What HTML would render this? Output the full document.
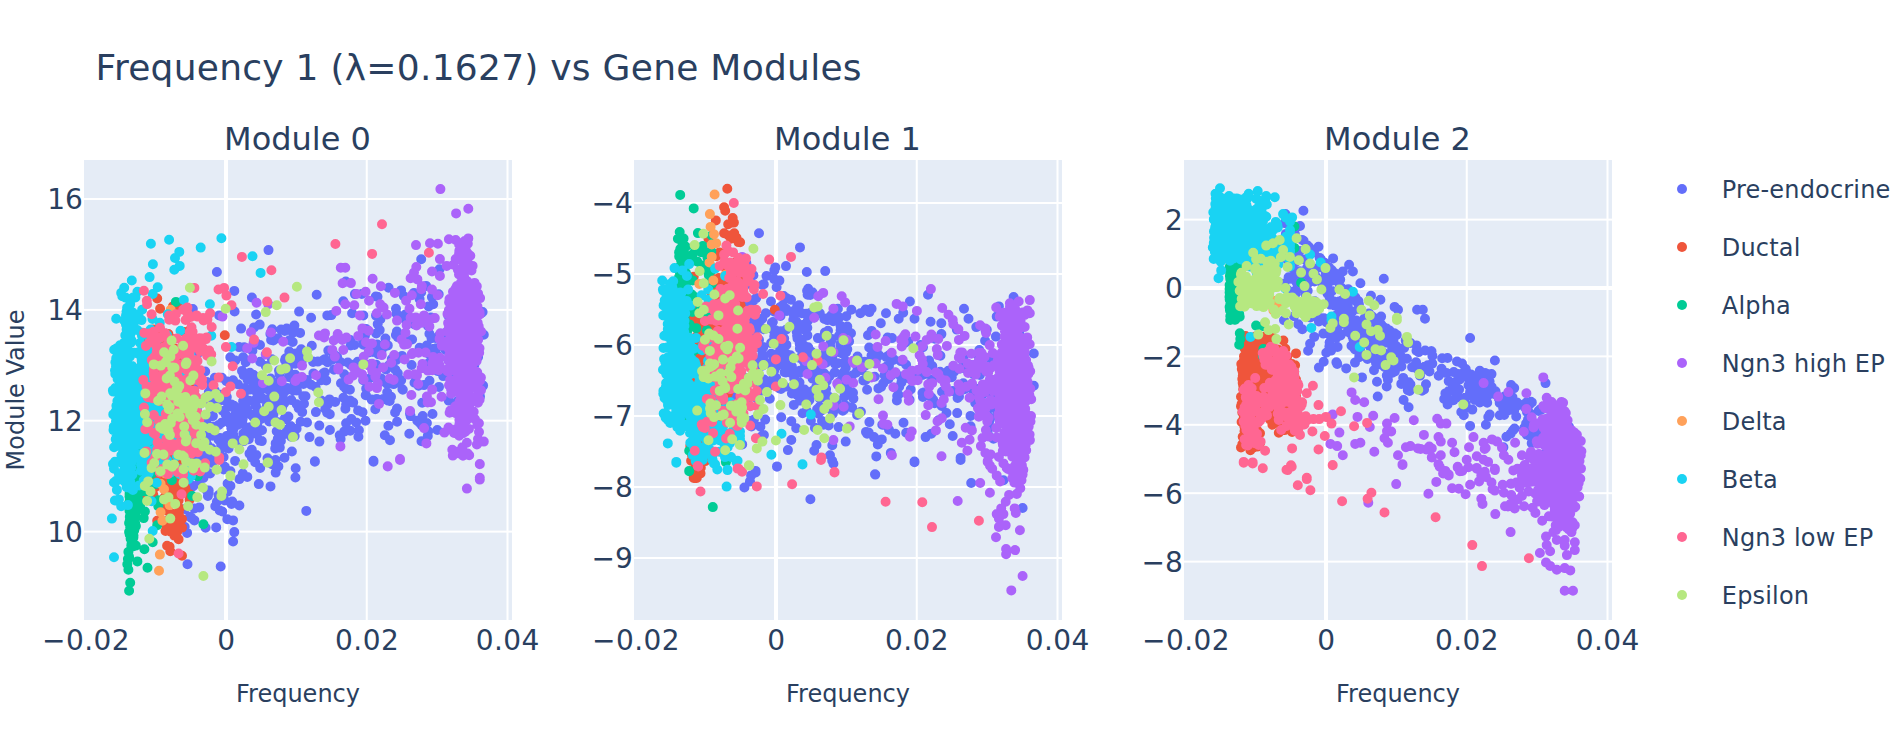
<!DOCTYPE html><html><head><meta charset="utf-8"><title>Frequency 1 vs Gene Modules</title>
<style>html,body{margin:0;padding:0;background:#fff;overflow:hidden}svg{display:block}text{font-family:'DejaVu Sans','Liberation Sans',sans-serif;fill:#2a3f5f}.d{fill:none;stroke-width:10;stroke-linecap:round}</style></head><body>
<svg width="1900" height="740" viewBox="0 0 1900 740">
<rect width="1900" height="740" fill="#fff"/>
<clipPath id="c0"><rect x="84" y="160" width="428" height="460"/></clipPath>
<rect x="84" y="160" width="428" height="460" fill="#E5ECF6"/>
<rect x="365.75" y="160" width="2" height="460" fill="#fff"/><rect x="506.50" y="160" width="2" height="460" fill="#fff"/><rect x="84" y="198.00" width="428" height="2" fill="#fff"/><rect x="84" y="308.90" width="428" height="2" fill="#fff"/><rect x="84" y="419.70" width="428" height="2" fill="#fff"/><rect x="84" y="530.60" width="428" height="2" fill="#fff"/><rect x="224.00" y="160" width="4" height="460" fill="#fff"/>
<g clip-path="url(#c0)">
<path class="d" stroke="#636EFA" d="M255.9 405.7h0M287.2 387.9h0M273.2 394.5h0M209.9 383.9h0M218.5 425.0h0M284.5 391.0h0M184.6 509.0h0M278.4 466.4h0M275.7 391.7h0M237.8 384.2h0M218.8 424.9h0M216.0 403.0h0M213.3 398.7h0M235.2 414.9h0M242.0 370.9h0M247.7 435.8h0M298.5 381.6h0M275.2 406.7h0M255.6 399.8h0M297.7 359.3h0M208.8 392.2h0M202.4 427.6h0M254.4 385.6h0M189.1 457.5h0M188.1 447.2h0M243.2 357.3h0M237.6 419.0h0M289.5 340.2h0M256.4 382.0h0M243.1 401.3h0M241.1 328.6h0M212.5 435.8h0M185.4 456.1h0M206.1 428.8h0M263.6 386.3h0M207.1 418.7h0M226.5 381.2h0M184.4 437.3h0M279.5 374.0h0M201.8 442.7h0M214.8 377.7h0M285.2 400.8h0M242.6 419.5h0M281.4 388.6h0M257.6 388.6h0M269.3 421.5h0M194.5 367.5h0M246.2 430.6h0M242.4 423.8h0M284.2 403.2h0M225.5 439.8h0M252.8 382.1h0M190.8 433.7h0M228.6 448.5h0M221.1 444.8h0M201.3 448.2h0M277.9 338.2h0M227.6 445.0h0M296.6 428.8h0M251.8 449.7h0M253.6 417.5h0M257.4 344.1h0M261.8 441.1h0M201.3 432.3h0M234.6 311.5h0M211.5 449.0h0M230.3 357.3h0M195.1 384.0h0M295.3 363.8h0M208.7 490.5h0M261.3 389.5h0M218.5 439.6h0M284.5 457.8h0M260.2 467.9h0M199.1 435.7h0M281.2 385.0h0M292.7 342.0h0M288.0 364.9h0M249.5 427.4h0M200.7 457.1h0M206.1 440.7h0M290.7 426.0h0M247.5 379.7h0M204.8 434.2h0M285.7 419.1h0M257.8 429.2h0M249.5 453.6h0M227.3 439.2h0M231.3 406.7h0M211.5 448.3h0M188.4 401.1h0M284.8 330.9h0M237.8 440.3h0M247.0 409.2h0M221.0 439.6h0M270.4 333.9h0M186.9 431.4h0M226.8 397.0h0M187.5 408.0h0M198.1 339.1h0M295.2 374.8h0M259.6 440.6h0M233.2 434.5h0M244.2 388.1h0M284.4 391.9h0M223.6 457.1h0M251.9 297.5h0M262.6 398.6h0M224.9 447.1h0M243.7 441.1h0M272.0 464.3h0M288.6 432.4h0M201.4 452.9h0M291.3 400.1h0M184.6 485.8h0M270.6 378.6h0M277.2 394.6h0M199.7 480.7h0M232.2 501.6h0M277.8 389.8h0M185.6 446.7h0M256.3 414.6h0M275.2 448.5h0M243.0 412.2h0M267.5 458.3h0M210.0 390.7h0M206.8 427.1h0M225.8 414.8h0M204.6 471.9h0M223.8 469.4h0M293.0 332.7h0M249.9 372.8h0M223.1 439.4h0M215.2 401.3h0M293.5 332.1h0M235.1 460.9h0M296.7 404.2h0M243.3 433.6h0M243.9 393.4h0M287.1 429.4h0M269.4 390.7h0M250.8 453.9h0M233.1 380.3h0M285.0 360.2h0M231.3 428.3h0M290.1 363.6h0M191.9 475.8h0M233.4 429.3h0M243.7 375.1h0M293.4 390.6h0M212.9 416.1h0M276.7 431.3h0M261.8 378.9h0M266.5 384.4h0M256.4 455.0h0M295.7 468.3h0M222.3 511.5h0M229.8 423.4h0M207.3 444.8h0M189.8 516.7h0M208.5 428.8h0M289.3 353.9h0M280.6 398.8h0M196.9 462.2h0M253.4 374.8h0M239.1 347.1h0M252.4 350.8h0M259.8 431.3h0M219.3 394.6h0M294.6 382.2h0M237.6 425.0h0M256.2 431.5h0M257.1 393.0h0M205.1 458.7h0M191.1 404.7h0M231.3 404.4h0M271.9 359.3h0M277.8 438.9h0M267.9 399.7h0M197.0 408.2h0M289.0 377.1h0M276.2 388.1h0M284.9 418.4h0M244.2 347.3h0M289.3 351.6h0M189.4 429.2h0M187.5 564.3h0M186.3 492.5h0M213.1 426.5h0M212.6 463.0h0M205.6 527.8h0M249.2 400.8h0M188.5 430.3h0M251.9 457.8h0M203.1 459.9h0M262.0 430.3h0M186.4 425.1h0M219.7 510.4h0M291.9 451.5h0M245.9 435.1h0M277.3 422.1h0M259.7 324.6h0M254.2 433.4h0M206.0 427.3h0M250.1 427.4h0M188.6 478.5h0M276.2 383.6h0M294.4 325.6h0M282.2 407.4h0M189.8 412.2h0M222.9 410.9h0M220.6 400.5h0M197.0 426.2h0M256.1 314.5h0M275.7 443.4h0M220.1 437.9h0M283.2 434.8h0M275.7 472.6h0M198.9 441.5h0M272.2 329.2h0M285.5 358.5h0M206.7 381.9h0M250.0 389.6h0M257.5 409.3h0M254.1 327.4h0M195.1 458.5h0M260.0 345.0h0M256.7 418.4h0M278.7 391.2h0M276.4 384.5h0M221.6 422.8h0M267.0 380.2h0M283.7 369.8h0M286.7 328.6h0M202.6 436.8h0M187.1 532.9h0M258.8 484.1h0M208.7 492.7h0M248.8 439.2h0M292.7 363.5h0M227.6 483.5h0M213.1 428.9h0M236.5 413.9h0M259.6 393.5h0M195.6 446.7h0M227.8 403.5h0M199.4 436.4h0M260.2 361.8h0M279.5 380.8h0M227.3 519.3h0M226.7 419.7h0M246.0 402.1h0M208.7 457.7h0M212.5 462.9h0M221.9 377.8h0M236.6 408.0h0M193.4 485.9h0M270.6 409.9h0M250.6 414.5h0M218.5 495.3h0M192.9 413.4h0M271.8 402.1h0M199.1 416.9h0M199.3 507.4h0M199.0 352.4h0M193.3 413.5h0M288.2 370.9h0M215.0 459.2h0M219.2 453.7h0M279.8 447.6h0M255.3 344.2h0M205.5 469.6h0M234.0 405.7h0M285.7 367.0h0M227.2 445.3h0M265.8 365.9h0M195.1 348.5h0M267.6 386.5h0M273.3 340.5h0M279.0 370.6h0M261.5 418.7h0M226.6 436.0h0M191.4 517.9h0M243.7 404.9h0M271.1 340.0h0M205.9 402.3h0M214.6 390.2h0M245.7 362.3h0M270.1 416.6h0M287.1 367.1h0M198.5 351.5h0M205.2 467.5h0M275.9 392.5h0M258.1 420.0h0M266.9 405.4h0M298.6 408.1h0M292.0 390.0h0M280.9 440.9h0M273.4 414.4h0M229.4 437.5h0M257.7 422.3h0M205.2 371.5h0M271.3 392.7h0M271.1 389.2h0M266.9 409.4h0M235.2 360.5h0M227.5 491.7h0M232.3 423.5h0M187.8 391.8h0M281.1 329.6h0M246.4 400.2h0M228.6 417.7h0M395.9 335.0h0M429.7 354.6h0M363.4 344.7h0M451.0 364.9h0M468.3 322.9h0M364.5 363.9h0M315.9 412.1h0M437.3 430.0h0M482.6 312.0h0M317.9 361.6h0M428.0 325.9h0M449.9 372.2h0M468.5 310.0h0M313.1 362.0h0M306.9 380.0h0M481.6 313.0h0M311.8 345.8h0M323.5 360.0h0M401.1 290.4h0M376.0 315.6h0M435.3 338.0h0M326.2 380.4h0M467.3 339.4h0M331.4 315.1h0M439.0 335.8h0M302.2 412.1h0M381.3 378.5h0M295.3 384.0h0M350.2 340.0h0M349.9 389.7h0M429.4 333.8h0M377.7 324.1h0M300.1 355.6h0M483.1 385.6h0M462.3 352.6h0M467.7 380.1h0M337.1 356.7h0M365.9 395.2h0M333.3 353.6h0M313.4 373.4h0M295.4 477.5h0M387.2 383.9h0M313.0 361.4h0M323.4 373.3h0M456.8 356.9h0M383.4 398.9h0M324.8 359.2h0M419.6 299.1h0M340.8 362.3h0M391.8 359.1h0M344.2 374.2h0M389.7 401.0h0M411.6 365.0h0M393.6 384.1h0M366.1 329.1h0M443.2 376.1h0M459.3 410.4h0M324.0 402.2h0M315.6 387.0h0M311.1 384.8h0M480.0 396.5h0M472.6 316.0h0M334.0 369.7h0M478.1 356.9h0M329.5 399.4h0M387.8 345.4h0M386.0 369.5h0M467.4 336.6h0M296.9 390.5h0M350.5 364.6h0M406.0 320.0h0M301.9 382.8h0M335.1 402.0h0M379.7 330.1h0M460.8 338.8h0M437.4 371.0h0M450.7 315.2h0M437.4 356.0h0M427.0 319.2h0M454.7 382.0h0M421.9 425.4h0M432.5 414.0h0M347.8 362.5h0M321.7 401.9h0M436.5 354.3h0M321.3 380.2h0M468.3 391.7h0M405.3 314.5h0M353.2 402.6h0M471.6 342.7h0M319.3 425.6h0M389.3 365.0h0M306.9 357.3h0M477.3 351.6h0M401.2 380.2h0M445.7 350.0h0M344.0 386.7h0M445.4 332.9h0M426.1 285.9h0M414.5 382.8h0M474.4 364.8h0M373.5 367.6h0M369.9 366.0h0M424.0 385.1h0M451.8 333.8h0M354.3 344.9h0M419.6 347.7h0M329.8 414.2h0M396.6 313.7h0M439.0 386.9h0M301.7 360.7h0M430.9 317.4h0M292.0 434.9h0M475.9 340.5h0M380.4 319.3h0M368.8 352.5h0M429.5 380.8h0M391.0 396.7h0M431.5 338.2h0M305.5 396.2h0M398.7 380.0h0M397.8 337.1h0M470.8 355.1h0M296.7 385.1h0M377.3 344.6h0M412.1 339.5h0M396.4 359.9h0M303.5 383.9h0M404.7 338.4h0M332.3 359.7h0M327.1 412.6h0M460.3 352.8h0M327.6 404.8h0M377.6 400.3h0M435.3 369.0h0M426.9 423.0h0M396.9 331.5h0M446.4 373.6h0M379.8 350.9h0M410.0 413.7h0M448.7 400.6h0M421.2 292.2h0M414.2 324.2h0M368.2 385.7h0M397.9 382.6h0M366.2 388.6h0M434.1 348.8h0M363.2 380.3h0M380.0 382.0h0M436.3 348.2h0M387.2 392.2h0M354.9 294.1h0M450.2 367.5h0M363.3 332.0h0M453.7 376.8h0M442.1 342.5h0M376.2 333.5h0M428.0 363.7h0M295.7 353.5h0M365.0 335.5h0M456.8 299.0h0M402.0 355.9h0M397.8 373.3h0M418.6 385.8h0M421.1 348.9h0M402.8 389.8h0M371.0 364.0h0M324.8 372.6h0M346.1 388.9h0M346.1 404.8h0M373.0 351.9h0M483.8 334.7h0M357.7 361.8h0M376.2 364.7h0M361.5 336.8h0M402.4 389.2h0M473.8 331.7h0M462.4 360.0h0M362.5 339.0h0M341.0 383.2h0M461.5 358.0h0M385.3 346.3h0M422.7 416.1h0M303.3 396.2h0M458.0 400.9h0M350.0 400.4h0M385.4 338.6h0M327.6 362.2h0M370.9 377.5h0M450.5 349.9h0M450.4 349.6h0M381.4 351.5h0M438.7 294.3h0M378.3 354.3h0M361.8 294.0h0M395.4 369.8h0M328.3 350.5h0M350.7 345.5h0M426.8 345.5h0M439.3 358.5h0M300.1 332.9h0M431.9 297.1h0M448.4 315.7h0M375.8 296.5h0M301.2 349.2h0M422.2 402.8h0M337.0 337.7h0M414.5 375.0h0M365.5 420.8h0M304.0 403.7h0M362.6 412.3h0M375.3 409.3h0M346.1 423.3h0M409.3 433.7h0M340.6 439.0h0M358.1 410.5h0M300.6 421.8h0M365.7 395.3h0M395.1 412.5h0M390.0 440.2h0M321.3 400.6h0M427.8 435.9h0M388.4 425.7h0M345.4 408.8h0M344.2 431.6h0M397.0 408.6h0M309.5 437.1h0M376.7 398.9h0M388.2 400.6h0M358.9 430.3h0M410.6 416.1h0M352.0 401.9h0M351.4 419.1h0M325.3 409.0h0M417.3 420.8h0M329.9 430.0h0M384.8 435.3h0M343.4 397.8h0M419.6 422.8h0M421.5 441.2h0M288.4 416.6h0M428.2 431.2h0M371.7 399.6h0M294.7 436.1h0M356.1 422.4h0M291.2 436.7h0M268.5 250.1h0M216.9 272.0h0M234.3 290.9h0M316.7 294.7h0M299.1 311.6h0M421.2 259.3h0M388.6 287.7h0M345.8 281.6h0M343.3 301.2h0M377.5 296.7h0M396.0 308.7h0M311.1 317.7h0M327.3 315.4h0M439.5 269.3h0M192.8 309.1h0M219.2 315.4h0M414.0 292.9h0M403.9 296.3h0M352.1 313.2h0M363.3 315.4h0M400.5 317.7h0M433.2 304.2h0M428.7 306.4h0M270.5 486.4h0M306.3 510.9h0M314.9 461.8h0M373.5 461.8h0M220.7 566.5h0M233.1 541.5h0M234.3 532.1h0M233.1 520.4h0M216.2 527.4h0M194.4 520.4h0M184.7 526.9h0M194.4 508.4h0M215.3 506.2h0M231.5 503.9h0M239.4 505.5h0M230.4 485.9h0M207.9 496.0h0M206.8 490.4h0M247.3 476.9h0M239.4 479.1h0M242.8 473.5h0M230.4 471.3h0M224.8 466.8h0M205.6 463.4h0M210.1 473.5h0M203.4 478.0h0M201.1 471.3h0M192.1 487.0h0M216.9 501.7h0M224.8 500.5h0M255.2 462.3h0M275.5 460.0h0M205.6 461.1h0M319.4 441.6h0M314.9 461.2h0M373.5 460.8h0M339.7 435.3h0M350.3 430.8h0M358.4 436.7h0M397.1 421.8h0M307.0 422.5h0"/>
<path class="d" stroke="#EF553B" d="M158.0 344.4h0M151.7 439.6h0M158.0 397.1h0M151.5 367.6h0M176.2 418.0h0M154.4 399.3h0M153.6 396.3h0M161.1 434.2h0M145.0 490.3h0M158.6 329.1h0M181.8 467.7h0M169.0 389.4h0M171.6 434.6h0M168.8 406.5h0M163.1 464.7h0M159.6 438.7h0M156.2 388.3h0M176.4 447.0h0M141.4 392.0h0M187.5 334.5h0M162.6 399.3h0M147.8 387.6h0M152.7 430.2h0M149.1 344.8h0M165.0 354.1h0M148.4 392.5h0M183.7 391.6h0M147.1 418.2h0M148.1 465.5h0M161.2 393.7h0M182.1 437.2h0M174.3 442.1h0M147.5 366.2h0M168.1 425.3h0M162.1 372.6h0M182.1 462.9h0M186.6 435.5h0M164.6 415.7h0M168.7 354.7h0M173.7 420.2h0M150.4 380.5h0M141.9 446.8h0M163.0 409.6h0M144.0 378.4h0M160.8 456.6h0M163.8 447.5h0M145.8 388.3h0M159.7 467.3h0M158.9 401.6h0M170.3 401.1h0M181.9 420.6h0M152.7 381.1h0M146.4 395.1h0M144.4 407.8h0M172.2 483.9h0M162.9 482.5h0M142.7 403.4h0M154.9 487.5h0M162.6 413.1h0M171.6 432.1h0M150.7 454.8h0M157.2 428.1h0M155.6 426.0h0M166.2 361.1h0M154.9 473.7h0M146.6 396.5h0M160.8 401.3h0M161.9 460.0h0M160.4 451.8h0M159.2 451.0h0M145.8 459.0h0M151.6 491.1h0M166.3 412.9h0M174.2 457.2h0M179.0 381.5h0M152.6 399.1h0M179.6 462.6h0M184.3 432.6h0M183.6 355.0h0M188.4 431.3h0M159.2 406.8h0M158.7 378.2h0M177.7 434.5h0M166.0 396.8h0M151.9 344.3h0M155.0 365.0h0M145.1 494.6h0M161.6 346.8h0M178.9 425.0h0M180.8 442.5h0M160.5 443.8h0M158.4 359.9h0M146.2 400.5h0M169.6 421.3h0M157.3 451.0h0M173.5 386.0h0M161.4 362.6h0M145.6 460.1h0M186.8 464.7h0M166.3 431.7h0M174.4 387.6h0M185.9 433.3h0M155.2 419.9h0M149.2 452.7h0M155.6 358.8h0M167.4 420.2h0M174.2 407.8h0M184.5 365.1h0M185.0 424.7h0M184.5 416.6h0M187.9 396.5h0M174.6 432.8h0M159.5 351.2h0M168.0 412.6h0M154.7 434.4h0M179.3 427.8h0M155.2 463.4h0M144.4 360.9h0M189.4 347.1h0M174.7 425.8h0M166.2 435.5h0M179.6 442.7h0M182.2 375.7h0M168.5 451.3h0M149.2 376.9h0M153.3 348.1h0M143.3 429.7h0M165.8 447.2h0M184.7 440.4h0M152.8 496.5h0M153.4 427.8h0M166.5 469.8h0M170.1 368.8h0M148.6 352.4h0M177.0 479.2h0M152.7 481.4h0M144.5 438.0h0M165.4 425.2h0M176.6 422.5h0M150.0 384.0h0M168.3 484.2h0M160.2 444.6h0M148.5 437.8h0M188.3 431.9h0M161.0 462.2h0M159.6 437.7h0M175.7 448.5h0M179.0 362.4h0M186.1 438.0h0M168.2 391.7h0M150.6 409.2h0M151.8 455.1h0M171.7 458.1h0M173.0 443.1h0M188.6 342.2h0M170.0 437.6h0M182.1 361.7h0M190.8 377.9h0M165.1 439.7h0M145.9 401.7h0M185.4 451.4h0M173.1 450.0h0M181.1 447.5h0M160.1 374.7h0M158.2 386.1h0M163.6 367.1h0M165.3 391.0h0M151.9 365.9h0M161.4 385.3h0M166.9 405.6h0M144.8 370.0h0M165.6 351.1h0M178.0 353.7h0M160.9 435.4h0M176.7 417.7h0M183.0 461.2h0M150.5 462.0h0M173.8 399.7h0M165.5 445.2h0M147.6 350.2h0M166.2 468.8h0M191.5 405.3h0M167.5 362.7h0M166.9 432.1h0M189.2 330.8h0M162.5 379.9h0M157.8 448.7h0M178.8 418.4h0M175.6 392.9h0M186.0 457.8h0M172.3 368.3h0M143.3 427.8h0M187.4 392.6h0M158.0 376.9h0M167.3 435.9h0M178.8 370.3h0M169.9 388.7h0M169.3 365.8h0M147.5 442.3h0M163.2 361.0h0M148.5 354.6h0M152.7 422.2h0M165.5 445.5h0M169.8 357.7h0M149.1 468.3h0M179.3 379.1h0M157.9 420.9h0M155.8 432.1h0M155.6 441.8h0M168.4 334.1h0M167.8 487.8h0M143.3 440.3h0M172.2 395.8h0M173.0 368.9h0M149.8 338.8h0M173.8 353.7h0M172.9 439.5h0M156.1 399.7h0M169.9 364.1h0M151.1 391.3h0M156.6 485.4h0M176.3 400.1h0M180.2 388.7h0M185.4 475.8h0M180.7 435.8h0M164.8 417.0h0M173.9 387.6h0M148.4 345.1h0M175.5 362.3h0M144.7 393.4h0M189.9 405.1h0M191.5 431.0h0M161.6 439.8h0M158.6 425.0h0M163.7 424.9h0M143.2 369.7h0M158.9 391.6h0M159.9 372.1h0M186.7 385.6h0M161.1 402.6h0M185.0 359.0h0M147.2 365.0h0M155.6 410.5h0M179.3 420.2h0M156.7 385.5h0M164.2 437.4h0M147.7 405.1h0M166.3 369.1h0M145.0 416.8h0M189.6 499.7h0M171.2 384.6h0M148.4 467.5h0M175.4 477.0h0M155.6 482.4h0M177.2 378.0h0M167.5 420.2h0M167.3 403.6h0M173.5 404.6h0M151.0 442.1h0M154.3 417.3h0M153.6 407.0h0M159.3 472.8h0M143.8 382.5h0M163.9 368.1h0M170.6 450.7h0M146.5 446.7h0M144.1 464.2h0M176.2 366.8h0M178.2 463.7h0M155.4 436.7h0M189.8 494.3h0M190.5 358.8h0M149.5 424.8h0M192.0 402.5h0M142.4 343.5h0M165.2 382.8h0M157.9 465.7h0M163.9 393.9h0M149.1 382.5h0M170.9 454.1h0M166.2 459.5h0M184.8 459.4h0M163.5 379.5h0M148.4 412.4h0M166.9 461.4h0M187.2 385.5h0M144.1 381.3h0M172.1 452.3h0M160.8 485.3h0M142.2 363.2h0M155.4 349.7h0M152.2 369.4h0M152.7 408.8h0M176.3 442.7h0M174.4 408.4h0M151.0 383.5h0M144.8 421.9h0M167.4 371.7h0M160.1 412.9h0M181.5 386.1h0M178.0 451.8h0M161.3 377.4h0M158.7 370.1h0M145.7 395.3h0M144.8 341.0h0M142.9 382.1h0M154.5 381.8h0M153.9 454.8h0M176.1 395.8h0M154.4 379.4h0M158.2 354.7h0M171.6 362.1h0M177.1 412.0h0M190.3 405.3h0M157.3 466.0h0M175.6 386.7h0M184.3 462.7h0M170.0 426.6h0M176.5 414.8h0M186.3 356.9h0M149.3 448.4h0M169.9 477.9h0M145.1 424.3h0M148.9 449.3h0M150.0 396.7h0M159.2 398.3h0M164.8 385.2h0M170.8 458.9h0M184.5 430.4h0M176.1 404.5h0M155.0 400.2h0M160.3 440.0h0M172.7 429.5h0M170.0 377.6h0M176.4 492.2h0M181.4 426.6h0M169.2 415.5h0M159.8 481.5h0M188.7 461.1h0M165.2 411.0h0M190.5 439.1h0M158.2 366.9h0M153.8 386.2h0M164.2 469.9h0M153.3 329.6h0M144.3 445.7h0M179.0 377.6h0M175.1 370.9h0M160.0 406.2h0M161.9 427.0h0M141.2 442.5h0M153.3 494.7h0M141.3 431.1h0M190.1 454.7h0M164.3 388.1h0M168.3 447.1h0M144.8 421.9h0M160.7 394.2h0M186.0 410.7h0M180.4 412.2h0M162.0 423.6h0M163.0 433.1h0M159.8 392.1h0M150.7 381.7h0M162.1 448.6h0M152.7 338.7h0M176.2 387.2h0M174.5 484.9h0M159.3 383.8h0M148.9 445.9h0M162.5 340.7h0M177.6 479.6h0M152.6 485.1h0M169.3 456.2h0M185.8 405.0h0M174.7 431.1h0M162.4 374.6h0M175.0 451.4h0M155.1 364.6h0M176.3 402.7h0M170.0 459.8h0M145.3 364.9h0M163.4 398.6h0M158.8 422.4h0M158.6 354.6h0M156.5 467.4h0M153.4 430.3h0M155.1 346.8h0M161.2 412.9h0M164.0 380.1h0M174.4 385.4h0M157.6 418.5h0M187.5 383.1h0M148.5 458.4h0M152.0 383.3h0M183.0 459.2h0M154.5 413.0h0M156.2 453.5h0M166.3 390.6h0M182.5 392.3h0M145.8 363.1h0M142.3 441.0h0M145.3 457.2h0M145.6 473.1h0M167.9 426.2h0M144.7 405.5h0M164.4 432.5h0M169.8 413.8h0M147.8 480.9h0M164.5 457.5h0M168.3 377.3h0M149.6 384.1h0M160.7 476.5h0M144.2 428.9h0M167.3 404.6h0M178.8 468.4h0M146.1 397.6h0M157.9 402.4h0M183.6 394.2h0M152.3 453.9h0M165.6 360.6h0M142.1 389.4h0M146.1 381.5h0M152.1 447.7h0M154.2 411.9h0M151.9 415.7h0M151.3 339.4h0M158.9 411.1h0M174.5 348.6h0M165.6 428.8h0M166.1 431.5h0M189.5 414.2h0M167.3 438.7h0M173.5 441.8h0M159.6 421.4h0M160.7 406.3h0M157.4 458.5h0M178.7 464.6h0M154.6 356.4h0M153.7 462.5h0M157.2 438.1h0M157.7 458.2h0M169.7 436.0h0M144.3 359.0h0M167.5 362.2h0M164.8 497.1h0M154.8 426.4h0M151.1 351.2h0M146.1 430.7h0M160.9 398.7h0M184.4 332.0h0M141.9 342.9h0M190.9 427.2h0M178.0 412.8h0M153.4 403.8h0M176.9 427.8h0M154.2 442.1h0M155.8 401.4h0M152.2 377.7h0M163.9 359.5h0M171.4 390.4h0M149.4 409.5h0M154.2 403.0h0M142.9 349.5h0M161.8 393.3h0M173.2 367.5h0M172.7 339.1h0M143.1 427.4h0M147.0 441.8h0M144.5 435.9h0M170.5 364.6h0M185.5 459.9h0M152.8 379.7h0M147.1 363.9h0M168.4 387.6h0M181.6 410.1h0M168.5 447.1h0M182.0 443.1h0M164.6 414.0h0M185.4 457.0h0M185.7 418.7h0M160.1 455.3h0M189.3 351.8h0M165.1 344.2h0M163.7 449.9h0M144.5 352.4h0M156.5 401.4h0M176.8 410.6h0M174.3 393.0h0M168.6 394.6h0M167.3 477.7h0M160.0 454.8h0M174.3 416.1h0M147.5 414.1h0M163.7 447.7h0M174.8 497.3h0M149.4 361.5h0M178.6 418.9h0M175.2 406.6h0M157.5 440.2h0M177.3 422.2h0M144.4 444.7h0M150.2 396.0h0M146.2 417.2h0M148.6 384.8h0M156.7 385.1h0M142.6 408.6h0M184.6 408.6h0M148.6 362.2h0M184.3 485.7h0M183.1 408.9h0M177.6 352.7h0M184.0 464.6h0M145.5 381.3h0M158.8 437.9h0M180.6 414.2h0M149.2 426.3h0M163.4 422.7h0M149.8 389.1h0M177.2 416.8h0M171.2 418.0h0M169.0 434.6h0M188.1 367.6h0M152.6 353.3h0M147.3 398.3h0M181.3 439.1h0M164.7 418.4h0M141.1 436.4h0M154.8 443.6h0M147.6 468.1h0M167.6 434.6h0M164.1 421.5h0M183.9 422.9h0M175.5 475.8h0M169.7 451.8h0M179.0 369.9h0M170.7 386.4h0M181.6 429.9h0M151.6 387.0h0M143.9 398.1h0M179.7 372.0h0M141.8 403.2h0M181.5 434.1h0M148.2 459.8h0M156.2 415.4h0M155.1 411.6h0M169.0 460.1h0M176.3 437.4h0M141.7 392.5h0M174.9 408.0h0M160.6 423.0h0M145.6 352.9h0M166.7 403.7h0M165.8 447.6h0M188.8 421.3h0M153.3 399.5h0M181.2 445.7h0M147.9 419.1h0M183.3 363.6h0M147.5 457.6h0M155.1 446.3h0M168.0 441.9h0M164.1 460.4h0M168.9 464.5h0M146.5 414.0h0M176.0 353.9h0M183.4 352.7h0M184.9 475.7h0M151.1 447.0h0M150.1 419.6h0M165.4 395.4h0M162.3 416.4h0M143.4 416.1h0M172.8 399.8h0M153.8 383.5h0M154.3 425.3h0M156.8 387.7h0M167.8 356.4h0M173.2 382.3h0M158.6 447.4h0M149.6 449.1h0M168.8 405.2h0M143.7 417.3h0M163.2 401.3h0M182.2 365.1h0M181.6 473.6h0M191.6 431.8h0M156.4 381.0h0M141.4 408.8h0M181.4 454.7h0M167.9 404.0h0M183.4 352.6h0M162.2 372.3h0M184.7 419.5h0M178.1 430.5h0M175.6 410.7h0M171.6 460.2h0M169.6 459.7h0M166.4 429.5h0M166.3 416.2h0M180.8 403.6h0M152.3 439.8h0M160.0 456.4h0M180.7 417.7h0M160.3 435.2h0M157.3 400.4h0M156.1 351.5h0M148.4 370.0h0M156.0 449.5h0M165.9 435.1h0M179.8 486.6h0M143.0 417.5h0M168.7 453.9h0M174.8 474.5h0M148.8 459.8h0M173.5 387.6h0M167.7 406.7h0M142.6 420.8h0M161.6 370.6h0M157.0 436.3h0M173.4 461.1h0M172.3 393.4h0M153.7 401.9h0M190.1 405.9h0M167.1 404.3h0M181.3 383.1h0M188.8 433.8h0M152.1 415.9h0M177.4 489.8h0M157.4 442.3h0M160.8 439.2h0M160.4 405.0h0M162.0 351.4h0M183.2 411.0h0M164.4 376.7h0M159.1 457.8h0M156.7 413.6h0M168.5 490.0h0M145.0 448.1h0M152.4 452.6h0M161.0 425.4h0M151.2 424.4h0M159.7 444.4h0M150.4 456.5h0M187.3 383.0h0M170.5 437.2h0M161.0 411.0h0M168.1 403.5h0M160.3 383.8h0M167.8 349.8h0M167.8 468.5h0M188.8 417.7h0M161.6 428.5h0M145.2 498.0h0M175.2 375.0h0M143.0 462.5h0M155.7 443.1h0M160.9 433.0h0M179.6 436.6h0M185.9 414.0h0M155.4 486.6h0M164.6 442.7h0M160.1 430.6h0M155.4 471.2h0M149.0 455.5h0M154.7 435.8h0M147.8 429.8h0M172.1 494.1h0M190.8 438.1h0M159.8 411.1h0M154.1 376.6h0M171.4 399.6h0M143.9 367.9h0M159.2 420.0h0M142.2 426.7h0M175.2 416.0h0M163.9 444.3h0M158.9 422.6h0M169.0 372.2h0M157.3 472.2h0M173.3 383.8h0M167.5 359.8h0M159.1 366.5h0M180.7 414.5h0M185.2 459.3h0M141.2 467.6h0M147.2 424.5h0M191.4 361.4h0M189.0 385.5h0M148.0 374.7h0M149.9 407.1h0M152.5 335.2h0M162.6 420.1h0M179.4 444.1h0M149.0 408.4h0M160.6 435.8h0M174.0 372.8h0M177.5 349.6h0M155.6 386.4h0M162.8 467.1h0M165.1 523.1h0M169.1 498.9h0M164.3 522.9h0M177.9 523.9h0M170.4 482.1h0M175.4 476.5h0M167.9 528.2h0M169.0 478.4h0M179.7 493.5h0M166.2 510.5h0M174.4 535.6h0M165.2 504.5h0M169.4 502.5h0M177.5 491.3h0M167.1 545.8h0M177.3 531.6h0M167.9 502.6h0M180.9 470.1h0M180.0 485.2h0M169.2 519.5h0M170.7 487.0h0M167.0 527.3h0M173.2 514.0h0M178.9 512.3h0M163.3 521.3h0M157.2 298.5h0M160.1 308.7h0M173.0 306.4h0M178.6 307.5h0M175.2 488.2h0M185.4 488.2h0M176.4 493.8h0M178.6 500.5h0M179.7 508.4h0M176.4 514.1h0M182.0 519.0h0M179.7 525.3h0M182.0 527.6h0M165.5 531.0h0M170.7 531.6h0M175.2 535.5h0M178.6 539.3h0M169.6 546.7h0M170.3 551.2h0M182.0 555.7h0M157.2 520.8h0M142.6 493.8h0M174.1 520.8h0M173.0 527.6h0M224.8 335.3h0"/>
<path class="d" stroke="#00CC96" d="M131.0 491.4h0M129.7 444.3h0M131.6 526.9h0M132.0 513.5h0M132.6 463.5h0M131.6 463.9h0M133.2 440.9h0M131.3 438.5h0M132.0 493.9h0M132.1 499.4h0M130.1 491.2h0M131.0 488.6h0M131.8 463.8h0M132.4 491.5h0M131.3 436.3h0M133.0 480.9h0M132.8 525.0h0M134.0 520.4h0M134.9 466.7h0M133.1 470.6h0M132.0 522.1h0M129.7 534.4h0M129.9 435.6h0M131.0 467.8h0M132.6 487.7h0M132.5 517.3h0M132.0 455.4h0M131.7 500.0h0M133.4 471.6h0M132.5 493.6h0M132.7 476.6h0M132.7 470.5h0M130.8 512.4h0M129.7 501.1h0M133.1 448.0h0M132.9 487.2h0M131.5 440.3h0M131.1 457.9h0M137.0 441.7h0M130.3 440.7h0M131.5 460.0h0M132.6 451.1h0M129.5 496.5h0M132.3 504.6h0M136.0 473.5h0M134.1 446.9h0M133.4 504.9h0M133.3 502.6h0M132.2 500.4h0M134.1 510.0h0M131.7 474.2h0M131.1 442.7h0M132.2 465.3h0M134.0 497.7h0M132.7 457.6h0M133.5 459.5h0M134.6 438.6h0M137.1 445.6h0M134.9 506.1h0M131.3 494.3h0M130.1 445.7h0M132.6 448.1h0M129.8 463.7h0M133.6 497.2h0M130.8 445.5h0M134.1 475.6h0M135.0 442.8h0M132.6 493.3h0M130.5 507.7h0M130.6 445.8h0M131.5 457.4h0M134.3 504.7h0M134.3 468.9h0M136.4 464.4h0M133.3 496.3h0M133.2 486.6h0M132.0 514.2h0M129.4 504.6h0M133.2 463.3h0M132.8 477.1h0M133.6 478.9h0M133.6 439.8h0M132.9 451.4h0M135.4 510.0h0M129.0 432.9h0M129.5 510.7h0M131.2 489.3h0M130.6 476.5h0M133.5 496.9h0M131.3 495.1h0M135.8 517.1h0M135.3 468.7h0M133.7 473.8h0M131.2 473.3h0M133.4 537.4h0M133.8 509.2h0M129.7 452.9h0M132.8 470.7h0M133.6 459.5h0M132.5 481.2h0M135.5 487.2h0M134.7 511.7h0M130.2 493.9h0M132.3 459.7h0M130.2 476.3h0M133.3 465.9h0M130.1 482.3h0M134.0 511.1h0M132.9 435.1h0M134.1 520.3h0M131.7 469.6h0M135.9 526.1h0M131.6 493.2h0M135.0 518.0h0M132.9 497.9h0M133.5 513.5h0M136.0 482.6h0M132.7 455.9h0M135.1 501.1h0M133.9 502.3h0M131.5 544.1h0M131.7 475.0h0M132.0 512.9h0M132.8 443.3h0M135.6 474.1h0M132.1 544.7h0M130.4 523.6h0M134.6 454.5h0M131.1 523.9h0M133.0 516.6h0M131.1 504.4h0M133.5 492.5h0M134.2 488.2h0M131.1 454.9h0M132.1 465.5h0M132.7 503.1h0M133.9 485.3h0M130.8 536.7h0M134.5 471.1h0M130.9 471.1h0M132.0 489.4h0M131.8 492.6h0M131.9 483.2h0M133.6 456.4h0M131.0 526.1h0M129.2 461.2h0M129.3 502.5h0M136.6 472.5h0M131.6 445.2h0M135.2 523.6h0M133.1 455.6h0M130.2 494.2h0M132.0 470.5h0M133.9 503.8h0M134.7 478.2h0M130.0 467.6h0M133.7 546.2h0M132.6 474.7h0M134.4 476.5h0M135.1 448.8h0M131.2 458.8h0M132.9 500.8h0M135.9 498.2h0M133.5 481.4h0M132.5 460.3h0M137.3 502.0h0M129.7 430.2h0M134.0 471.1h0M130.7 473.8h0M132.1 456.0h0M132.2 486.0h0M135.3 461.4h0M129.9 457.3h0M130.8 535.6h0M133.1 503.7h0M131.0 517.5h0M132.9 483.1h0M129.6 510.5h0M131.2 505.0h0M134.3 518.0h0M131.6 474.8h0M133.4 489.4h0M133.2 480.1h0M131.2 439.8h0M134.2 482.3h0M132.4 500.7h0M134.2 464.5h0M130.1 515.8h0M134.3 520.3h0M133.2 469.4h0M131.9 524.5h0M132.3 534.4h0M133.7 495.8h0M131.3 452.4h0M132.9 525.9h0M132.3 477.0h0M131.2 470.6h0M135.0 485.4h0M131.1 465.8h0M131.7 514.1h0M130.7 505.3h0M130.9 518.5h0M134.5 499.4h0M131.4 458.2h0M129.8 477.2h0M130.7 508.3h0M133.7 469.8h0M133.6 474.7h0M133.9 464.4h0M133.0 516.5h0M130.3 504.4h0M133.6 481.2h0M129.4 475.1h0M129.6 494.8h0M133.9 507.1h0M129.1 504.9h0M129.5 473.0h0M129.9 495.0h0M132.4 507.3h0M131.3 504.9h0M133.9 455.3h0M130.4 458.7h0M129.2 475.1h0M130.9 487.4h0M132.1 509.6h0M129.9 500.5h0M132.6 478.2h0M136.0 482.7h0M130.7 534.8h0M132.1 463.6h0M135.0 491.1h0M130.6 529.0h0M130.1 492.4h0M129.6 493.2h0M132.8 470.4h0M133.1 478.6h0M131.6 513.5h0M132.1 496.1h0M134.8 474.1h0M133.9 508.8h0M131.9 495.1h0M132.2 485.2h0M133.5 491.0h0M131.5 489.6h0M130.5 471.8h0M130.9 468.2h0M131.9 482.8h0M130.6 453.4h0M133.0 444.2h0M129.7 521.0h0M131.0 474.8h0M129.8 481.3h0M129.6 477.9h0M133.5 482.7h0M130.9 482.7h0M132.9 484.0h0M129.5 457.9h0M132.1 510.0h0M130.9 461.2h0M130.8 513.0h0M133.2 450.2h0M132.3 511.8h0M131.5 477.6h0M133.8 461.9h0M132.3 493.3h0M133.1 450.6h0M133.6 484.3h0M131.8 468.4h0M131.3 462.5h0M132.6 498.2h0M131.0 508.3h0M132.8 456.4h0M134.3 530.3h0M133.8 464.2h0M131.1 528.2h0M129.1 479.4h0M131.8 462.6h0M131.6 459.6h0M134.3 449.2h0M131.1 522.6h0M131.4 479.5h0M133.5 535.7h0M130.8 476.0h0M131.5 507.3h0M135.7 471.0h0M135.2 474.9h0M133.3 529.0h0M132.5 474.1h0M129.8 516.9h0M133.1 481.9h0M132.0 459.4h0M132.4 497.2h0M130.8 464.0h0M131.9 518.8h0M131.5 510.8h0M132.6 483.9h0M135.0 500.3h0M132.7 498.9h0M129.8 473.7h0M130.2 508.9h0M133.1 475.2h0M132.8 500.5h0M130.6 453.5h0M132.5 485.1h0M130.2 494.5h0M130.0 458.3h0M135.0 469.6h0M134.6 466.1h0M134.8 503.9h0M131.5 460.5h0M131.8 495.3h0M130.5 527.9h0M131.8 492.8h0M133.3 433.8h0M131.9 485.9h0M134.1 513.4h0M134.5 473.6h0M132.6 515.5h0M132.6 500.7h0M131.8 494.8h0M132.6 474.4h0M129.4 466.9h0M132.8 474.6h0M132.3 484.1h0M130.0 498.0h0M136.6 494.9h0M129.8 473.3h0M130.0 484.3h0M132.5 493.9h0M130.1 433.6h0M156.2 460.5h0M151.2 447.1h0M139.3 476.4h0M153.6 462.5h0M143.8 463.9h0M148.7 493.2h0M149.6 482.2h0M141.6 491.8h0M145.7 430.6h0M156.0 484.0h0M158.2 455.3h0M157.8 449.8h0M149.9 448.7h0M158.4 500.3h0M137.9 490.7h0M161.5 452.1h0M135.3 441.6h0M159.2 470.3h0M156.2 458.5h0M144.9 511.5h0M156.1 433.5h0M160.8 463.6h0M138.6 470.3h0M152.2 473.3h0M134.1 488.8h0M175.9 301.9h0M129.1 590.7h0M130.2 582.8h0M128.4 569.7h0M127.3 564.3h0M137.4 561.4h0M147.5 567.7h0M129.1 556.9h0M128.4 551.9h0M135.8 545.6h0M144.4 549.2h0M130.6 538.8h0M152.7 542.2h0M129.1 532.1h0M130.2 527.6h0M157.2 525.3h0M143.7 518.1h0M132.0 520.8h0M131.3 514.1h0M140.3 507.3h0M132.4 505.1h0M130.2 498.3h0M132.4 493.8h0M134.7 488.2h0M130.2 489.3h0M203.4 524.2h0M192.1 496.0h0M197.8 476.2h0M171.9 480.3h0M158.3 506.2h0M139.2 500.5h0M127.9 505.1h0M135.8 511.8h0M129.1 523.1h0M132.4 534.3h0M131.3 545.6h0M127.9 559.1h0"/>
<path class="d" stroke="#AB63FA" d="M469.9 415.4h0M467.7 453.5h0M448.1 340.8h0M470.3 396.4h0M465.2 397.3h0M460.7 325.5h0M460.5 309.7h0M478.9 423.2h0M477.1 332.7h0M479.5 348.3h0M454.2 336.1h0M458.4 343.3h0M471.7 321.8h0M453.7 383.7h0M457.9 406.9h0M448.7 332.3h0M476.8 286.2h0M473.0 351.7h0M467.3 281.3h0M465.9 320.1h0M460.5 405.8h0M463.0 455.7h0M469.2 366.6h0M457.9 300.7h0M474.4 385.1h0M463.5 246.6h0M456.6 317.6h0M475.0 419.2h0M462.8 383.5h0M468.1 286.2h0M463.0 273.3h0M468.7 388.6h0M452.6 347.2h0M473.2 322.3h0M450.8 368.3h0M448.1 323.1h0M466.2 261.5h0M467.6 386.4h0M464.9 319.8h0M453.7 303.5h0M470.6 288.4h0M451.6 360.9h0M460.1 312.6h0M457.3 378.0h0M460.8 337.2h0M471.2 398.9h0M458.6 331.7h0M468.8 319.5h0M467.6 259.3h0M449.5 299.1h0M454.1 382.4h0M461.3 292.1h0M459.0 301.9h0M466.6 364.9h0M447.6 371.3h0M470.1 318.5h0M470.3 353.0h0M464.0 275.9h0M452.2 335.8h0M464.0 390.7h0M459.4 424.2h0M468.8 341.8h0M463.3 337.6h0M470.2 370.2h0M460.3 400.1h0M476.3 371.8h0M455.4 315.1h0M468.2 365.8h0M451.2 393.8h0M470.3 316.9h0M455.8 288.3h0M464.8 372.8h0M456.2 366.3h0M460.2 393.7h0M465.5 353.6h0M463.1 320.0h0M460.8 329.5h0M464.1 302.5h0M455.8 306.2h0M471.9 323.9h0M471.0 327.4h0M474.4 400.6h0M478.1 293.5h0M456.0 347.4h0M473.0 322.7h0M473.7 417.7h0M464.0 361.6h0M466.1 332.6h0M459.1 387.0h0M479.2 352.7h0M448.8 327.9h0M459.4 419.9h0M466.4 382.3h0M468.9 428.9h0M477.9 402.7h0M449.0 385.2h0M464.4 355.8h0M471.3 300.2h0M452.8 382.3h0M463.7 353.2h0M480.0 380.8h0M475.2 349.5h0M468.6 318.3h0M462.9 303.9h0M467.3 381.9h0M461.4 409.0h0M463.4 336.8h0M462.2 370.7h0M455.8 413.2h0M466.1 311.8h0M461.3 334.4h0M461.4 298.8h0M463.3 403.9h0M470.6 362.0h0M466.0 328.9h0M459.0 274.4h0M462.9 341.8h0M468.0 395.7h0M460.0 336.6h0M473.8 330.7h0M470.6 379.4h0M456.4 293.8h0M466.7 352.5h0M480.9 377.5h0M477.3 314.5h0M463.5 312.3h0M471.6 361.5h0M458.3 345.6h0M451.7 339.4h0M468.7 359.7h0M466.1 360.4h0M468.4 307.9h0M463.8 319.8h0M466.8 370.7h0M459.6 401.5h0M468.0 412.1h0M471.1 311.6h0M463.5 400.3h0M470.9 384.9h0M448.9 348.9h0M457.3 372.6h0M476.3 388.2h0M479.0 432.0h0M466.1 302.2h0M463.1 377.8h0M453.2 344.0h0M467.1 341.0h0M470.6 402.8h0M451.4 387.8h0M468.8 304.1h0M468.2 337.5h0M467.7 360.9h0M456.9 286.1h0M468.6 389.9h0M451.3 347.1h0M476.7 357.9h0M465.1 365.8h0M454.1 432.9h0M475.4 352.2h0M473.8 334.3h0M458.5 429.8h0M455.5 327.7h0M466.7 326.7h0M472.5 287.4h0M472.5 399.8h0M463.4 363.0h0M463.9 372.1h0M454.8 358.2h0M466.8 344.5h0M454.6 314.9h0M455.8 315.1h0M460.2 370.3h0M453.6 356.3h0M477.4 424.9h0M452.7 316.1h0M457.6 328.5h0M461.3 304.2h0M464.0 413.4h0M470.4 294.6h0M471.0 385.8h0M461.4 416.1h0M460.7 344.3h0M464.3 383.7h0M468.0 253.9h0M469.9 333.1h0M462.3 275.3h0M472.1 358.6h0M466.2 351.2h0M466.9 315.8h0M459.6 393.7h0M455.5 366.9h0M461.2 327.0h0M462.1 327.5h0M460.6 283.9h0M451.6 342.3h0M462.4 447.2h0M468.9 318.5h0M459.8 369.9h0M464.2 325.9h0M462.2 387.4h0M463.0 370.8h0M453.6 340.2h0M457.9 269.7h0M467.5 327.5h0M457.1 405.4h0M468.2 339.7h0M460.4 379.4h0M469.3 329.0h0M464.0 266.0h0M451.2 370.2h0M463.3 365.4h0M461.2 324.6h0M469.6 334.0h0M460.2 364.0h0M460.7 323.9h0M471.3 366.6h0M473.9 341.6h0M467.8 243.7h0M472.8 344.3h0M467.9 323.7h0M470.5 312.8h0M471.5 369.2h0M467.4 328.7h0M464.5 375.5h0M465.2 400.6h0M464.1 357.4h0M463.3 280.6h0M460.9 317.7h0M463.7 392.5h0M466.1 339.2h0M454.4 314.3h0M447.2 346.9h0M466.5 373.9h0M450.3 362.8h0M466.2 380.4h0M465.2 313.5h0M473.8 338.5h0M478.2 339.6h0M467.1 350.0h0M463.3 255.7h0M454.0 340.3h0M458.5 290.0h0M464.3 414.3h0M464.6 421.8h0M463.9 427.5h0M469.5 387.9h0M461.2 329.0h0M464.9 394.7h0M457.7 342.0h0M460.1 378.9h0M448.9 310.1h0M465.1 324.4h0M477.2 372.3h0M465.4 431.7h0M467.1 350.0h0M459.7 453.6h0M475.2 292.9h0M457.5 349.9h0M470.8 307.9h0M464.9 344.9h0M455.8 326.9h0M472.7 348.2h0M464.1 395.1h0M465.5 393.9h0M467.8 363.1h0M463.8 351.4h0M460.8 356.6h0M468.0 357.0h0M460.6 377.4h0M464.6 351.5h0M458.3 374.1h0M453.0 291.7h0M458.3 387.4h0M459.8 430.8h0M464.1 359.7h0M472.5 287.0h0M449.6 412.8h0M465.1 336.3h0M455.1 341.4h0M459.7 378.9h0M448.2 368.8h0M465.3 407.8h0M464.7 379.6h0M463.0 357.0h0M462.5 261.5h0M462.6 300.7h0M456.7 359.5h0M478.3 382.2h0M469.2 304.7h0M460.8 323.5h0M474.1 372.8h0M465.7 264.5h0M467.4 262.8h0M466.0 340.9h0M455.3 362.9h0M472.3 329.6h0M465.7 247.0h0M455.4 352.5h0M458.6 290.9h0M472.1 381.2h0M460.9 346.8h0M464.4 363.5h0M469.6 380.6h0M465.1 327.5h0M451.0 389.1h0M469.4 408.0h0M472.0 369.5h0M471.4 412.0h0M477.7 322.9h0M467.1 393.1h0M470.6 363.7h0M477.5 306.5h0M461.5 347.9h0M478.8 327.3h0M478.7 326.3h0M470.7 355.4h0M479.6 399.8h0M471.2 337.0h0M456.5 357.1h0M471.8 284.6h0M466.8 356.3h0M467.5 404.0h0M465.3 388.4h0M475.6 373.1h0M468.7 327.5h0M458.1 307.1h0M468.1 347.2h0M469.6 290.5h0M458.2 295.3h0M460.3 394.4h0M460.7 309.7h0M458.8 433.3h0M466.8 286.4h0M472.7 371.1h0M480.1 298.1h0M474.2 359.4h0M472.7 304.1h0M473.7 353.3h0M475.3 344.4h0M460.8 330.9h0M469.9 374.8h0M466.7 420.2h0M462.9 324.5h0M460.1 391.8h0M459.7 355.3h0M461.7 350.1h0M457.7 451.4h0M467.0 252.6h0M463.8 320.5h0M465.5 269.0h0M466.9 337.2h0M470.2 341.0h0M459.0 367.3h0M463.1 433.3h0M450.3 410.6h0M447.5 331.4h0M477.1 373.3h0M448.5 427.5h0M468.0 359.4h0M476.6 361.0h0M460.1 374.4h0M474.6 282.9h0M479.7 314.4h0M472.0 366.8h0M469.3 376.3h0M457.8 309.6h0M468.5 336.7h0M460.3 345.8h0M453.0 344.5h0M453.2 383.0h0M459.4 356.3h0M463.8 359.0h0M459.9 286.9h0M465.2 303.4h0M462.0 366.1h0M462.5 278.7h0M453.8 363.7h0M452.1 321.2h0M457.8 314.3h0M466.6 380.9h0M473.1 320.5h0M479.6 312.2h0M468.2 320.5h0M463.4 353.9h0M460.7 254.6h0M464.2 350.3h0M461.6 340.2h0M478.0 394.6h0M466.9 334.3h0M473.7 411.7h0M460.9 301.3h0M452.5 348.3h0M461.1 288.6h0M460.8 301.0h0M474.4 328.4h0M481.0 390.2h0M457.9 389.5h0M461.1 323.7h0M463.0 373.9h0M461.2 333.9h0M453.6 356.1h0M465.0 358.0h0M467.3 379.2h0M467.5 322.8h0M454.0 344.8h0M463.2 360.8h0M449.4 355.0h0M472.0 314.4h0M455.6 429.5h0M461.9 329.7h0M460.4 385.4h0M459.3 360.1h0M455.2 406.6h0M459.3 250.9h0M476.9 444.5h0M466.4 341.0h0M466.5 294.4h0M463.4 356.6h0M467.8 453.9h0M464.4 373.8h0M473.8 294.4h0M468.5 329.5h0M466.9 411.7h0M462.9 286.5h0M466.6 342.4h0M474.2 337.2h0M452.3 449.7h0M463.2 337.3h0M460.7 410.7h0M461.7 319.7h0M447.5 313.9h0M470.5 396.5h0M457.1 379.1h0M464.1 271.6h0M460.0 379.8h0M450.1 380.0h0M460.5 322.5h0M448.6 360.7h0M456.3 362.9h0M461.6 328.4h0M464.2 323.8h0M464.7 319.9h0M463.1 338.1h0M467.7 289.8h0M453.9 348.6h0M461.1 282.2h0M458.7 353.9h0M462.8 346.7h0M459.2 303.2h0M457.0 389.5h0M478.0 439.0h0M464.7 411.0h0M462.2 288.1h0M462.1 408.7h0M462.4 360.5h0M476.1 348.1h0M468.4 323.3h0M473.8 350.2h0M467.1 413.9h0M473.3 375.3h0M481.1 331.5h0M464.5 319.9h0M449.7 331.4h0M469.3 377.2h0M459.2 435.7h0M449.1 302.2h0M459.0 350.3h0M473.3 332.9h0M474.5 316.1h0M470.4 368.6h0M375.4 372.9h0M432.5 367.0h0M439.6 338.9h0M387.0 314.4h0M363.6 379.6h0M369.4 386.8h0M432.3 370.3h0M383.1 367.4h0M353.5 367.4h0M425.6 352.6h0M391.2 362.7h0M381.8 355.1h0M432.5 363.0h0M416.5 325.4h0M324.1 337.5h0M438.7 370.1h0M384.9 344.5h0M350.9 283.1h0M433.2 357.0h0M380.9 286.3h0M410.1 411.1h0M417.0 375.3h0M352.9 375.7h0M440.4 333.2h0M397.0 320.6h0M332.3 349.9h0M394.2 355.0h0M325.0 333.4h0M440.0 357.8h0M408.1 374.6h0M376.2 372.9h0M422.0 322.7h0M421.4 289.2h0M411.8 354.1h0M358.3 335.9h0M338.3 369.4h0M427.7 402.4h0M431.0 402.3h0M372.1 363.7h0M377.0 388.1h0M379.0 403.9h0M363.7 356.8h0M435.9 361.5h0M393.6 380.0h0M412.7 353.0h0M401.6 339.6h0M337.7 334.0h0M334.9 356.6h0M346.4 337.6h0M389.7 378.5h0M404.1 344.6h0M441.6 396.8h0M432.2 389.6h0M415.8 317.4h0M376.7 387.4h0M372.0 343.5h0M411.4 395.0h0M372.2 370.7h0M418.5 352.8h0M414.7 374.2h0M342.4 339.9h0M422.5 363.9h0M338.3 368.0h0M368.8 351.4h0M439.6 365.2h0M406.6 325.1h0M427.8 370.6h0M434.8 318.1h0M362.1 374.4h0M421.6 368.3h0M375.3 376.6h0M333.7 340.4h0M340.4 446.4h0M343.3 350.0h0M404.5 359.4h0M405.5 332.7h0M426.9 396.6h0M366.0 342.3h0M418.2 384.0h0M362.4 328.4h0M368.3 365.3h0M407.1 344.1h0M377.7 383.4h0M441.8 345.6h0M368.6 330.8h0M358.6 369.9h0M430.1 319.4h0M429.4 326.4h0M348.6 379.6h0M268.3 304.2h0M281.8 381.3h0M247.2 348.2h0M270.9 332.4h0M302.1 365.6h0M301.9 377.0h0M253.6 342.7h0M265.7 354.4h0M262.9 383.2h0M295.4 380.9h0M252.3 358.5h0M318.9 335.5h0M251.0 332.3h0M283.2 341.7h0M296.9 378.8h0M316.0 375.2h0M440.4 189.1h0M468.3 208.7h0M456.1 213.4h0M416.0 245.1h0M430.0 243.3h0M437.9 243.8h0M340.8 267.7h0M345.3 267.7h0M342.6 283.2h0M372.6 278.7h0M256.6 302.8h0M222.5 316.6h0M356.6 294.0h0M365.6 291.8h0M394.9 292.9h0M369.0 300.8h0M345.3 304.2h0M354.3 305.3h0M380.2 304.2h0M383.6 307.5h0M336.3 310.9h0M359.9 315.4h0M376.8 313.2h0M411.8 295.2h0M406.1 300.8h0M409.5 308.7h0M420.8 304.2h0M424.1 315.4h0M410.6 317.7h0M432.0 289.5h0M437.7 295.2h0M421.9 286.1h0M416.3 267.0h0M414.0 272.6h0M410.6 278.3h0M417.4 279.4h0M432.0 271.5h0M439.9 259.1h0M439.9 276.0h0M448.9 239.3h0M455.7 240.0h0M468.3 238.4h0M464.7 241.1h0M459.1 244.5h0M462.4 245.6h0M470.3 255.7h0M459.1 253.5h0M455.7 259.1h0M464.7 261.4h0M472.6 265.9h0M453.4 264.7h0M446.7 265.9h0M471.5 270.4h0M387.7 466.3h0M400.0 460.0h0M479.8 464.1h0M479.8 479.6h0M466.9 488.6h0M424.1 428.1h0M444.4 432.6h0M426.4 443.4h0M452.8 455.6h0M400.0 459.0h0M387.7 466.4h0M479.8 464.2h0M479.8 477.7h0M469.2 455.2h0M483.8 441.6h0M466.9 442.8h0M462.4 425.9h0"/>
<path class="d" stroke="#FFA15A" d="M170.7 309.8h0M159.9 554.6h0M159.0 570.8h0M160.6 512.3h0M162.4 520.8h0M160.6 483.7h0M164.0 489.3h0M169.6 505.1h0M165.1 473.5h0"/>
<path class="d" stroke="#19D3F3" d="M128.1 410.0h0M136.8 437.6h0M123.2 411.5h0M122.6 349.1h0M122.6 375.5h0M141.0 464.7h0M128.0 454.3h0M129.3 401.6h0M126.2 402.6h0M135.1 401.3h0M131.9 408.9h0M118.5 375.8h0M129.7 443.9h0M122.8 381.7h0M126.1 413.9h0M127.4 417.4h0M121.9 461.7h0M130.8 468.9h0M138.8 427.0h0M134.1 378.6h0M127.5 344.4h0M134.5 454.6h0M134.4 418.5h0M124.3 431.8h0M122.0 397.1h0M131.1 376.0h0M119.4 442.9h0M132.2 369.7h0M117.2 444.2h0M118.5 376.0h0M126.0 370.9h0M114.2 349.8h0M125.9 460.6h0M130.1 337.8h0M115.4 362.3h0M133.3 434.5h0M121.4 417.2h0M130.3 481.9h0M127.6 432.8h0M122.3 435.7h0M121.7 369.7h0M120.4 372.6h0M119.8 394.8h0M139.0 400.9h0M134.0 352.8h0M115.0 370.6h0M132.3 374.0h0M127.7 450.7h0M122.9 425.1h0M129.6 394.7h0M132.2 396.9h0M121.4 419.7h0M123.8 380.0h0M127.3 397.4h0M118.1 373.8h0M127.4 434.9h0M125.3 446.6h0M120.5 422.5h0M119.3 427.2h0M128.4 422.7h0M132.9 490.0h0M128.6 416.2h0M119.2 354.8h0M131.9 365.9h0M127.3 436.6h0M130.7 450.8h0M135.2 438.9h0M118.8 441.7h0M124.9 415.5h0M121.2 348.1h0M119.0 379.4h0M141.9 335.2h0M133.4 392.4h0M129.4 353.1h0M121.6 411.8h0M135.1 401.1h0M126.6 329.5h0M124.6 437.4h0M127.1 438.5h0M129.0 351.9h0M126.2 413.7h0M124.2 436.7h0M124.9 396.1h0M130.0 442.3h0M117.0 415.4h0M126.0 451.0h0M125.0 415.2h0M122.1 401.1h0M131.8 428.3h0M115.7 439.3h0M123.1 417.8h0M119.2 389.6h0M130.3 375.8h0M122.3 392.6h0M126.4 384.5h0M129.0 415.9h0M113.3 414.4h0M129.6 404.1h0M120.1 407.4h0M124.0 414.5h0M125.1 470.8h0M132.4 456.1h0M131.9 384.2h0M140.0 424.5h0M127.4 394.2h0M122.2 403.5h0M122.0 397.6h0M131.2 382.2h0M138.7 352.4h0M128.7 415.5h0M121.4 455.2h0M128.2 370.7h0M128.0 427.8h0M126.3 391.7h0M120.1 418.6h0M121.7 374.7h0M134.4 397.9h0M127.7 402.8h0M126.0 416.0h0M141.8 401.7h0M127.5 433.5h0M116.4 405.8h0M132.3 415.5h0M119.8 421.8h0M130.5 390.3h0M126.2 363.5h0M116.6 389.1h0M131.3 389.8h0M115.4 481.9h0M136.6 387.3h0M126.5 390.3h0M117.8 420.1h0M138.8 430.0h0M137.5 378.9h0M116.0 366.3h0M139.1 485.5h0M127.3 449.9h0M124.2 343.8h0M125.3 335.2h0M123.9 373.3h0M137.4 415.9h0M127.2 429.2h0M133.0 393.0h0M117.4 376.1h0M123.2 415.8h0M118.8 431.4h0M126.4 406.8h0M129.1 386.7h0M127.9 430.2h0M121.3 404.5h0M119.6 361.1h0M132.7 410.6h0M125.2 354.0h0M119.6 446.1h0M132.3 425.9h0M126.4 366.1h0M120.0 415.4h0M136.8 457.8h0M127.0 401.0h0M118.9 474.0h0M123.5 343.3h0M134.1 399.9h0M116.3 348.5h0M136.9 404.0h0M131.4 340.3h0M123.8 384.7h0M136.8 412.4h0M139.9 422.2h0M130.8 424.1h0M127.4 453.8h0M140.7 435.3h0M137.9 437.0h0M118.6 366.6h0M124.4 400.3h0M124.3 440.8h0M122.7 437.1h0M114.1 447.3h0M133.2 390.2h0M126.7 487.3h0M126.8 391.3h0M137.2 403.4h0M121.5 356.1h0M125.5 421.6h0M128.2 335.8h0M122.6 379.8h0M125.1 403.0h0M132.1 392.2h0M125.9 413.9h0M136.6 375.1h0M120.0 402.5h0M127.6 357.8h0M114.6 390.7h0M125.1 349.5h0M120.4 433.8h0M136.9 353.3h0M131.9 435.4h0M130.1 389.6h0M140.7 394.2h0M137.5 455.6h0M131.7 411.2h0M120.5 363.3h0M114.4 427.4h0M125.8 417.8h0M123.2 390.1h0M120.8 348.8h0M123.7 410.0h0M137.9 394.0h0M116.9 489.9h0M120.6 388.6h0M130.6 487.3h0M113.0 464.1h0M133.4 381.4h0M133.5 372.8h0M123.5 461.6h0M117.4 401.1h0M122.2 413.4h0M137.1 396.2h0M126.4 356.4h0M120.1 391.2h0M118.7 366.8h0M130.6 343.0h0M138.1 394.5h0M115.8 481.0h0M121.4 474.1h0M131.4 404.2h0M127.3 412.4h0M125.0 428.1h0M122.5 463.4h0M120.3 420.0h0M132.9 386.8h0M112.9 390.4h0M132.0 454.0h0M128.0 380.6h0M121.9 356.1h0M118.7 440.6h0M134.5 403.6h0M141.0 412.6h0M122.4 458.4h0M130.3 409.6h0M140.0 351.4h0M121.0 359.7h0M124.0 404.8h0M116.2 358.4h0M124.8 418.9h0M125.3 353.5h0M122.6 392.0h0M120.0 345.3h0M113.2 391.6h0M115.2 388.1h0M118.1 431.7h0M131.2 463.0h0M121.9 399.1h0M119.1 370.7h0M131.3 488.7h0M130.5 422.0h0M119.9 432.4h0M120.9 432.3h0M131.3 467.7h0M128.9 449.1h0M119.2 435.2h0M127.9 439.0h0M125.8 370.9h0M135.0 381.4h0M119.0 402.4h0M133.1 410.8h0M129.5 407.7h0M117.8 419.8h0M134.5 408.0h0M133.4 389.0h0M115.3 373.9h0M116.7 441.9h0M118.6 431.5h0M123.4 370.1h0M132.2 427.8h0M130.7 423.5h0M125.2 410.0h0M137.1 329.9h0M129.3 356.4h0M137.3 381.7h0M127.6 474.6h0M122.3 370.9h0M117.2 392.4h0M126.8 360.4h0M126.8 386.3h0M116.0 421.3h0M116.6 434.7h0M123.8 408.4h0M124.4 381.6h0M133.9 447.5h0M126.3 447.6h0M125.9 399.9h0M128.4 453.4h0M117.6 378.9h0M125.6 393.8h0M134.5 446.9h0M134.8 395.7h0M129.8 356.7h0M123.7 378.1h0M119.3 351.3h0M136.8 430.1h0M130.3 334.6h0M122.5 448.9h0M118.8 372.9h0M136.3 408.8h0M127.6 345.4h0M119.9 393.6h0M123.7 449.8h0M136.1 454.0h0M114.9 461.7h0M124.9 403.2h0M115.8 411.4h0M127.4 416.6h0M139.0 432.7h0M126.4 390.1h0M122.9 453.1h0M127.7 420.6h0M134.6 454.9h0M113.8 426.9h0M141.7 435.4h0M128.3 376.2h0M139.4 389.4h0M128.0 352.7h0M138.3 394.5h0M120.9 399.5h0M130.2 442.0h0M139.0 354.0h0M134.5 401.8h0M122.1 459.7h0M133.5 450.5h0M120.4 395.9h0M114.0 468.8h0M130.4 439.2h0M137.7 368.4h0M133.1 387.3h0M115.4 416.3h0M133.3 328.5h0M131.7 415.1h0M122.1 379.7h0M134.5 375.4h0M133.5 436.3h0M130.2 421.3h0M113.5 430.1h0M134.5 404.7h0M132.8 376.5h0M130.2 417.7h0M123.9 470.6h0M129.3 414.8h0M144.3 413.5h0M145.3 402.7h0M145.6 405.7h0M171.3 390.1h0M145.5 394.4h0M179.6 468.7h0M175.6 370.4h0M149.7 376.0h0M156.7 384.4h0M157.0 422.6h0M145.8 415.5h0M158.4 437.8h0M140.2 342.9h0M146.4 409.6h0M164.6 391.4h0M145.5 386.8h0M190.0 405.6h0M158.1 410.2h0M141.1 404.8h0M149.9 339.3h0M157.9 394.8h0M163.9 463.3h0M148.5 382.6h0M140.7 423.5h0M142.3 389.4h0M173.7 365.0h0M144.6 360.5h0M143.6 382.2h0M163.1 452.9h0M168.8 432.8h0M148.6 369.4h0M181.7 440.4h0M151.8 393.5h0M170.4 370.0h0M144.9 416.7h0M141.7 360.9h0M150.1 333.5h0M159.8 452.6h0M159.8 322.8h0M140.6 421.3h0M141.9 335.4h0M148.2 397.6h0M161.4 390.6h0M159.1 380.5h0M144.0 394.3h0M190.0 397.3h0M186.0 361.5h0M190.0 396.0h0M150.3 440.1h0M147.6 369.0h0M162.0 409.5h0M140.5 351.1h0M146.6 414.7h0M156.6 425.4h0M150.5 436.5h0M149.2 416.9h0M151.8 457.4h0M150.1 357.7h0M186.5 443.4h0M146.9 376.3h0M149.1 373.3h0M143.5 444.4h0M146.5 408.7h0M190.0 453.9h0M157.9 338.9h0M141.1 410.3h0M155.0 377.2h0M165.1 387.8h0M141.5 320.1h0M150.2 437.9h0M157.4 407.8h0M146.6 358.3h0M169.0 343.4h0M159.1 363.1h0M161.2 456.9h0M165.9 395.0h0M147.5 385.4h0M190.0 419.6h0M169.3 399.7h0M145.3 408.8h0M177.2 430.0h0M190.0 413.0h0M183.2 435.6h0M149.6 350.0h0M177.6 401.9h0M151.7 384.7h0M149.1 403.8h0M156.8 397.8h0M152.0 373.2h0M178.6 385.0h0M190.0 438.6h0M154.4 376.7h0M143.3 348.2h0M155.0 424.1h0M165.7 439.7h0M178.1 388.5h0M140.2 404.9h0M144.8 365.1h0M155.4 391.3h0M142.1 445.3h0M151.1 432.7h0M140.8 405.8h0M155.9 388.4h0M142.4 332.7h0M155.4 412.8h0M159.2 418.7h0M178.0 443.2h0M156.7 482.8h0M163.1 415.4h0M143.2 439.3h0M190.0 354.0h0M154.2 449.5h0M141.8 435.6h0M176.8 456.0h0M157.3 427.7h0M160.8 418.6h0M153.8 460.8h0M190.0 372.7h0M150.6 426.5h0M141.2 444.6h0M141.6 367.8h0M151.7 352.8h0M150.0 417.9h0M185.3 405.3h0M187.5 425.2h0M140.3 426.6h0M151.0 368.8h0M142.8 414.1h0M190.0 446.5h0M169.9 385.8h0M150.5 388.7h0M155.3 354.2h0M141.5 433.9h0M143.7 480.4h0M154.5 344.3h0M151.1 431.7h0M174.6 437.4h0M147.3 377.5h0M185.9 385.2h0M141.4 357.7h0M142.6 368.5h0M158.1 407.3h0M143.4 427.3h0M190.0 405.4h0M190.0 435.6h0M146.5 409.0h0M155.3 352.8h0M167.1 460.1h0M187.6 449.2h0M183.9 371.6h0M148.7 473.3h0M158.8 419.9h0M151.4 406.2h0M188.2 479.3h0M167.0 335.1h0M141.3 429.9h0M154.9 390.8h0M155.2 362.1h0M144.4 462.6h0M152.7 420.9h0M164.2 348.7h0M174.9 373.9h0M168.6 435.6h0M180.1 474.1h0M152.5 319.0h0M143.6 411.3h0M152.9 385.4h0M150.6 329.5h0M142.4 394.3h0M147.4 335.5h0M163.5 379.1h0M190.0 467.4h0M189.4 422.2h0M147.7 433.2h0M156.4 425.7h0M146.9 415.7h0M166.5 441.1h0M144.1 353.5h0M156.9 386.5h0M145.3 436.2h0M142.6 371.5h0M163.7 383.4h0M144.2 450.8h0M157.9 464.2h0M147.7 376.6h0M140.0 368.0h0M169.1 425.4h0M190.0 412.6h0M150.5 373.9h0M157.2 426.0h0M164.4 424.2h0M182.9 404.9h0M144.1 457.3h0M176.6 435.0h0M176.7 443.6h0M145.8 446.6h0M150.0 372.2h0M140.1 414.8h0M145.8 404.7h0M147.6 378.4h0M182.2 412.4h0M172.7 412.0h0M144.6 399.4h0M152.0 381.8h0M190.0 435.7h0M152.8 336.2h0M162.9 435.5h0M166.1 402.1h0M145.3 413.0h0M140.9 470.7h0M180.5 330.7h0M145.8 366.3h0M140.8 428.2h0M133.1 297.6h0M126.0 324.5h0M128.3 310.0h0M126.0 315.5h0M133.6 324.2h0M131.8 312.4h0M127.1 307.9h0M125.8 321.9h0M134.3 321.7h0M126.5 311.5h0M124.2 287.8h0M128.1 321.4h0M138.5 316.4h0M135.8 319.4h0M133.3 322.8h0M128.1 312.3h0M132.4 318.0h0M124.2 320.5h0M129.9 322.3h0M132.6 312.4h0M125.6 297.6h0M134.4 316.2h0M132.0 313.9h0M125.0 319.5h0M126.6 322.3h0M132.8 318.8h0M150.9 243.8h0M169.1 239.7h0M221.4 238.2h0M200.7 247.6h0M179.3 251.9h0M175.0 258.0h0M152.9 264.3h0M179.7 265.9h0M174.3 269.7h0M149.6 277.1h0M131.8 280.5h0M157.7 287.3h0M121.2 292.9h0M122.3 296.3h0M252.5 256.2h0M260.6 272.9h0M137.4 291.8h0M135.4 297.4h0M130.2 304.2h0M183.8 299.9h0M209.9 304.2h0M142.1 309.8h0M131.3 312.1h0M116.2 318.8h0M167.8 314.3h0M152.7 294.0h0M114.0 557.3h0M111.9 518.6h0M114.0 482.5h0M114.9 500.5h0M118.9 499.4h0M121.2 506.2h0M127.9 505.1h0M152.7 531.0h0M151.6 501.2h0M124.5 481.4h0M132.4 474.6h0M114.4 463.4h0M124.5 463.4h0M142.6 465.6h0M147.1 475.8h0M156.1 462.3h0M170.7 472.4h0M191.0 476.2h0M231.5 347.0h0M211.3 335.8h0"/>
<path class="d" stroke="#FF6692" d="M160.0 327.7h0M199.3 420.2h0M177.9 376.9h0M170.4 448.1h0M180.5 420.7h0M176.9 424.0h0M195.8 406.0h0M159.1 452.1h0M175.9 384.9h0M162.2 357.4h0M197.7 412.8h0M174.0 383.2h0M184.7 407.3h0M199.4 381.2h0M170.4 450.4h0M159.7 427.4h0M193.2 403.1h0M184.1 381.9h0M172.0 443.7h0M200.4 370.3h0M179.6 381.2h0M145.3 429.3h0M181.4 423.0h0M174.5 389.4h0M175.3 320.6h0M172.0 425.6h0M183.0 450.3h0M179.7 391.5h0M151.6 462.7h0M177.6 471.9h0M170.0 370.8h0M199.4 378.4h0M156.6 346.6h0M159.1 420.7h0M161.2 428.0h0M164.4 423.3h0M163.8 347.3h0M176.5 366.7h0M194.1 339.1h0M153.5 331.7h0M149.4 342.6h0M144.3 332.9h0M194.4 390.7h0M198.1 415.7h0M149.5 424.0h0M147.8 397.3h0M177.8 370.4h0M194.2 397.7h0M192.8 421.7h0M178.9 385.9h0M187.2 400.3h0M181.2 385.5h0M166.2 376.5h0M175.6 399.5h0M156.7 352.1h0M167.6 441.4h0M149.4 333.6h0M175.9 417.1h0M194.2 341.9h0M154.1 460.3h0M194.8 433.9h0M182.0 364.6h0M155.9 379.5h0M161.1 351.5h0M169.9 395.6h0M153.8 415.0h0M154.4 341.7h0M171.2 449.1h0M172.5 374.0h0M185.9 409.4h0M155.2 434.2h0M193.7 420.4h0M190.8 415.4h0M164.5 389.9h0M205.2 397.7h0M169.8 404.3h0M193.8 447.4h0M160.4 337.6h0M167.9 377.8h0M192.7 346.7h0M173.0 358.3h0M179.1 365.2h0M179.0 443.2h0M162.5 453.8h0M172.2 349.2h0M164.4 401.1h0M168.3 351.3h0M183.6 416.3h0M159.3 450.3h0M188.0 422.2h0M177.5 433.8h0M188.6 391.9h0M190.8 317.0h0M196.8 316.5h0M186.3 393.9h0M187.7 421.6h0M172.6 450.2h0M185.3 383.7h0M160.3 401.1h0M171.4 408.5h0M188.4 441.7h0M174.7 395.1h0M183.2 353.0h0M157.6 442.5h0M198.9 414.9h0M165.8 413.7h0M182.4 345.7h0M175.2 397.7h0M191.5 327.3h0M169.1 315.5h0M158.6 388.2h0M143.3 380.1h0M170.4 421.3h0M155.3 457.2h0M184.7 396.6h0M200.2 471.5h0M153.6 373.8h0M180.9 429.3h0M196.7 345.9h0M180.8 403.2h0M181.1 385.0h0M184.2 389.4h0M185.4 422.2h0M203.6 320.5h0M186.1 402.7h0M154.5 364.6h0M167.6 402.8h0M179.2 414.1h0M161.8 382.7h0M171.2 382.7h0M166.6 350.6h0M163.6 420.5h0M187.4 370.4h0M169.0 416.2h0M157.0 339.4h0M163.4 454.1h0M176.2 356.0h0M180.0 445.5h0M201.0 379.6h0M184.1 420.4h0M182.1 392.1h0M161.0 425.9h0M152.5 398.2h0M157.2 450.1h0M148.6 425.6h0M165.0 426.0h0M195.4 466.5h0M187.0 369.4h0M146.3 451.4h0M173.7 400.9h0M166.8 337.3h0M172.2 417.6h0M188.4 389.6h0M165.7 467.2h0M170.1 377.8h0M200.6 400.0h0M144.0 407.6h0M169.2 319.8h0M183.6 418.8h0M154.2 357.2h0M164.8 455.7h0M153.1 466.3h0M178.2 397.6h0M164.9 333.0h0M189.0 405.4h0M193.0 405.2h0M176.4 427.6h0M169.1 385.8h0M180.0 349.2h0M176.5 392.2h0M154.7 360.0h0M193.9 470.7h0M179.4 369.0h0M189.1 371.2h0M152.2 396.1h0M190.6 347.1h0M186.1 379.7h0M150.7 392.4h0M176.2 378.0h0M174.5 387.7h0M179.3 448.9h0M171.5 415.8h0M184.0 343.1h0M167.6 380.4h0M179.5 428.6h0M163.7 371.3h0M177.2 401.3h0M192.6 396.8h0M167.1 419.7h0M186.9 390.7h0M160.3 392.2h0M169.1 362.8h0M171.4 412.7h0M196.9 359.9h0M162.4 469.1h0M196.4 397.2h0M150.4 388.8h0M172.8 430.3h0M191.1 394.5h0M187.4 401.6h0M158.2 395.8h0M154.5 368.3h0M190.5 360.2h0M153.8 369.3h0M185.4 444.4h0M166.5 372.3h0M175.3 381.4h0M202.1 379.6h0M189.9 426.6h0M151.8 360.1h0M180.9 420.5h0M176.4 402.9h0M173.7 385.6h0M198.4 418.7h0M145.9 345.9h0M180.9 432.1h0M177.6 407.0h0M162.5 357.1h0M205.1 463.3h0M153.6 432.9h0M175.9 445.6h0M176.8 338.4h0M150.8 386.9h0M158.7 376.6h0M188.9 423.6h0M191.7 453.5h0M185.6 320.0h0M179.5 398.8h0M179.1 392.8h0M166.5 438.9h0M195.5 396.3h0M198.5 345.9h0M187.6 390.0h0M189.4 355.6h0M157.6 366.2h0M176.7 399.7h0M154.1 378.3h0M190.8 409.4h0M154.8 335.9h0M171.7 449.6h0M161.2 427.4h0M167.3 345.1h0M183.2 309.7h0M165.6 362.7h0M179.1 388.5h0M158.0 451.4h0M199.4 376.5h0M164.2 447.4h0M192.7 448.1h0M158.2 398.6h0M171.7 447.8h0M195.5 411.5h0M166.9 371.2h0M181.8 349.9h0M162.7 393.0h0M185.0 438.8h0M154.3 342.6h0M189.7 332.1h0M178.2 420.5h0M159.8 472.5h0M193.4 380.0h0M194.8 428.0h0M167.9 474.1h0M186.0 338.7h0M184.0 355.0h0M146.6 386.4h0M185.5 392.8h0M172.0 407.3h0M197.5 441.2h0M197.8 452.2h0M199.8 338.2h0M191.7 345.4h0M190.6 345.5h0M207.2 355.7h0M203.1 318.0h0M188.0 360.4h0M206.6 337.5h0M185.6 368.3h0M207.6 351.4h0M207.4 319.6h0M187.5 355.7h0M211.7 327.0h0M209.2 350.6h0M189.0 368.5h0M202.3 384.9h0M197.0 344.5h0M188.0 358.7h0M189.8 351.3h0M189.8 360.4h0M202.8 338.5h0M200.0 351.1h0M211.2 354.4h0M192.6 331.8h0M197.5 361.0h0M194.4 366.2h0M194.7 347.0h0M200.3 341.5h0M206.0 339.1h0M203.1 348.3h0M187.2 367.6h0M382.0 224.2h0M335.4 244.0h0M372.1 253.9h0M428.9 252.8h0M241.9 256.9h0M271.4 270.2h0M143.9 290.7h0M194.4 287.9h0M218.5 289.5h0M224.1 287.9h0M226.4 295.6h0M231.5 305.3h0M210.1 313.2h0M267.1 301.5h0M284.5 297.6h0M146.8 300.8h0M147.1 304.2h0M187.4 307.5h0M175.9 314.3h0M151.6 314.3h0M196.6 315.4h0M187.6 313.2h0M181.5 494.2h0M178.6 553.5h0M182.4 469.0h0M183.1 474.6h0M183.6 481.4h0M219.2 460.0h0M254.1 339.6h0M266.9 352.2h0M225.9 347.0h0M232.7 366.2h0M218.7 377.4h0M213.5 385.3h0M230.4 386.5h0M225.9 392.1h0M241.0 393.7h0M219.2 457.4h0"/>
<path class="d" stroke="#B6E880" d="M174.6 381.6h0M186.4 402.5h0M193.0 401.6h0M144.5 452.9h0M168.8 409.3h0M158.1 400.8h0M203.0 446.5h0M174.5 367.7h0M186.4 438.5h0M209.8 449.7h0M169.9 435.1h0M178.2 401.7h0M184.7 408.5h0M171.6 340.6h0M201.2 403.6h0M192.7 420.3h0M196.2 443.2h0M177.7 414.4h0M170.1 393.3h0M169.9 375.5h0M169.7 407.0h0M144.9 414.1h0M183.8 456.7h0M192.5 409.1h0M176.6 388.9h0M167.2 404.5h0M177.5 389.6h0M181.1 399.5h0M183.1 345.7h0M211.6 361.4h0M160.2 427.2h0M183.8 405.7h0M190.1 414.6h0M178.3 454.8h0M172.2 367.5h0M157.0 454.0h0M165.3 423.9h0M190.4 380.5h0M204.8 467.6h0M164.1 352.3h0M185.8 364.1h0M186.8 400.5h0M196.2 424.7h0M181.5 401.1h0M185.3 396.9h0M194.0 405.4h0M154.3 463.0h0M177.6 413.6h0M160.9 365.6h0M147.1 422.2h0M186.5 362.6h0M195.8 416.7h0M170.8 423.2h0M174.1 392.8h0M172.2 418.5h0M171.7 395.6h0M179.3 386.1h0M183.5 469.3h0M167.8 431.6h0M161.6 396.5h0M166.7 378.4h0M192.1 415.7h0M168.6 431.0h0M204.5 442.3h0M172.0 466.8h0M202.9 426.9h0M153.8 364.4h0M163.4 454.5h0M185.8 441.5h0M186.1 461.4h0M173.7 349.8h0M215.8 393.9h0M178.0 388.4h0M182.2 455.6h0M165.8 362.0h0M208.4 395.9h0M193.1 468.5h0M184.6 434.2h0M145.3 393.4h0M183.6 482.8h0M167.7 356.1h0M184.2 426.5h0M194.1 399.6h0M162.3 428.7h0M180.8 397.7h0M193.4 375.6h0M179.8 417.0h0M170.4 356.6h0M189.9 287.7h0M296.9 286.8h0M276.8 305.3h0M265.8 312.1h0M225.7 308.7h0M203.4 576.0h0M149.3 538.8h0M170.3 518.6h0M147.1 501.0h0M148.2 481.4h0M144.8 485.9h0M150.5 491.5h0M164.0 499.4h0M168.5 497.2h0M175.2 503.9h0M188.1 506.2h0M197.3 497.2h0M202.9 487.7h0M222.1 491.5h0M221.4 496.0h0M230.4 476.2h0M216.5 469.7h0M243.5 464.5h0M267.6 462.7h0M151.6 467.9h0M160.6 471.3h0M167.3 464.5h0M174.1 464.5h0M192.1 463.4h0M196.6 463.4h0M307.0 351.5h0M308.1 357.2h0M290.1 358.3h0M274.3 360.5h0M267.6 368.4h0M281.1 369.6h0M285.6 368.4h0M262.0 375.2h0M268.7 380.8h0M363.3 364.4h0M318.3 392.5h0M318.9 402.2h0M274.3 396.6h0M268.7 406.7h0M264.2 411.2h0M281.6 410.1h0M255.2 422.5h0M275.5 422.5h0M280.0 424.7h0M293.0 437.1h0M232.7 443.4h0M239.4 449.5h0M243.9 440.5h0M268.0 462.4h0M243.5 464.2h0M215.8 451.8h0M216.9 469.8h0M230.4 475.4h0M205.6 397.7h0M219.2 397.7h0M210.1 406.7h0M216.9 407.9h0M205.6 414.6h0M210.1 428.1h0M214.7 430.4h0M201.1 434.9h0"/>
</g>
<text x="82.8" y="209.4" font-size="28" text-anchor="end">16</text>
<text x="82.8" y="320.3" font-size="28" text-anchor="end">14</text>
<text x="82.8" y="431.1" font-size="28" text-anchor="end">12</text>
<text x="82.8" y="542.0" font-size="28" text-anchor="end">10</text>
<text x="86.1" y="650.3" font-size="28" text-anchor="middle" letter-spacing="0.45">−0.02</text>
<text x="226.3" y="650.3" font-size="28" text-anchor="middle" letter-spacing="0.45">0</text>
<text x="367.1" y="650.3" font-size="28" text-anchor="middle" letter-spacing="0.45">0.02</text>
<text x="507.8" y="650.3" font-size="28" text-anchor="middle" letter-spacing="0.45">0.04</text>
<text x="298" y="702" font-size="24" text-anchor="middle">Frequency</text>
<text x="297.5" y="149.6" font-size="32" text-anchor="middle">Module 0</text>
<clipPath id="c1"><rect x="634" y="160" width="428" height="460"/></clipPath>
<rect x="634" y="160" width="428" height="460" fill="#E5ECF6"/>
<rect x="915.75" y="160" width="2" height="460" fill="#fff"/><rect x="1056.50" y="160" width="2" height="460" fill="#fff"/><rect x="634" y="202.00" width="428" height="2" fill="#fff"/><rect x="634" y="273.00" width="428" height="2" fill="#fff"/><rect x="634" y="344.00" width="428" height="2" fill="#fff"/><rect x="634" y="415.00" width="428" height="2" fill="#fff"/><rect x="634" y="486.00" width="428" height="2" fill="#fff"/><rect x="634" y="557.00" width="428" height="2" fill="#fff"/><rect x="774.00" y="160" width="4" height="460" fill="#fff"/>
<g clip-path="url(#c1)">
<path class="d" stroke="#636EFA" d="M846.1 352.3h0M806.0 368.8h0M799.9 348.4h0M829.1 355.5h0M739.6 366.0h0M801.4 347.6h0M776.5 344.0h0M807.7 320.9h0M841.9 344.4h0M742.0 307.6h0M753.9 419.8h0M774.4 311.7h0M795.4 327.1h0M829.3 376.5h0M818.4 413.6h0M797.1 306.9h0M756.2 298.1h0M791.9 366.5h0M784.6 372.2h0M747.0 299.9h0M839.2 317.4h0M830.8 341.1h0M804.5 389.5h0M762.4 354.1h0M800.3 388.7h0M771.2 353.8h0M808.6 364.8h0M738.3 373.4h0M803.4 360.8h0M798.4 371.4h0M840.4 344.4h0M799.7 343.9h0M824.0 383.9h0M759.5 346.3h0M797.5 338.4h0M771.2 380.7h0M847.3 388.6h0M844.1 371.9h0M762.2 328.2h0M805.7 394.5h0M742.2 444.4h0M797.1 335.8h0M847.3 326.6h0M750.1 324.1h0M817.9 338.1h0M793.3 319.8h0M848.2 337.3h0M781.0 388.9h0M829.1 396.9h0M802.6 413.2h0M826.0 392.9h0M832.0 356.1h0M808.5 400.9h0M774.2 336.6h0M802.6 352.9h0M824.9 332.5h0M828.4 408.1h0M806.7 398.2h0M786.4 344.9h0M743.7 339.6h0M747.3 353.3h0M808.2 372.1h0M779.5 388.4h0M811.8 368.4h0M793.9 375.8h0M779.9 307.2h0M757.5 343.3h0M831.4 315.3h0M765.2 419.6h0M806.6 410.7h0M745.7 378.1h0M844.8 405.1h0M751.5 426.4h0M791.9 393.5h0M827.4 320.1h0M760.8 347.4h0M808.2 288.8h0M780.9 331.2h0M844.7 334.7h0M749.4 352.0h0M756.0 367.9h0M796.7 331.8h0M812.4 357.1h0M800.2 372.8h0M755.0 347.7h0M790.4 355.3h0M741.5 260.4h0M811.4 351.7h0M771.8 385.1h0M844.5 379.5h0M780.0 307.6h0M739.9 339.8h0M735.4 359.1h0M771.9 322.8h0M764.1 379.5h0M843.3 347.6h0M823.7 358.2h0M776.3 354.3h0M763.9 435.0h0M741.8 338.4h0M748.2 330.7h0M819.4 390.4h0M740.5 332.4h0M824.3 374.8h0M779.4 280.6h0M812.6 375.7h0M804.9 363.8h0M746.5 303.6h0M820.9 410.9h0M834.9 363.6h0M746.7 344.2h0M845.6 332.5h0M826.7 318.5h0M803.6 345.4h0M814.0 317.5h0M739.3 368.2h0M760.1 385.8h0M838.2 351.9h0M833.2 321.2h0M759.0 339.9h0M796.9 327.2h0M773.6 363.2h0M755.5 359.9h0M823.9 355.2h0M811.7 368.2h0M741.9 389.2h0M810.9 420.8h0M735.4 329.1h0M745.0 377.8h0M781.6 350.9h0M738.0 309.5h0M793.8 404.9h0M812.6 378.6h0M763.7 360.1h0M814.2 377.7h0M742.2 344.2h0M744.2 311.5h0M791.3 421.2h0M737.3 383.1h0M821.2 376.2h0M836.5 400.4h0M734.8 397.4h0M825.9 362.7h0M799.5 382.5h0M846.1 362.0h0M826.1 389.1h0M837.9 363.3h0M832.3 445.3h0M832.1 359.3h0M821.1 384.2h0M838.2 385.1h0M744.0 338.2h0M826.5 398.3h0M812.0 363.1h0M775.7 343.3h0M784.3 359.7h0M746.9 323.5h0M769.8 398.7h0M816.2 386.7h0M797.4 395.3h0M840.6 330.4h0M763.3 364.7h0M760.3 326.6h0M818.8 370.1h0M844.0 409.6h0M776.2 366.8h0M779.3 352.4h0M740.3 391.9h0M761.0 390.8h0M838.6 427.1h0M846.3 316.3h0M790.5 372.1h0M832.2 357.5h0M758.9 322.3h0M808.5 368.8h0M839.0 335.9h0M774.2 279.1h0M807.4 335.4h0M819.6 359.2h0M750.2 420.7h0M763.8 329.2h0M802.2 325.1h0M763.8 284.2h0M752.5 339.7h0M752.5 343.8h0M824.0 373.2h0M786.9 310.9h0M797.9 337.3h0M807.1 290.7h0M771.4 362.7h0M809.6 314.4h0M786.0 266.1h0M744.6 394.0h0M794.2 378.8h0M791.4 373.1h0M813.2 377.4h0M844.4 340.5h0M739.5 390.0h0M804.9 329.9h0M814.9 427.8h0M789.2 368.4h0M783.7 296.1h0M815.8 394.5h0M796.2 428.3h0M781.9 350.4h0M809.4 399.9h0M803.8 357.0h0M744.1 327.3h0M775.3 267.4h0M836.8 408.6h0M752.3 336.2h0M794.0 374.6h0M807.3 327.8h0M747.8 317.9h0M757.0 394.2h0M771.1 343.1h0M802.9 350.6h0M748.5 305.2h0M822.2 374.8h0M812.4 391.1h0M826.4 354.7h0M761.7 348.0h0M796.3 321.6h0M832.8 413.7h0M784.2 338.5h0M799.6 358.0h0M781.2 417.3h0M819.1 360.3h0M806.2 313.8h0M820.4 338.5h0M845.5 361.0h0M823.5 424.7h0M799.8 370.7h0M763.3 347.1h0M793.0 389.8h0M842.8 410.8h0M847.3 349.3h0M748.1 405.0h0M811.3 393.8h0M736.6 366.4h0M746.4 263.4h0M776.7 365.1h0M745.1 403.3h0M808.8 356.5h0M791.3 440.0h0M778.3 361.2h0M831.9 339.1h0M774.9 378.8h0M762.4 365.8h0M766.7 386.0h0M736.6 341.0h0M817.1 409.2h0M808.2 347.2h0M781.8 364.1h0M828.0 330.8h0M772.1 329.1h0M758.6 361.8h0M737.8 324.9h0M754.4 337.0h0M785.7 353.3h0M772.0 366.4h0M785.1 386.8h0M740.2 379.5h0M737.0 388.7h0M811.7 373.0h0M781.8 340.7h0M824.4 318.9h0M831.3 359.8h0M775.6 330.2h0M786.7 298.2h0M822.0 421.1h0M749.4 284.0h0M826.7 380.9h0M776.2 378.1h0M762.6 347.0h0M787.9 450.1h0M808.5 366.3h0M830.4 346.5h0M828.6 425.4h0M738.1 319.5h0M752.9 300.2h0M772.9 322.0h0M740.9 326.3h0M785.5 362.1h0M786.0 372.4h0M794.2 310.8h0M774.2 370.5h0M761.5 436.6h0M801.7 340.3h0M740.5 345.6h0M738.6 376.7h0M819.6 406.9h0M755.9 329.4h0M752.3 317.5h0M762.3 318.7h0M800.1 400.6h0M761.5 388.1h0M810.2 294.9h0M807.6 294.7h0M780.5 316.0h0M840.6 325.9h0M820.9 381.5h0M749.9 360.9h0M760.4 426.7h0M746.6 381.8h0M815.9 371.3h0M756.0 397.6h0M786.0 329.7h0M744.7 298.7h0M834.8 372.4h0M819.8 398.4h0M810.4 312.9h0M975.2 403.0h0M909.6 399.8h0M876.0 360.3h0M842.5 377.1h0M918.9 370.1h0M1016.1 383.8h0M844.4 396.6h0M876.8 351.9h0M941.7 406.0h0M853.4 398.6h0M896.9 400.5h0M985.6 330.6h0M880.8 323.2h0M898.4 394.7h0M894.0 359.6h0M879.1 355.4h0M996.2 361.7h0M1024.1 349.1h0M954.1 371.8h0M888.7 355.5h0M886.4 357.1h0M973.5 392.3h0M979.3 350.1h0M998.2 409.3h0M865.6 309.5h0M877.8 444.4h0M905.5 339.7h0M922.5 393.1h0M997.7 403.9h0M856.0 372.8h0M897.2 396.1h0M861.5 370.1h0M995.9 336.6h0M977.6 389.0h0M996.5 409.7h0M900.9 361.1h0M941.4 334.1h0M1011.9 366.6h0M843.0 381.9h0M995.0 388.5h0M988.7 408.6h0M923.8 392.6h0M990.0 393.5h0M986.8 329.7h0M874.0 437.1h0M1027.7 383.4h0M1022.3 403.3h0M889.0 365.8h0M1025.1 378.4h0M945.4 380.4h0M938.5 420.2h0M990.0 419.1h0M1017.5 397.1h0M889.0 429.7h0M862.8 361.9h0M1002.6 394.2h0M925.2 365.7h0M946.5 413.0h0M932.4 379.4h0M1010.2 406.0h0M949.8 424.3h0M976.3 327.1h0M988.8 435.9h0M839.6 381.7h0M948.3 370.8h0M956.8 329.6h0M859.2 364.4h0M871.6 308.7h0M852.2 375.5h0M919.8 373.0h0M990.3 427.2h0M886.9 366.3h0M1009.0 408.5h0M852.2 407.8h0M906.2 432.7h0M884.3 368.3h0M1025.7 401.2h0M871.6 330.9h0M1005.2 353.7h0M940.1 371.7h0M891.7 375.1h0M920.5 345.1h0M864.6 361.8h0M957.6 398.0h0M969.0 368.3h0M925.3 374.0h0M993.4 358.5h0M988.5 416.2h0M970.6 426.3h0M985.7 386.1h0M922.6 374.9h0M869.4 422.1h0M942.0 391.8h0M929.1 360.5h0M868.0 335.2h0M974.7 365.2h0M925.6 437.1h0M970.7 364.9h0M876.3 456.4h0M884.5 375.3h0M857.4 367.0h0M1016.0 415.2h0M973.6 374.1h0M899.2 386.8h0M849.1 341.4h0M904.7 342.9h0M991.1 362.3h0M1014.3 387.7h0M871.5 355.5h0M1019.3 333.4h0M878.4 388.4h0M845.8 367.7h0M864.8 365.9h0M842.6 353.6h0M886.0 313.2h0M989.1 421.7h0M932.3 366.0h0M993.5 394.7h0M857.1 414.9h0M985.0 409.9h0M865.6 380.0h0M901.9 376.9h0M1021.2 390.0h0M981.4 404.1h0M981.4 395.7h0M964.9 368.5h0M910.7 389.5h0M961.4 389.9h0M922.9 396.9h0M993.2 386.5h0M970.5 415.9h0M1012.4 387.1h0M1002.2 404.2h0M1002.6 382.8h0M857.5 356.5h0M843.1 343.5h0M913.5 373.2h0M1023.3 395.9h0M957.2 413.1h0M951.8 377.3h0M999.9 368.4h0M962.6 366.8h0M860.9 411.8h0M931.4 381.6h0M1008.1 369.3h0M996.2 400.3h0M851.0 333.3h0M1033.8 385.8h0M940.6 378.1h0M895.4 372.6h0M923.0 347.2h0M1022.9 406.9h0M1013.8 424.3h0M908.3 341.2h0M963.3 383.3h0M853.0 392.7h0M993.5 438.8h0M853.7 360.9h0M978.7 356.3h0M900.8 376.5h0M868.7 432.5h0M867.1 376.3h0M1028.6 389.3h0M882.3 424.7h0M930.6 321.7h0M869.4 312.1h0M934.6 403.2h0M998.9 401.2h0M887.6 337.5h0M978.3 394.1h0M908.3 378.3h0M863.3 380.4h0M997.4 361.1h0M906.1 364.7h0M963.6 357.3h0M1024.7 383.9h0M979.9 374.9h0M903.5 422.8h0M959.0 396.4h0M985.1 340.7h0M881.1 386.9h0M1025.2 418.1h0M883.3 383.3h0M846.3 406.0h0M942.8 378.4h0M931.5 397.6h0M869.2 347.5h0M933.2 399.9h0M892.0 338.1h0M997.6 414.3h0M934.8 338.7h0M941.3 323.2h0M867.1 389.7h0M1023.6 378.3h0M888.4 379.0h0M952.8 391.0h0M990.4 380.6h0M940.4 355.8h0M901.4 382.5h0M964.4 389.3h0M978.9 393.5h0M866.0 431.9h0M888.8 355.6h0M874.7 376.8h0M843.4 389.9h0M960.1 368.4h0M1033.8 353.5h0M892.2 360.5h0M759.0 233.2h0M800.0 247.4h0M806.8 272.0h0M825.2 271.1h0M774.3 270.4h0M766.5 276.0h0M753.4 275.3h0M762.4 285.0h0M776.6 287.3h0M812.4 292.2h0M771.0 301.5h0M791.0 299.7h0M799.1 305.3h0M782.7 305.3h0M786.1 308.7h0M753.4 300.8h0M765.8 313.2h0M793.9 315.4h0M801.8 313.2h0M909.9 301.5h0M928.0 294.7h0M903.2 312.7h0M851.4 309.8h0M860.4 313.2h0M867.8 310.9h0M837.9 308.7h0M819.8 313.2h0M964.0 308.7h0M1013.6 297.0h0M998.9 306.4h0M968.5 318.8h0M914.5 318.8h0M898.7 318.8h0M996.7 316.6h0M1022.6 508.0h0M971.2 483.0h0M1003.4 480.3h0M875.3 474.6h0M914.5 462.3h0M810.4 499.2h0M777.0 466.8h0M755.6 472.4h0M750.0 481.4h0M744.4 487.5h0M833.4 463.8h0M960.6 460.0h0M875.0 474.3h0M914.5 461.5h0M960.6 457.9h0M890.8 452.9h0M881.8 439.4h0M867.1 433.8h0M895.3 433.8h0M952.7 436.0h0M931.3 433.8h0M845.7 441.6h0M832.2 460.8h0M830.0 455.2h0M814.2 450.7h0M816.5 445.0h0M777.0 466.4h0M755.6 470.9h0M751.1 475.4h0"/>
<path class="d" stroke="#EF553B" d="M732.7 313.9h0M706.7 402.8h0M723.9 319.7h0M697.7 387.9h0M720.7 327.5h0M698.8 360.3h0M695.6 388.7h0M714.2 354.8h0M713.0 336.8h0M740.7 305.6h0M721.9 343.3h0M738.5 295.6h0M704.5 349.3h0M698.7 377.2h0M702.4 399.5h0M717.9 386.0h0M715.7 358.4h0M718.8 337.2h0M723.7 336.9h0M691.1 460.7h0M710.1 393.2h0M718.1 315.3h0M722.4 338.4h0M712.3 339.8h0M739.7 297.2h0M697.7 326.2h0M718.6 347.8h0M731.0 278.6h0M727.3 311.4h0M719.9 396.6h0M705.2 404.7h0M709.0 334.1h0M700.4 343.6h0M725.4 303.7h0M709.3 298.7h0M722.9 305.7h0M731.0 315.9h0M695.4 352.0h0M699.8 406.0h0M733.9 318.2h0M725.9 315.8h0M713.7 415.5h0M710.0 386.5h0M692.7 395.0h0M695.1 451.8h0M696.5 430.9h0M693.8 366.6h0M696.5 397.1h0M696.0 371.9h0M734.5 269.6h0M705.2 435.6h0M716.7 401.7h0M726.7 289.1h0M729.5 344.5h0M725.2 278.9h0M701.2 414.5h0M696.9 383.5h0M702.8 364.8h0M712.1 401.6h0M710.3 361.9h0M733.3 312.1h0M710.0 393.5h0M732.0 312.8h0M702.6 405.2h0M728.7 329.1h0M738.8 339.7h0M720.0 366.1h0M719.7 372.2h0M707.0 332.7h0M709.2 428.3h0M733.9 314.4h0M708.2 425.9h0M695.5 367.3h0M724.8 326.6h0M692.3 384.4h0M726.4 373.0h0M714.7 339.2h0M733.9 334.3h0M736.2 261.9h0M717.7 332.0h0M699.3 388.7h0M725.7 330.8h0M727.3 266.9h0M697.9 400.9h0M722.8 306.1h0M725.0 402.7h0M695.9 380.5h0M697.0 463.2h0M740.4 331.5h0M715.0 369.2h0M730.2 309.9h0M717.6 344.7h0M714.3 370.3h0M716.3 283.6h0M704.0 407.2h0M735.7 276.2h0M715.4 343.8h0M716.4 256.2h0M718.0 363.8h0M698.9 407.7h0M702.3 385.6h0M732.1 334.3h0M708.1 352.6h0M724.2 342.4h0M734.4 361.1h0M701.9 361.6h0M718.2 365.1h0M717.5 374.1h0M723.6 329.9h0M714.0 363.4h0M699.6 388.2h0M704.2 355.1h0M705.0 455.4h0M711.4 344.6h0M696.8 444.9h0M714.8 390.9h0M697.0 314.3h0M699.8 388.9h0M694.9 424.7h0M707.5 394.9h0M701.3 346.1h0M718.8 355.7h0M716.1 309.6h0M694.6 353.0h0M718.9 338.1h0M698.1 389.6h0M737.7 369.1h0M739.5 322.4h0M718.6 383.9h0M739.6 268.1h0M713.8 315.1h0M701.4 360.4h0M736.8 376.0h0M697.9 336.7h0M732.7 266.9h0M701.3 374.7h0M722.4 381.7h0M691.1 338.6h0M704.3 363.3h0M694.2 342.5h0M698.2 433.5h0M715.6 376.3h0M708.7 374.0h0M715.6 350.4h0M736.9 306.4h0M709.8 367.3h0M706.4 345.7h0M713.5 324.9h0M731.8 284.8h0M732.0 323.5h0M730.4 298.1h0M707.6 396.8h0M724.5 262.9h0M737.1 334.1h0M720.5 362.1h0M721.8 383.6h0M704.6 362.6h0M713.1 304.0h0M699.0 349.0h0M723.0 378.6h0M730.8 314.5h0M722.5 325.4h0M711.2 339.3h0M710.2 359.3h0M715.7 343.8h0M712.7 302.6h0M709.9 341.1h0M701.0 413.0h0M706.3 419.0h0M706.5 363.8h0M726.4 314.9h0M708.3 412.4h0M725.2 328.9h0M730.9 283.8h0M726.9 327.6h0M703.8 397.1h0M704.1 426.8h0M698.7 364.7h0M721.1 361.2h0M738.3 300.4h0M739.8 349.2h0M704.8 380.0h0M729.9 335.9h0M691.6 359.8h0M704.8 359.9h0M712.2 346.7h0M708.4 238.5h0M695.3 417.8h0M717.6 348.0h0M717.6 341.2h0M725.2 322.3h0M715.4 353.2h0M707.5 374.6h0M701.2 331.6h0M741.0 311.5h0M694.1 393.8h0M696.3 386.9h0M719.1 293.7h0M739.3 305.1h0M740.2 263.5h0M723.0 351.0h0M723.1 384.7h0M698.0 413.5h0M710.4 349.2h0M700.3 360.0h0M712.8 337.0h0M698.4 394.4h0M736.6 291.6h0M726.8 313.3h0M709.9 274.1h0M725.3 305.0h0M729.2 300.5h0M710.7 341.7h0M720.4 385.9h0M732.4 274.7h0M723.0 292.3h0M713.5 376.5h0M713.8 320.7h0M721.3 336.0h0M705.8 375.3h0M711.9 359.0h0M737.9 285.4h0M705.9 401.1h0M704.6 423.7h0M712.4 322.4h0M716.0 341.5h0M733.6 353.0h0M704.9 363.3h0M737.6 277.9h0M710.5 345.7h0M696.8 414.1h0M698.6 347.0h0M699.0 390.0h0M700.2 392.3h0M735.3 294.3h0M719.4 364.9h0M730.9 348.2h0M705.3 404.8h0M718.7 378.9h0M715.2 300.3h0M734.7 349.3h0M727.8 350.7h0M718.9 380.1h0M699.4 350.6h0M696.5 417.1h0M699.7 392.8h0M701.6 336.0h0M717.2 393.5h0M716.6 322.8h0M732.6 286.3h0M692.9 405.7h0M724.0 315.9h0M706.7 380.2h0M734.2 310.4h0M738.4 321.5h0M718.0 376.1h0M725.9 332.6h0M711.9 388.7h0M704.8 400.6h0M718.3 317.8h0M710.6 390.5h0M704.6 392.9h0M710.5 365.5h0M708.4 403.6h0M692.0 451.4h0M701.8 402.8h0M734.0 268.2h0M707.5 381.7h0M738.9 306.2h0M714.5 344.6h0M726.9 344.0h0M699.4 369.2h0M724.0 394.1h0M730.0 336.2h0M732.7 322.6h0M709.9 389.5h0M711.0 388.1h0M712.4 398.9h0M717.4 371.0h0M739.2 309.2h0M695.7 391.9h0M692.7 317.1h0M729.3 276.7h0M691.2 431.5h0M724.6 324.8h0M710.8 423.8h0M728.3 392.6h0M722.6 296.1h0M707.7 376.8h0M696.8 478.0h0M728.0 302.8h0M711.9 372.5h0M727.6 323.0h0M719.6 336.6h0M703.0 364.6h0M739.7 309.0h0M702.4 402.0h0M720.3 315.9h0M699.9 397.6h0M707.6 341.7h0M707.2 385.3h0M699.3 392.0h0M716.6 323.3h0M737.2 319.1h0M739.6 284.3h0M708.7 334.9h0M740.0 350.0h0M720.0 280.8h0M740.4 327.9h0M700.5 403.5h0M734.2 298.7h0M703.1 412.3h0M729.5 359.4h0M706.6 322.9h0M693.4 409.6h0M707.4 383.0h0M712.5 332.0h0M698.0 403.4h0M707.9 391.9h0M716.2 325.9h0M696.3 316.7h0M717.8 362.4h0M705.6 343.9h0M729.0 268.5h0M701.9 362.9h0M724.4 253.6h0M695.0 376.8h0M717.1 401.9h0M713.7 255.9h0M720.6 359.4h0M694.1 357.8h0M709.7 348.3h0M695.8 355.3h0M708.9 386.2h0M723.9 337.2h0M712.7 330.0h0M725.7 288.6h0M714.2 339.8h0M733.7 360.5h0M720.9 300.5h0M732.0 337.8h0M718.8 358.4h0M738.4 242.1h0M717.8 387.0h0M713.5 354.5h0M695.6 465.7h0M703.2 434.9h0M698.0 374.5h0M714.5 348.7h0M726.3 298.1h0M726.9 284.2h0M718.8 374.5h0M705.8 360.7h0M712.2 344.2h0M703.2 368.1h0M733.9 343.7h0M721.7 374.5h0M705.1 370.8h0M739.8 302.7h0M701.1 381.5h0M708.8 436.9h0M692.2 320.6h0M722.1 300.1h0M711.0 377.1h0M724.0 342.7h0M740.5 351.5h0M711.0 406.5h0M719.4 415.3h0M729.3 300.0h0M711.0 382.0h0M701.7 368.5h0M718.9 380.6h0M721.7 348.1h0M727.0 363.4h0M728.0 304.3h0M699.4 386.8h0M720.6 325.4h0M735.6 307.9h0M703.3 358.1h0M719.0 310.0h0M700.3 418.7h0M715.3 363.3h0M715.4 391.2h0M693.7 355.9h0M718.7 278.0h0M716.2 328.5h0M733.4 315.7h0M694.7 417.2h0M710.7 398.4h0M733.8 363.4h0M696.3 440.7h0M699.6 406.3h0M727.4 335.6h0M723.6 311.4h0M729.8 351.7h0M723.6 320.6h0M717.9 320.1h0M702.6 396.2h0M704.7 379.5h0M701.8 407.1h0M721.5 316.8h0M696.7 427.1h0M723.5 351.2h0M734.6 312.9h0M726.6 306.4h0M729.2 290.5h0M711.3 311.8h0M692.1 443.4h0M720.9 293.0h0M712.2 380.8h0M707.9 357.4h0M718.2 327.6h0M697.9 367.1h0M728.7 326.0h0M727.1 364.2h0M714.0 375.2h0M726.2 333.7h0M692.4 345.1h0M701.1 315.2h0M707.7 432.5h0M707.8 330.6h0M731.8 268.4h0M728.3 369.8h0M714.4 301.7h0M724.6 362.8h0M708.5 398.0h0M695.7 396.4h0M693.0 426.3h0M697.2 335.7h0M739.4 267.3h0M717.6 342.1h0M709.2 363.6h0M712.5 354.9h0M701.4 393.9h0M711.5 333.6h0M711.4 284.5h0M724.6 350.9h0M729.5 319.8h0M716.6 379.4h0M738.3 385.8h0M692.7 395.6h0M707.4 387.4h0M715.4 321.1h0M733.1 353.6h0M723.5 350.4h0M708.0 374.6h0M721.7 374.0h0M731.9 283.6h0M719.6 365.2h0M720.2 360.4h0M692.2 449.8h0M697.3 320.9h0M709.6 359.7h0M708.3 442.8h0M724.0 323.1h0M718.9 331.0h0M727.6 394.1h0M740.5 397.1h0M697.7 388.0h0M704.1 347.4h0M725.3 314.3h0M714.0 341.2h0M724.2 307.4h0M717.0 321.3h0M700.4 385.2h0M734.0 321.3h0M700.5 395.8h0M712.7 358.4h0M725.2 292.6h0M710.9 386.7h0M728.1 339.0h0M708.4 344.5h0M735.2 308.2h0M718.1 359.3h0M731.4 327.3h0M728.2 325.5h0M729.1 355.5h0M702.7 412.7h0M731.9 312.4h0M716.2 350.5h0M704.9 332.1h0M706.0 363.3h0M721.3 359.1h0M725.4 365.6h0M691.2 401.2h0M726.2 330.6h0M711.2 334.8h0M692.3 400.9h0M728.2 291.4h0M698.0 387.9h0M726.8 333.2h0M729.5 295.7h0M699.9 391.5h0M732.5 314.9h0M731.5 345.5h0M702.6 358.1h0M711.3 376.8h0M716.7 405.4h0M724.5 342.8h0M700.7 406.3h0M720.8 320.4h0M734.4 306.5h0M740.1 242.3h0M723.7 332.7h0M719.1 306.2h0M698.7 386.1h0M711.0 287.6h0M739.6 279.5h0M696.8 388.3h0M716.5 364.4h0M711.5 300.9h0M719.6 330.6h0M705.1 461.1h0M729.6 355.3h0M731.1 330.5h0M733.9 222.6h0M698.5 349.8h0M707.5 384.8h0M734.1 327.9h0M714.6 369.9h0M723.7 371.7h0M727.7 334.2h0M724.1 367.1h0M702.6 311.9h0M694.8 477.1h0M725.7 323.7h0M727.2 308.8h0M719.6 397.9h0M709.3 384.6h0M729.1 362.6h0M712.4 336.0h0M718.2 357.4h0M722.5 365.0h0M727.6 290.8h0M696.0 379.0h0M698.7 373.3h0M719.2 335.4h0M704.5 347.0h0M711.7 314.5h0M730.8 340.4h0M720.5 352.0h0M718.6 387.5h0M733.3 318.4h0M713.5 332.1h0M711.6 308.0h0M738.0 315.5h0M703.5 362.4h0M704.5 442.5h0M718.0 428.5h0M720.5 399.0h0M718.2 315.5h0M707.6 317.0h0M712.9 348.4h0M716.8 318.3h0M709.9 412.1h0M733.8 323.9h0M722.8 325.0h0M710.0 361.3h0M715.0 397.2h0M733.3 287.5h0M728.5 346.4h0M737.6 266.5h0M711.1 352.6h0M716.3 327.4h0M713.1 367.5h0M729.8 332.4h0M705.7 411.6h0M725.8 358.0h0M700.6 357.2h0M700.5 331.9h0M736.3 286.7h0M715.8 336.4h0M714.4 345.9h0M721.4 315.0h0M718.5 384.8h0M715.7 384.5h0M723.7 328.0h0M708.8 346.5h0M727.9 321.8h0M722.0 339.0h0M714.4 353.1h0M721.8 283.9h0M706.3 353.1h0M725.7 268.0h0M691.1 396.3h0M724.5 360.0h0M740.2 271.0h0M713.4 361.5h0M720.1 322.3h0M696.1 361.7h0M716.5 419.4h0M707.7 397.1h0M695.2 404.8h0M715.6 336.5h0M694.7 403.2h0M706.0 361.9h0M702.4 391.1h0M717.7 316.5h0M730.8 322.5h0M707.4 352.3h0M691.8 344.0h0M695.6 446.7h0M714.2 383.1h0M699.4 352.5h0M709.5 310.8h0M731.5 298.0h0M726.8 302.4h0M709.6 340.8h0M699.1 327.5h0M712.5 328.0h0M728.6 331.0h0M711.6 373.4h0M698.3 312.4h0M727.5 330.6h0M716.0 316.2h0M730.2 289.2h0M698.3 371.0h0M698.3 358.1h0M706.7 392.1h0M723.9 361.9h0M732.9 310.5h0M732.3 299.4h0M704.5 434.5h0M713.5 421.4h0M723.4 351.6h0M698.2 377.0h0M708.4 400.0h0M721.5 392.5h0M697.2 365.6h0M722.7 403.1h0M736.9 308.5h0M692.8 430.6h0M715.4 333.9h0M694.1 392.0h0M717.0 333.1h0M705.3 370.8h0M719.5 380.9h0M735.1 285.5h0M729.1 317.2h0M707.0 386.2h0M691.7 377.4h0M698.6 453.8h0M715.4 300.1h0M700.8 467.8h0M702.3 351.8h0M725.0 369.6h0M726.0 390.8h0M696.1 405.0h0M723.2 288.2h0M717.5 336.4h0M727.2 333.7h0M735.3 337.1h0M698.0 417.6h0M694.4 429.0h0M704.4 423.8h0M698.0 348.8h0M725.0 370.3h0M710.4 298.9h0M712.5 362.3h0M720.3 305.4h0M703.4 309.7h0M733.1 353.6h0M716.7 348.7h0M721.7 376.2h0M697.7 326.8h0M699.1 337.3h0M729.2 324.0h0M706.1 344.6h0M731.1 326.8h0M695.5 365.0h0M736.8 302.1h0M737.9 271.4h0M708.3 410.4h0M722.3 328.4h0M696.4 343.3h0M704.4 395.7h0M698.8 398.5h0M723.1 346.1h0M709.5 370.4h0M712.9 342.3h0M721.7 336.1h0M695.3 308.4h0M707.7 310.0h0M714.5 309.6h0M715.5 362.0h0M724.2 380.0h0M723.0 332.8h0M702.6 365.0h0M726.6 372.4h0M724.9 322.3h0M724.5 359.4h0M709.7 377.5h0M723.6 290.1h0M740.6 318.8h0M696.7 392.2h0M727.3 290.0h0M725.6 296.9h0M707.4 320.6h0M703.4 422.2h0M703.0 449.4h0M702.7 399.6h0M721.2 397.9h0M700.2 330.6h0M704.4 421.8h0M717.5 418.9h0M703.6 430.6h0M714.1 320.6h0M710.9 398.8h0M691.7 389.8h0M713.1 394.7h0M729.3 304.5h0M694.1 390.1h0M707.2 346.1h0M703.2 390.5h0M739.8 305.3h0M709.4 402.5h0M721.5 370.8h0M708.4 379.2h0M733.2 319.4h0M704.0 361.3h0M714.4 353.9h0M717.3 375.6h0M708.8 368.4h0M726.2 343.5h0M698.9 379.8h0M718.5 343.9h0M734.1 295.2h0M715.6 284.4h0M713.9 375.2h0M705.3 389.9h0M712.6 322.1h0M724.2 405.0h0M706.9 325.1h0M714.6 389.2h0M708.7 372.9h0M720.3 354.6h0M712.3 398.4h0M741.1 339.8h0M693.3 391.9h0M723.8 299.3h0M692.2 349.2h0M717.6 355.0h0M711.2 416.2h0M724.0 368.5h0M737.2 312.5h0M715.4 364.0h0M726.2 357.5h0M692.0 455.1h0M709.2 335.7h0M719.2 371.4h0M696.9 394.7h0M708.8 336.5h0M710.6 324.0h0M695.5 432.7h0M696.9 396.6h0M725.3 327.2h0M709.7 365.7h0M702.7 409.8h0M700.3 382.1h0M714.6 411.2h0M727.3 188.8h0M724.1 207.3h0M725.2 210.7h0M732.7 218.1h0M715.8 220.4h0M728.2 224.2h0M724.1 233.2h0M728.6 235.5h0M734.2 233.2h0M736.5 237.7h0M730.9 238.8h0M719.6 252.4h0M693.7 276.7h0M774.8 309.8h0M742.1 277.1h0M693.7 478.0h0M700.5 473.5h0M694.8 469.0h0M700.5 465.6h0M691.4 442.8h0M694.8 455.2h0M699.3 459.7h0M693.7 475.4h0M700.5 473.2h0M690.3 446.1h0"/>
<path class="d" stroke="#00CC96" d="M681.4 358.2h0M680.3 400.4h0M681.8 332.1h0M680.0 333.6h0M681.2 295.7h0M684.7 321.0h0M685.8 345.7h0M683.4 385.7h0M682.4 301.0h0M680.0 373.5h0M679.8 272.1h0M682.8 323.4h0M682.4 336.6h0M680.7 383.1h0M681.0 393.9h0M685.4 333.9h0M684.2 295.5h0M682.1 333.0h0M682.5 333.8h0M684.8 347.1h0M682.8 293.4h0M682.5 407.7h0M682.0 301.5h0M682.7 367.8h0M680.1 345.7h0M683.0 283.8h0M683.0 338.7h0M681.8 336.5h0M685.2 326.7h0M685.0 373.7h0M680.7 313.1h0M686.3 389.0h0M682.1 292.3h0M680.3 395.0h0M681.1 347.4h0M681.2 339.4h0M684.5 289.3h0M682.7 267.3h0M683.3 247.3h0M682.4 411.5h0M683.1 309.3h0M682.2 247.6h0M679.5 368.6h0M681.8 368.9h0M681.6 294.7h0M682.1 313.8h0M685.3 285.9h0M685.7 337.4h0M685.5 397.7h0M680.6 382.6h0M680.4 355.1h0M682.1 388.4h0M683.0 250.6h0M680.7 332.9h0M685.9 272.8h0M679.3 317.1h0M680.4 304.4h0M680.5 339.8h0M683.1 350.1h0M681.9 395.2h0M681.3 417.5h0M683.3 285.9h0M682.0 405.5h0M680.5 395.1h0M682.1 383.5h0M683.7 412.9h0M679.8 269.0h0M680.1 369.8h0M680.7 287.0h0M684.5 288.9h0M681.3 276.8h0M684.2 388.7h0M681.8 364.8h0M685.1 336.5h0M685.5 341.7h0M680.9 364.5h0M680.2 417.7h0M682.8 301.1h0M679.3 308.4h0M681.2 307.6h0M682.2 331.6h0M682.0 335.7h0M685.6 273.6h0M682.8 349.6h0M680.5 274.7h0M681.8 320.3h0M679.2 323.2h0M682.1 323.5h0M681.5 406.0h0M682.9 413.5h0M684.1 386.7h0M682.7 410.9h0M683.6 321.4h0M679.4 402.5h0M686.2 332.6h0M680.4 346.0h0M687.4 348.2h0M683.7 271.1h0M684.1 305.9h0M682.6 327.5h0M684.2 352.6h0M679.7 329.0h0M680.2 294.2h0M683.2 279.6h0M680.4 335.5h0M683.7 278.4h0M683.3 278.6h0M679.0 330.1h0M683.5 343.6h0M682.6 295.3h0M682.4 249.6h0M683.0 348.8h0M681.9 374.2h0M682.0 315.4h0M684.3 317.0h0M679.8 378.3h0M679.3 282.5h0M680.3 369.5h0M684.3 306.7h0M681.3 328.2h0M686.2 326.0h0M680.4 248.7h0M681.0 260.0h0M682.6 340.3h0M684.9 296.0h0M681.6 323.7h0M679.8 401.1h0M683.8 245.6h0M685.4 328.2h0M683.3 358.6h0M682.7 340.8h0M680.2 354.1h0M681.0 299.0h0M682.6 256.3h0M682.1 272.1h0M681.5 315.4h0M679.4 370.6h0M682.6 338.9h0M680.5 412.0h0M682.2 339.8h0M680.7 344.3h0M682.4 344.6h0M683.6 251.9h0M682.5 362.7h0M683.4 281.7h0M683.0 316.8h0M682.6 275.7h0M680.6 340.7h0M681.6 349.0h0M682.2 341.2h0M681.1 335.2h0M683.1 308.2h0M680.6 238.7h0M682.6 285.7h0M681.5 406.2h0M683.1 361.4h0M682.2 298.3h0M681.4 291.9h0M683.1 323.0h0M683.8 358.7h0M682.0 285.5h0M680.7 346.4h0M679.6 304.9h0M684.9 406.9h0M684.1 349.1h0M679.7 395.5h0M679.5 342.7h0M683.8 354.8h0M680.6 348.5h0M681.3 286.1h0M681.7 314.8h0M684.5 353.7h0M681.0 311.2h0M681.7 334.5h0M685.8 298.5h0M683.9 382.4h0M685.1 309.6h0M683.4 354.5h0M684.6 330.5h0M680.2 300.4h0M686.9 401.6h0M682.4 339.4h0M681.7 387.2h0M680.3 318.7h0M679.8 266.5h0M686.9 275.3h0M681.8 310.1h0M682.1 326.2h0M681.8 337.7h0M682.8 359.6h0M681.8 275.3h0M683.3 346.0h0M680.1 276.5h0M682.7 302.2h0M684.0 396.1h0M683.2 317.6h0M682.8 403.1h0M681.8 377.7h0M679.8 405.4h0M683.2 323.1h0M681.1 329.0h0M679.9 293.7h0M683.7 363.0h0M680.8 274.8h0M683.7 310.8h0M684.1 357.0h0M681.2 310.8h0M682.1 351.7h0M683.2 287.7h0M681.8 402.4h0M680.3 302.2h0M682.9 290.2h0M682.3 345.8h0M682.2 384.4h0M684.4 300.7h0M682.7 300.0h0M681.0 313.9h0M682.3 300.4h0M686.3 344.1h0M680.4 300.8h0M681.4 322.8h0M680.2 352.0h0M682.8 315.0h0M679.2 390.4h0M683.0 302.5h0M683.7 298.0h0M680.3 407.3h0M680.1 338.4h0M682.1 374.9h0M679.5 351.3h0M680.6 310.5h0M681.1 367.4h0M680.5 349.6h0M683.8 396.5h0M685.5 246.5h0M680.2 373.7h0M682.5 343.0h0M679.7 302.0h0M680.8 314.4h0M682.4 315.6h0M685.0 271.5h0M684.6 307.5h0M681.3 372.6h0M682.3 262.2h0M681.2 317.0h0M681.6 307.4h0M679.4 353.8h0M681.2 332.6h0M684.1 337.1h0M683.7 281.3h0M681.6 362.4h0M680.6 291.6h0M682.6 378.6h0M679.6 345.2h0M684.0 316.6h0M681.5 406.3h0M683.3 316.0h0M683.9 384.2h0M681.5 340.0h0M685.3 335.0h0M682.0 383.1h0M684.3 356.0h0M682.9 334.7h0M680.9 329.3h0M682.6 345.2h0M684.3 339.1h0M684.8 319.4h0M685.2 285.3h0M679.6 329.7h0M683.8 323.4h0M681.7 393.3h0M681.5 356.6h0M683.4 389.8h0M682.7 418.4h0M684.7 329.9h0M680.6 294.7h0M683.8 374.3h0M682.8 306.4h0M682.0 322.8h0M679.4 404.1h0M683.2 361.6h0M682.7 387.7h0M683.7 270.3h0M681.9 336.8h0M681.4 388.8h0M682.8 273.6h0M683.0 344.6h0M683.5 354.5h0M686.2 411.7h0M680.6 300.9h0M686.4 328.5h0M684.1 415.7h0M680.2 249.2h0M686.4 357.4h0M680.0 313.7h0M684.3 337.2h0M679.8 295.8h0M679.5 400.6h0M683.8 281.4h0M683.9 352.5h0M680.5 361.1h0M687.3 330.7h0M681.3 322.0h0M685.4 322.4h0M679.8 384.3h0M679.9 356.9h0M682.2 331.2h0M679.8 282.8h0M683.0 342.8h0M682.4 360.8h0M680.8 333.6h0M679.9 404.2h0M682.5 243.5h0M681.5 326.4h0M681.0 280.4h0M683.8 251.4h0M682.6 376.8h0M682.8 362.7h0M684.9 324.8h0M681.8 332.8h0M683.8 343.3h0M681.1 314.9h0M683.3 390.6h0M683.2 365.2h0M680.8 329.4h0M679.2 256.5h0M679.9 401.0h0M683.2 312.3h0M681.7 285.5h0M681.3 397.1h0M683.0 359.2h0M683.6 238.5h0M685.0 255.4h0M680.7 316.2h0M683.2 274.9h0M683.5 327.8h0M679.9 333.3h0M682.3 373.8h0M680.0 378.1h0M681.5 329.6h0M682.9 264.4h0M680.1 387.0h0M680.2 326.8h0M682.2 357.2h0M680.4 369.4h0M682.8 296.6h0M680.1 416.4h0M680.9 339.0h0M683.3 346.2h0M682.7 314.6h0M682.3 369.5h0M681.9 384.1h0M684.2 308.6h0M685.0 363.5h0M681.2 314.5h0M680.4 276.3h0M679.7 319.6h0M685.8 364.7h0M680.0 362.0h0M679.1 387.4h0M682.6 303.1h0M684.3 320.9h0M679.3 339.0h0M681.7 365.3h0M680.5 329.9h0M685.6 289.8h0M682.4 261.0h0M681.4 392.2h0M682.2 386.9h0M682.6 303.6h0M681.8 406.7h0M679.4 332.5h0M679.4 357.4h0M686.4 396.3h0M680.3 312.5h0M684.6 298.3h0M680.4 252.0h0M684.8 350.3h0M683.5 357.3h0M681.5 377.2h0M691.8 294.6h0M705.2 319.8h0M688.3 277.0h0M690.0 311.5h0M685.9 283.7h0M712.4 269.7h0M693.9 296.6h0M692.7 351.6h0M696.7 349.2h0M691.0 296.8h0M711.3 251.4h0M692.4 312.0h0M685.4 287.3h0M709.2 334.0h0M705.8 253.5h0M689.5 324.4h0M695.3 249.4h0M688.8 298.5h0M711.0 313.5h0M711.4 282.4h0M685.6 311.3h0M690.5 261.8h0M696.3 328.2h0M702.6 265.6h0M708.9 257.5h0M710.9 281.1h0M712.0 283.6h0M701.2 252.2h0M706.3 317.6h0M710.8 280.8h0M706.2 309.9h0M697.9 233.1h0M708.8 275.1h0M702.8 246.0h0M692.6 280.4h0M684.9 308.2h0M706.9 330.3h0M684.6 344.5h0M707.7 317.2h0M707.4 257.5h0M689.8 307.7h0M709.7 264.8h0M700.7 307.4h0M712.6 243.6h0M712.0 339.6h0M680.2 194.9h0M693.7 208.4h0M679.7 232.1h0M677.9 238.8h0M682.4 242.2h0M685.8 246.7h0M679.1 252.4h0M681.3 256.9h0M692.6 254.6h0M709.5 252.4h0M684.7 261.4h0M697.1 261.4h0M701.6 265.9h0M679.1 277.1h0M685.8 282.8h0M690.3 295.2h0M708.3 272.6h0M711.7 235.5h0M712.8 507.1h0M689.2 471.3h0M725.9 462.3h0M725.9 461.5h0M689.2 470.9h0M684.7 404.5h0M689.2 450.7h0"/>
<path class="d" stroke="#AB63FA" d="M1009.1 330.1h0M1002.7 443.3h0M1017.9 380.0h0M1011.2 335.3h0M1004.9 336.1h0M1002.0 437.9h0M1012.1 419.1h0M1013.9 424.4h0M998.0 387.3h0M1021.5 428.7h0M1003.9 446.6h0M1025.0 418.6h0M1016.0 320.8h0M1013.0 305.0h0M1016.0 326.7h0M1008.1 401.3h0M1012.6 325.1h0M1027.1 343.0h0M1008.3 391.1h0M1020.1 351.6h0M1005.5 334.3h0M1013.0 430.8h0M1021.3 410.6h0M1002.9 423.3h0M1016.0 429.0h0M1005.9 451.4h0M1009.6 387.4h0M1020.6 381.0h0M1019.2 313.1h0M1005.4 378.4h0M1012.0 363.0h0M1014.7 433.9h0M999.9 417.8h0M1017.1 452.3h0M1024.6 435.8h0M1023.7 439.8h0M1008.1 411.4h0M1009.7 394.6h0M1005.2 372.0h0M1008.9 387.7h0M1011.0 347.3h0M1018.9 405.3h0M1013.8 384.8h0M1005.3 356.8h0M1020.1 368.0h0M1020.6 375.1h0M1008.6 444.0h0M1011.0 360.9h0M1012.3 333.2h0M999.2 404.5h0M1014.3 431.2h0M1018.9 459.0h0M1029.7 344.2h0M1014.8 377.0h0M1010.7 369.5h0M1013.2 453.1h0M1018.4 418.0h0M1019.9 388.9h0M1005.9 419.1h0M1014.8 372.4h0M1018.7 379.1h0M1024.8 386.3h0M1011.4 366.2h0M1020.6 376.9h0M1012.8 403.0h0M1011.1 398.1h0M1013.6 451.6h0M1015.6 424.9h0M1020.6 384.5h0M1010.9 323.8h0M1003.7 365.9h0M1007.3 371.0h0M1004.9 331.0h0M1019.7 371.2h0M1005.1 392.3h0M1026.1 360.1h0M1014.3 381.2h0M1012.5 383.2h0M1024.3 356.9h0M1010.1 350.0h0M1010.7 381.6h0M1019.8 398.6h0M1019.5 342.3h0M1004.8 345.9h0M1018.1 408.7h0M1003.9 317.5h0M1011.8 426.7h0M1021.1 361.7h0M1015.1 392.3h0M1020.5 353.6h0M1021.2 411.8h0M1030.3 388.9h0M1019.1 402.6h0M1009.9 303.2h0M1026.2 417.7h0M1009.5 314.5h0M1021.5 372.3h0M1018.9 408.8h0M1006.1 378.3h0M1007.4 408.0h0M1011.9 393.8h0M1016.8 390.5h0M1024.7 351.9h0M1014.1 429.6h0M1029.6 434.6h0M1020.9 363.6h0M1008.0 348.2h0M1008.2 395.3h0M1014.2 354.2h0M1009.1 392.4h0M1012.8 421.4h0M1020.1 414.9h0M1016.2 449.7h0M1021.9 406.2h0M1007.7 342.0h0M1006.3 350.0h0M1001.7 409.3h0M1006.7 467.9h0M1009.8 371.3h0M1014.2 347.4h0M1012.6 445.9h0M1013.7 381.1h0M1031.0 416.0h0M1004.4 432.4h0M1011.4 344.5h0M1009.5 371.2h0M1006.0 362.7h0M1025.2 408.9h0M1013.4 414.2h0M1024.4 365.3h0M1004.1 410.1h0M1027.5 310.4h0M1006.3 401.2h0M1013.7 401.0h0M1012.7 386.4h0M1018.5 324.7h0M1002.7 382.1h0M1017.7 340.8h0M1019.8 448.0h0M1008.7 374.0h0M1008.0 377.5h0M1010.4 381.6h0M1020.3 409.2h0M1008.5 389.6h0M1004.0 409.0h0M1019.0 346.9h0M1017.0 433.0h0M1020.0 365.5h0M1014.2 418.4h0M1022.8 396.3h0M1018.2 431.7h0M998.6 383.2h0M1015.5 323.9h0M1020.4 337.6h0M1014.1 376.7h0M1025.7 444.9h0M1010.0 368.5h0M1019.8 388.6h0M1003.4 439.3h0M1013.8 362.5h0M1009.2 399.3h0M1005.3 398.2h0M1002.7 360.9h0M1015.7 396.0h0M1017.5 430.6h0M1008.5 430.6h0M1003.3 372.1h0M1006.4 401.1h0M1020.3 374.6h0M1003.6 355.8h0M1023.5 344.7h0M999.7 420.9h0M1016.2 379.8h0M1019.5 328.2h0M1024.2 379.1h0M1010.2 384.8h0M1007.4 331.0h0M1001.8 344.6h0M1021.6 439.9h0M1012.8 362.9h0M1010.0 386.0h0M1010.3 373.0h0M1016.0 421.3h0M1014.2 437.8h0M1023.9 425.1h0M1021.1 409.6h0M1009.4 410.0h0M1013.2 336.1h0M1011.4 441.6h0M1013.2 362.6h0M1020.3 348.7h0M1015.8 370.4h0M1001.6 352.7h0M1013.3 403.7h0M1013.1 416.8h0M1017.1 440.4h0M1014.3 382.3h0M1013.2 361.1h0M1022.6 374.5h0M1004.7 336.8h0M1009.1 355.2h0M1011.2 470.7h0M1020.6 353.7h0M1023.1 366.9h0M1024.6 412.9h0M1026.3 397.1h0M1018.0 418.7h0M1014.5 349.6h0M1017.2 341.2h0M1014.1 442.0h0M1009.3 357.6h0M1027.6 382.1h0M1029.4 395.3h0M1015.0 308.2h0M1012.0 378.2h0M1009.8 358.8h0M999.7 408.4h0M1008.2 373.1h0M1009.6 419.5h0M1013.8 368.9h0M1005.5 357.0h0M997.8 360.4h0M1019.5 385.7h0M1028.6 426.4h0M1012.8 349.4h0M1021.3 360.4h0M1004.1 417.6h0M1001.8 407.7h0M1014.3 416.5h0M1012.0 400.3h0M1008.6 375.9h0M1028.0 365.6h0M1026.8 366.2h0M1019.6 424.5h0M1014.2 449.4h0M1014.6 470.0h0M1021.6 342.3h0M1012.1 376.2h0M1026.7 386.5h0M1024.7 379.3h0M1009.0 338.6h0M1019.7 478.5h0M1026.2 450.2h0M1019.7 379.4h0M1006.1 367.1h0M1011.9 386.0h0M1011.3 335.1h0M1015.2 372.0h0M1014.5 419.1h0M1013.1 456.4h0M1021.5 424.0h0M1025.6 441.3h0M1009.5 341.6h0M1002.9 444.8h0M1017.5 394.2h0M1014.4 382.9h0M1018.2 457.3h0M1008.5 345.5h0M1016.9 345.8h0M1006.6 354.8h0M1022.7 455.0h0M1028.7 426.6h0M1009.0 310.6h0M1012.4 456.8h0M1010.0 387.0h0M1016.1 404.5h0M1014.7 353.5h0M1018.8 466.3h0M1009.8 405.0h0M1011.6 442.4h0M1018.2 343.9h0M998.8 416.1h0M1021.3 390.2h0M1009.3 376.8h0M1002.4 351.7h0M1007.4 356.5h0M1018.9 336.5h0M1021.8 358.1h0M1025.2 385.3h0M1018.3 411.2h0M1008.6 319.8h0M1019.4 342.1h0M1014.0 360.2h0M999.8 316.4h0M1028.4 374.0h0M1021.2 375.0h0M1018.2 378.2h0M1013.9 403.9h0M1009.9 426.6h0M1006.5 420.5h0M1001.5 398.2h0M1022.7 411.6h0M1020.5 352.3h0M1017.9 346.0h0M998.5 414.0h0M1012.4 410.5h0M1017.7 480.2h0M1024.7 376.7h0M1006.3 344.1h0M1017.1 398.8h0M1012.8 367.1h0M1015.1 348.2h0M1008.9 444.7h0M1018.4 468.8h0M1015.5 402.2h0M999.0 358.4h0M1025.2 397.3h0M1007.4 384.0h0M1024.7 326.9h0M1006.6 422.1h0M1010.4 401.1h0M1029.9 440.1h0M1016.6 362.6h0M1027.8 385.7h0M1017.4 381.5h0M1022.6 312.6h0M1016.8 494.0h0M1027.2 337.4h0M1030.2 371.2h0M1020.7 319.5h0M1010.2 404.6h0M1011.9 366.6h0M1007.0 389.8h0M1020.2 396.6h0M1019.5 389.9h0M1009.1 390.9h0M1022.9 380.2h0M1010.2 405.1h0M1030.5 421.5h0M1022.1 375.8h0M1028.6 367.6h0M1009.0 369.6h0M1006.6 400.1h0M999.6 371.1h0M1020.6 370.5h0M1005.6 322.2h0M1023.3 469.9h0M1016.4 334.0h0M1020.9 459.3h0M1004.2 421.4h0M1010.1 431.3h0M1016.7 398.4h0M1021.4 408.4h0M1004.2 399.8h0M1018.1 412.8h0M1008.1 423.5h0M1021.5 453.0h0M1013.2 344.7h0M1012.7 408.6h0M1018.9 457.2h0M1024.3 447.8h0M1013.1 343.4h0M1025.6 401.2h0M1006.7 399.8h0M1017.6 398.5h0M1005.7 425.2h0M1017.1 318.3h0M1014.4 482.6h0M1015.5 416.4h0M1020.5 383.8h0M1007.0 415.5h0M1000.3 394.3h0M1013.7 365.1h0M1019.6 384.2h0M1017.1 403.3h0M1007.5 353.4h0M1022.2 419.2h0M1012.7 436.7h0M1021.6 434.9h0M1007.7 439.5h0M1018.9 444.8h0M1025.1 419.1h0M1010.3 445.4h0M1012.7 391.2h0M1020.4 406.3h0M1019.5 450.3h0M1018.5 472.9h0M1014.1 373.4h0M1001.9 325.6h0M1017.4 482.0h0M1004.2 439.1h0M1017.1 468.2h0M1027.2 428.1h0M1031.2 399.3h0M1018.8 361.1h0M1007.9 347.0h0M1013.6 452.1h0M1022.6 431.8h0M1020.6 402.7h0M1009.2 340.3h0M1025.2 366.1h0M1021.2 361.8h0M1019.6 375.7h0M1012.1 398.8h0M1016.0 457.1h0M1009.0 365.1h0M1016.6 390.1h0M1009.5 401.0h0M1024.9 345.3h0M1015.4 407.7h0M1016.8 353.4h0M1017.8 369.7h0M1017.7 400.0h0M1003.0 386.5h0M1025.8 393.1h0M1015.8 348.7h0M1010.4 420.8h0M1006.9 341.4h0M1009.3 425.9h0M1009.9 367.8h0M1015.1 337.0h0M1007.8 385.1h0M1015.9 342.6h0M1016.2 365.7h0M1009.2 382.3h0M1014.0 423.2h0M1017.8 423.9h0M1015.9 409.9h0M1013.6 376.5h0M1020.6 322.1h0M1026.6 379.1h0M1014.3 374.9h0M1007.7 383.3h0M1019.5 365.8h0M996.8 366.0h0M1016.2 424.3h0M1013.3 330.4h0M1017.6 389.4h0M1003.2 444.2h0M1011.2 355.1h0M1006.2 345.6h0M1010.3 379.1h0M1019.8 373.9h0M1013.2 400.5h0M1010.9 448.4h0M1024.7 383.4h0M1014.9 413.4h0M997.7 363.4h0M1006.0 367.5h0M1018.2 401.8h0M1018.4 359.5h0M1016.6 441.6h0M1016.9 371.1h0M1007.1 381.8h0M1013.8 343.1h0M1004.6 369.8h0M1007.6 344.9h0M1006.9 367.4h0M1009.8 310.8h0M1011.7 388.4h0M1014.9 465.7h0M1010.0 306.3h0M1021.9 465.3h0M1010.6 383.5h0M1027.3 427.8h0M1022.8 344.4h0M1012.3 478.2h0M1021.8 341.3h0M1002.6 385.4h0M1024.6 457.4h0M1017.1 332.5h0M1006.0 385.6h0M1010.9 354.8h0M1002.9 345.8h0M1023.4 348.3h0M1003.7 324.0h0M1013.3 450.6h0M1018.3 442.6h0M1014.2 328.3h0M1016.3 384.0h0M949.1 391.7h0M928.8 394.0h0M883.0 415.6h0M901.0 339.8h0M960.4 358.7h0M941.8 418.3h0M969.6 439.7h0M891.7 352.7h0M959.3 368.7h0M980.1 325.3h0M877.5 346.9h0M989.7 345.1h0M882.9 368.5h0M964.6 335.9h0M943.8 399.5h0M917.9 369.9h0M922.8 364.0h0M878.5 399.2h0M967.8 363.6h0M875.7 334.5h0M988.2 372.4h0M989.1 436.6h0M975.7 374.6h0M893.4 387.3h0M953.3 365.7h0M973.3 365.0h0M929.2 386.7h0M931.4 334.5h0M971.3 353.8h0M875.5 363.6h0M925.7 415.1h0M976.5 390.5h0M972.1 383.5h0M984.8 392.0h0M978.8 416.7h0M903.7 342.2h0M984.6 356.9h0M910.0 376.3h0M945.7 380.5h0M948.5 314.8h0M958.6 384.5h0M953.3 324.1h0M907.6 394.5h0M979.0 396.9h0M896.6 303.9h0M966.3 386.7h0M871.5 377.5h0M981.6 353.1h0M980.0 400.1h0M911.7 431.5h0M945.9 386.5h0M938.2 338.9h0M985.3 328.4h0M915.5 336.6h0M885.6 341.1h0M928.3 405.2h0M917.7 380.2h0M911.8 370.8h0M969.6 397.7h0M926.7 372.1h0M895.4 372.6h0M901.7 346.4h0M979.1 352.9h0M936.0 372.5h0M903.9 336.6h0M937.5 421.2h0M890.8 375.2h0M937.8 355.1h0M908.8 400.7h0M926.7 339.9h0M985.2 403.2h0M938.3 374.1h0M965.7 427.8h0M919.6 355.1h0M902.7 359.7h0M922.3 346.3h0M905.3 334.2h0M941.1 379.0h0M958.9 339.9h0M912.2 381.1h0M962.1 352.4h0M941.5 403.0h0M971.5 384.0h0M968.1 372.9h0M986.3 371.5h0M960.3 352.6h0M883.5 423.7h0M921.9 359.2h0M928.2 384.2h0M979.4 363.6h0M978.8 360.7h0M905.9 374.1h0M981.9 391.6h0M930.2 338.1h0M958.9 357.4h0M958.4 329.3h0M932.2 383.3h0M946.9 345.9h0M936.8 349.1h0M959.9 390.9h0M974.7 371.1h0M944.8 383.5h0M861.9 367.2h0M837.2 383.6h0M807.5 374.0h0M843.3 338.0h0M825.4 377.7h0M852.7 361.1h0M822.7 364.2h0M846.5 379.8h0M816.7 354.9h0M846.8 339.7h0M843.7 406.8h0M849.7 426.4h0M806.2 361.1h0M833.7 405.7h0M853.2 382.9h0M833.5 352.2h0M823.3 346.4h0M853.7 363.0h0M1000.5 399.7h0M985.6 408.4h0M992.1 381.8h0M985.9 385.2h0M988.7 417.7h0M993.0 390.9h0M989.0 385.1h0M987.4 417.0h0M982.5 438.0h0M979.2 410.2h0M990.3 368.2h0M993.4 388.6h0M996.8 437.5h0M985.3 414.0h0M986.1 333.0h0M1001.9 359.5h0M995.2 401.2h0M998.9 456.9h0M987.3 421.4h0M986.1 388.0h0M982.6 415.0h0M999.8 395.5h0M982.8 384.4h0M978.0 408.2h0M985.9 430.1h0M1002.0 413.6h0M992.1 379.7h0M993.7 365.2h0M992.8 353.1h0M991.5 404.4h0M990.5 400.1h0M980.6 401.1h0M990.6 454.4h0M1001.5 370.0h0M979.4 368.1h0M996.2 427.9h0M982.4 386.3h0M981.5 362.3h0M994.0 402.2h0M1000.1 409.1h0M1002.8 451.0h0M1002.5 403.8h0M989.7 379.7h0M998.1 377.6h0M987.1 366.8h0M930.9 289.1h0M823.2 292.9h0M818.3 296.3h0M841.7 296.3h0M845.1 302.4h0M833.4 308.7h0M902.7 306.4h0M916.9 310.9h0M942.2 308.0h0M996.2 307.5h0M1003.4 312.7h0M1018.7 301.5h0M1029.8 300.1h0M1029.8 313.2h0M1024.8 315.0h0M1016.9 315.4h0M779.3 315.4h0M814.2 317.7h0M952.7 319.9h0M742.1 256.9h0M1022.6 576.0h0M1011.3 590.4h0M1006.1 549.0h0M1015.1 550.1h0M1006.1 554.2h0M996.0 537.3h0M1019.9 530.3h0M998.9 526.9h0M1005.7 525.3h0M996.7 514.1h0M1003.4 514.1h0M1015.8 512.9h0M998.9 518.6h0M1014.7 508.4h0M1001.2 508.4h0M1005.7 501.7h0M1009.1 494.9h0M1016.9 493.8h0M1020.3 488.2h0M989.9 492.7h0M957.7 501.0h0M980.2 483.0h0M1000.1 481.4h0M996.7 475.8h0M1021.5 480.3h0M1022.6 474.6h0M1014.7 473.5h0M1007.9 469.0h0M1021.5 469.0h0M989.9 465.6h0M1003.4 463.4h0M1016.9 463.4h0M987.7 461.1h0M891.9 455.2h0M941.5 456.3h0M961.8 442.8h0M967.4 450.7h0M909.9 436.7h0M833.4 440.1h0M887.4 424.7h0M935.9 430.4h0M971.9 430.4h0M987.7 461.9h0M992.2 468.7h0M996.7 475.4h0M980.9 446.1h0M985.4 452.9h0"/>
<path class="d" stroke="#FFA15A" d="M714.6 194.5h0M709.9 214.1h0M710.6 226.9h0M714.0 234.3h0M711.7 244.5h0M716.2 243.3h0M711.7 256.9h0M709.5 262.5h0M713.3 280.5h0M699.3 283.9h0M712.8 304.2h0M725.2 274.9h0"/>
<path class="d" stroke="#19D3F3" d="M683.0 379.7h0M682.4 370.5h0M674.7 360.3h0M664.6 398.0h0M691.2 421.1h0M672.0 315.4h0M682.2 395.8h0M680.1 330.9h0M673.1 333.0h0M691.4 371.8h0M681.7 364.8h0M675.9 334.1h0M672.5 352.8h0M667.9 420.0h0M665.4 392.3h0M680.8 323.4h0M672.3 287.4h0M672.2 311.5h0M680.3 362.9h0M673.1 324.3h0M681.5 322.1h0M670.6 384.6h0M671.6 344.4h0M683.7 340.5h0M670.3 364.3h0M681.2 413.8h0M680.3 368.0h0M676.1 383.4h0M665.0 359.0h0M666.8 417.7h0M665.2 306.7h0M683.3 310.9h0M668.7 335.5h0M665.6 417.6h0M671.8 311.9h0M675.2 337.5h0M681.1 377.8h0M682.1 358.6h0M671.0 391.3h0M682.8 336.2h0M662.9 289.6h0M671.4 380.6h0M674.6 405.9h0M676.6 294.5h0M685.6 337.8h0M673.2 281.2h0M667.5 373.1h0M677.8 309.6h0M677.3 385.6h0M679.8 342.2h0M673.2 361.3h0M677.4 382.4h0M671.2 347.8h0M680.7 315.4h0M670.4 392.6h0M670.8 297.2h0M685.8 412.3h0M669.6 331.6h0M676.0 334.9h0M680.7 371.8h0M673.3 372.7h0M683.6 376.2h0M671.1 297.3h0M684.5 320.8h0M663.0 369.7h0M664.7 370.9h0M676.5 352.3h0M687.9 407.8h0M689.5 349.0h0M668.8 393.6h0M675.7 399.4h0M671.9 369.9h0M682.0 348.3h0M672.8 385.6h0M687.4 374.0h0M678.3 380.9h0M671.5 321.5h0M670.2 374.8h0M674.4 419.8h0M679.8 344.8h0M671.9 361.7h0M677.7 346.6h0M666.5 391.4h0M676.7 420.0h0M685.6 376.7h0M679.6 347.2h0M673.2 367.2h0M670.4 401.2h0M669.4 371.1h0M666.1 383.1h0M671.7 404.3h0M678.2 363.1h0M671.3 385.9h0M689.6 415.2h0M679.1 378.8h0M672.3 331.7h0M675.7 387.2h0M688.2 343.8h0M678.0 374.6h0M684.4 373.6h0M668.4 391.8h0M677.0 340.2h0M674.0 355.8h0M670.4 384.2h0M673.7 332.0h0M673.2 388.0h0M664.1 359.1h0M674.0 417.8h0M680.3 292.6h0M672.4 360.6h0M680.1 395.7h0M682.3 306.3h0M681.8 327.0h0M688.6 375.6h0M683.2 358.2h0M682.7 344.7h0M676.1 368.9h0M676.0 301.5h0M671.4 323.4h0M679.5 425.4h0M683.7 331.1h0M671.2 374.0h0M682.8 354.6h0M672.1 390.8h0M680.9 369.8h0M674.8 372.8h0M683.2 402.9h0M677.9 369.5h0M671.9 289.3h0M672.4 330.5h0M681.2 413.3h0M671.8 398.8h0M684.2 347.6h0M678.5 293.7h0M683.6 328.5h0M671.4 404.2h0M668.0 405.1h0M669.8 292.9h0M679.3 303.0h0M669.4 333.4h0M681.8 303.1h0M670.4 361.1h0M674.6 313.5h0M670.9 375.5h0M663.5 347.9h0M675.4 334.5h0M674.0 382.5h0M682.2 374.4h0M669.0 361.8h0M671.5 342.2h0M677.1 354.7h0M676.8 329.9h0M677.4 362.1h0M686.2 426.3h0M673.0 372.3h0M674.2 317.5h0M668.9 337.4h0M671.1 306.6h0M684.8 354.8h0M679.1 353.0h0M686.1 355.1h0M672.6 367.2h0M684.2 397.6h0M677.1 383.6h0M680.7 310.9h0M683.3 389.8h0M678.5 316.5h0M665.5 371.6h0M679.1 360.3h0M670.2 422.9h0M673.6 352.6h0M680.6 352.8h0M677.1 345.8h0M676.1 390.5h0M690.6 368.9h0M678.3 346.1h0M683.7 389.5h0M678.8 420.8h0M689.8 415.9h0M673.0 335.6h0M685.9 353.1h0M691.3 363.2h0M672.9 289.6h0M684.8 424.6h0M664.7 300.2h0M678.7 372.6h0M682.3 308.2h0M669.1 361.8h0M676.5 389.4h0M673.4 377.4h0M677.7 323.0h0M678.6 331.3h0M683.1 393.5h0M689.2 354.4h0M679.8 361.5h0M663.3 393.8h0M681.8 367.0h0M679.4 406.6h0M677.4 427.2h0M689.4 384.0h0M678.4 328.1h0M673.2 395.0h0M680.1 430.7h0M684.2 331.9h0M676.7 328.7h0M690.3 351.1h0M681.9 340.9h0M679.3 305.5h0M677.8 332.2h0M666.3 374.1h0M675.6 336.3h0M678.7 364.0h0M684.5 410.8h0M679.9 391.4h0M682.1 318.6h0M682.0 396.1h0M671.8 356.9h0M678.8 370.4h0M674.5 394.9h0M665.8 387.4h0M663.6 305.4h0M683.2 312.1h0M688.3 367.4h0M688.2 384.6h0M669.2 380.5h0M688.9 342.5h0M689.3 337.8h0M669.9 328.9h0M680.4 305.9h0M690.6 305.6h0M677.1 335.1h0M686.2 360.6h0M671.1 326.6h0M673.5 357.3h0M683.7 345.7h0M674.9 347.7h0M677.4 339.6h0M677.1 368.0h0M667.8 357.4h0M688.8 367.1h0M675.2 360.8h0M673.6 332.7h0M672.6 363.3h0M676.9 329.4h0M668.5 361.4h0M683.6 322.3h0M673.5 383.4h0M683.0 370.3h0M669.0 299.7h0M667.8 329.2h0M668.6 384.2h0M678.2 372.5h0M665.3 362.1h0M683.4 312.1h0M673.5 329.9h0M683.8 363.0h0M673.1 368.2h0M683.1 355.9h0M667.7 324.0h0M667.1 347.6h0M681.3 337.1h0M671.7 311.0h0M685.2 313.4h0M670.5 324.8h0M680.6 297.6h0M669.4 374.9h0M688.3 386.6h0M674.5 391.1h0M684.4 325.9h0M677.7 326.9h0M679.6 366.1h0M685.3 338.0h0M687.1 344.1h0M690.0 344.1h0M679.5 293.3h0M675.4 405.9h0M676.8 300.1h0M666.5 294.7h0M682.4 387.7h0M682.3 313.4h0M679.2 398.1h0M669.7 369.6h0M681.6 370.1h0M671.6 341.3h0M686.7 300.9h0M671.1 309.8h0M671.8 360.1h0M673.5 351.9h0M667.6 308.9h0M668.7 311.5h0M673.8 322.2h0M679.3 353.6h0M678.6 373.2h0M668.8 391.3h0M677.8 341.6h0M676.1 412.0h0M677.0 384.1h0M663.7 413.6h0M675.2 321.9h0M674.5 378.6h0M668.7 398.4h0M671.0 287.0h0M673.4 392.0h0M683.2 372.1h0M686.4 391.8h0M676.4 362.8h0M667.1 400.7h0M688.6 339.6h0M664.3 335.8h0M671.5 384.0h0M674.3 384.2h0M669.9 303.8h0M687.3 402.8h0M679.5 401.7h0M685.2 396.0h0M673.6 327.8h0M683.4 405.1h0M674.8 376.2h0M674.9 392.1h0M678.6 354.0h0M679.4 339.4h0M680.9 328.7h0M674.3 332.3h0M663.4 390.9h0M673.4 326.1h0M673.6 332.2h0M669.2 368.8h0M683.0 345.9h0M673.1 330.6h0M679.6 342.0h0M680.1 418.5h0M679.6 381.9h0M669.0 317.3h0M678.5 313.4h0M677.3 338.4h0M670.3 364.8h0M678.5 325.8h0M686.6 372.9h0M668.8 301.6h0M679.8 368.8h0M684.5 402.2h0M681.5 354.9h0M678.4 365.8h0M672.8 373.4h0M686.3 359.9h0M674.9 353.5h0M665.6 367.0h0M680.2 360.3h0M668.6 359.5h0M691.0 417.0h0M689.3 395.7h0M668.2 391.8h0M682.4 331.5h0M675.7 337.2h0M667.2 396.9h0M676.8 315.4h0M721.0 352.2h0M693.7 435.9h0M694.7 420.8h0M693.3 432.2h0M714.5 392.7h0M731.1 457.0h0M704.3 424.0h0M719.4 440.3h0M723.5 386.8h0M698.7 398.0h0M704.1 450.3h0M698.0 407.4h0M705.1 409.0h0M725.0 457.1h0M725.3 446.2h0M724.0 415.8h0M691.9 359.5h0M704.8 406.2h0M704.6 390.2h0M703.3 456.6h0M702.7 460.0h0M691.3 392.7h0M691.7 413.2h0M740.0 439.1h0M692.9 425.5h0M700.4 417.2h0M723.7 441.1h0M697.6 412.5h0M703.7 372.5h0M693.7 405.1h0M691.5 407.4h0M707.4 396.3h0M740.0 431.5h0M695.5 432.6h0M710.3 438.2h0M699.1 424.3h0M696.9 417.2h0M737.2 375.4h0M715.5 397.6h0M717.0 380.7h0M692.1 419.2h0M692.1 404.9h0M691.9 407.5h0M712.4 425.9h0M690.5 399.2h0M696.3 443.4h0M690.3 442.8h0M723.0 378.1h0M698.4 451.3h0M709.1 397.8h0M697.7 385.2h0M707.3 398.5h0M696.5 367.6h0M706.9 419.8h0M702.4 447.9h0M714.6 359.6h0M701.0 422.6h0M693.0 427.7h0M692.9 430.1h0M695.2 429.6h0M700.5 422.9h0M691.8 393.7h0M696.2 437.7h0M730.3 419.6h0M711.2 434.6h0M740.0 418.9h0M714.6 400.3h0M740.0 407.3h0M734.0 428.5h0M740.0 442.4h0M732.9 346.9h0M710.5 367.4h0M733.7 355.9h0M698.7 391.6h0M721.8 387.1h0M700.0 415.1h0M693.3 398.9h0M719.3 451.8h0M740.0 388.8h0M712.0 385.7h0M699.3 382.1h0M691.7 399.0h0M729.5 413.9h0M697.1 393.0h0M703.9 378.7h0M723.1 364.5h0M699.3 414.5h0M699.3 390.8h0M715.4 376.7h0M707.6 399.8h0M704.8 419.3h0M695.7 461.1h0M699.9 379.7h0M721.2 394.0h0M711.6 345.3h0M706.8 345.0h0M693.8 348.7h0M733.1 437.9h0M706.0 403.5h0M708.0 360.9h0M693.6 386.6h0M711.9 392.1h0M717.9 386.9h0M697.7 455.8h0M702.5 345.9h0M702.1 393.6h0M690.4 416.2h0M712.2 423.8h0M696.0 337.9h0M740.0 414.3h0M707.2 367.5h0M699.9 389.6h0M714.2 356.8h0M726.2 433.2h0M707.1 441.1h0M700.2 398.7h0M726.6 351.5h0M724.2 436.5h0M727.7 447.1h0M723.7 372.7h0M719.9 438.8h0M702.0 350.3h0M710.1 367.0h0M713.9 413.1h0M695.2 363.3h0M730.7 432.9h0M693.0 454.7h0M691.0 410.5h0M700.1 424.5h0M712.7 460.4h0M698.7 425.4h0M708.2 451.0h0M692.7 455.2h0M705.0 374.9h0M694.1 447.3h0M734.9 414.1h0M740.0 435.9h0M706.4 419.5h0M736.7 416.8h0M703.7 377.0h0M697.4 396.4h0M694.6 398.6h0M707.7 444.7h0M706.2 425.0h0M696.9 422.7h0M700.8 405.9h0M710.5 450.4h0M729.5 330.4h0M728.9 380.2h0M713.3 440.4h0M720.0 396.3h0M695.5 430.5h0M698.5 461.0h0M716.1 435.6h0M694.9 362.0h0M730.4 402.3h0M727.6 372.4h0M716.9 425.0h0M729.9 443.2h0M697.7 402.0h0M717.9 426.3h0M740.0 403.2h0M720.1 414.0h0M696.4 417.2h0M701.1 428.1h0M740.0 443.9h0M701.3 432.3h0M723.9 408.9h0M705.4 411.6h0M698.1 426.3h0M693.3 429.0h0M719.8 397.8h0M711.0 391.2h0M714.4 402.3h0M723.6 424.9h0M699.9 395.5h0M740.0 375.0h0M696.1 399.1h0M710.3 394.1h0M691.5 429.5h0M711.6 393.3h0M697.6 396.8h0M701.8 424.4h0M702.1 380.1h0M706.3 448.8h0M693.0 398.2h0M739.7 383.8h0M692.7 430.9h0M695.7 364.5h0M740.0 407.9h0M719.2 428.2h0M700.1 434.1h0M692.4 393.1h0M707.7 393.9h0M692.5 407.3h0M701.8 449.2h0M740.0 352.2h0M694.1 436.5h0M693.0 419.8h0M697.1 454.2h0M696.2 374.0h0M700.9 447.3h0M705.4 382.1h0M727.3 419.8h0M694.6 397.5h0M736.5 330.9h0M709.1 408.3h0M694.4 422.8h0M704.8 438.0h0M691.0 389.8h0M740.0 372.5h0M690.0 433.0h0M699.5 398.7h0M724.4 443.9h0M712.3 456.2h0M712.5 402.7h0M740.0 404.7h0M717.9 386.9h0M733.1 344.8h0M662.2 280.5h0M670.0 283.9h0M674.5 268.1h0M682.4 270.4h0M689.2 264.1h0M686.9 276.0h0M715.1 268.6h0M725.2 276.0h0M663.3 290.7h0M665.5 299.7h0M667.8 308.7h0M663.3 315.4h0M681.3 292.9h0M688.1 289.5h0M686.9 304.2h0M679.1 310.9h0M708.3 289.5h0M701.6 295.2h0M708.3 299.7h0M726.6 486.6h0M727.5 470.1h0M717.3 469.5h0M714.0 463.4h0M802.5 464.5h0M676.3 462.7h0M736.5 462.3h0M810.8 414.6h0M781.5 433.8h0M771.4 454.7h0M802.5 464.2h0M667.8 443.4h0M676.3 461.9h0M715.1 464.2h0M727.5 469.8h0M737.6 460.8h0M666.7 414.6h0"/>
<path class="d" stroke="#FF6692" d="M703.2 346.0h0M712.7 337.8h0M736.8 295.0h0M732.6 300.2h0M747.2 276.7h0M751.5 269.1h0M738.6 380.0h0M730.9 348.4h0M723.5 362.5h0M729.2 278.0h0M746.0 258.6h0M741.0 269.8h0M741.3 420.9h0M706.8 399.0h0M720.5 289.1h0M721.6 353.3h0M723.8 356.4h0M716.1 305.1h0M742.1 320.2h0M747.8 391.3h0M724.1 380.7h0M730.4 389.1h0M733.3 363.6h0M731.8 354.4h0M719.4 371.5h0M743.9 342.3h0M701.7 424.6h0M724.7 359.3h0M703.4 373.4h0M741.3 345.6h0M711.1 319.6h0M714.6 347.2h0M731.7 334.8h0M716.3 313.8h0M735.7 385.7h0M726.1 438.4h0M713.7 362.3h0M719.7 344.9h0M740.5 317.7h0M733.7 284.3h0M738.6 376.8h0M727.6 375.2h0M746.2 314.3h0M737.1 353.4h0M751.8 311.9h0M711.6 412.9h0M735.8 355.0h0M728.6 369.5h0M738.0 425.8h0M717.8 368.2h0M744.1 361.9h0M712.0 337.1h0M745.3 351.0h0M740.2 405.6h0M704.9 320.9h0M737.9 321.4h0M702.9 427.2h0M740.4 395.8h0M707.9 372.1h0M730.9 386.5h0M727.9 354.6h0M707.6 337.6h0M704.1 344.3h0M739.5 364.8h0M724.7 330.3h0M748.3 280.1h0M731.3 343.7h0M734.6 363.5h0M737.3 345.1h0M733.3 380.8h0M740.2 364.0h0M720.7 393.9h0M722.4 356.7h0M757.0 343.5h0M729.2 376.7h0M714.8 390.4h0M739.8 331.6h0M719.5 313.2h0M733.3 410.5h0M749.3 328.0h0M751.7 367.7h0M749.9 330.5h0M742.2 361.0h0M740.5 412.9h0M736.8 425.8h0M731.8 293.4h0M731.3 287.3h0M757.6 377.4h0M730.7 420.2h0M750.7 362.7h0M734.8 338.2h0M723.1 387.7h0M756.2 309.8h0M755.2 380.3h0M723.2 410.8h0M731.5 405.8h0M746.6 382.4h0M737.3 328.8h0M734.2 336.6h0M747.5 310.7h0M713.1 433.3h0M757.1 406.1h0M739.7 348.4h0M719.2 348.0h0M731.8 361.6h0M733.0 321.9h0M710.5 373.9h0M753.7 373.0h0M739.2 370.1h0M733.2 353.2h0M749.1 342.3h0M727.5 288.7h0M731.7 276.5h0M748.5 328.8h0M740.1 342.2h0M748.1 337.2h0M728.0 312.9h0M712.2 421.9h0M736.9 268.9h0M741.2 371.6h0M729.0 324.4h0M736.7 406.4h0M734.3 387.7h0M731.4 353.8h0M741.8 284.0h0M738.4 384.9h0M753.5 393.3h0M721.2 379.3h0M757.4 337.2h0M721.1 378.0h0M746.0 315.8h0M717.4 361.0h0M732.0 366.3h0M717.4 339.7h0M725.8 306.2h0M706.0 340.0h0M731.5 311.1h0M742.1 297.0h0M720.5 396.3h0M704.3 343.0h0M734.5 327.0h0M728.4 326.9h0M731.6 368.9h0M716.8 335.4h0M726.8 318.4h0M721.0 361.7h0M710.4 356.0h0M720.5 309.7h0M726.1 302.1h0M738.5 407.2h0M728.7 337.3h0M738.0 403.0h0M753.2 376.0h0M747.6 346.4h0M727.4 338.9h0M707.1 421.7h0M730.8 321.1h0M734.9 332.3h0M748.6 313.0h0M735.7 342.6h0M728.7 307.9h0M743.5 354.7h0M743.9 293.8h0M718.5 372.5h0M729.1 364.4h0M736.6 358.8h0M743.9 322.7h0M750.4 406.2h0M755.9 438.3h0M753.8 343.6h0M746.2 315.2h0M731.6 377.9h0M741.8 340.0h0M752.8 355.7h0M718.8 378.0h0M743.4 289.1h0M741.0 381.5h0M731.3 303.0h0M722.9 294.0h0M718.6 332.1h0M732.6 414.0h0M723.9 321.3h0M753.4 369.9h0M708.3 308.0h0M713.6 376.9h0M737.9 363.4h0M744.4 400.4h0M715.4 357.2h0M752.7 349.5h0M728.4 266.2h0M748.6 363.2h0M719.8 384.2h0M726.0 358.0h0M732.1 357.2h0M723.4 374.1h0M736.6 387.7h0M734.0 309.4h0M721.4 345.9h0M736.1 368.2h0M714.4 360.4h0M722.6 306.7h0M724.4 261.2h0M742.6 363.3h0M725.6 381.0h0M740.1 423.3h0M750.2 367.8h0M756.5 310.5h0M707.5 368.7h0M732.1 344.0h0M715.6 318.9h0M742.5 285.3h0M736.6 268.2h0M732.7 318.0h0M724.9 330.4h0M718.4 351.7h0M707.5 349.7h0M747.3 359.1h0M729.8 433.7h0M733.3 346.1h0M737.6 409.7h0M744.6 314.3h0M730.1 316.8h0M742.6 325.6h0M732.3 269.1h0M726.9 422.4h0M722.2 360.1h0M723.4 380.9h0M750.1 425.6h0M734.4 368.9h0M733.8 421.2h0M733.9 405.3h0M729.4 362.2h0M729.5 324.2h0M723.1 397.0h0M724.8 350.1h0M726.4 317.7h0M730.0 262.4h0M704.8 428.0h0M733.8 351.9h0M732.2 419.8h0M739.0 377.9h0M716.1 320.9h0M718.8 336.8h0M744.7 321.4h0M722.0 359.8h0M739.9 345.3h0M722.7 291.2h0M738.8 283.1h0M711.0 399.5h0M723.6 291.7h0M725.7 298.0h0M714.5 311.1h0M753.9 289.4h0M733.0 304.9h0M719.5 382.5h0M755.0 314.8h0M745.0 341.9h0M721.4 320.4h0M717.5 349.5h0M730.0 350.0h0M743.5 413.5h0M711.9 370.4h0M749.9 274.8h0M727.0 307.8h0M745.2 334.3h0M730.7 349.7h0M740.0 375.5h0M742.3 271.8h0M752.0 382.7h0M722.2 302.2h0M713.9 304.2h0M737.5 327.0h0M742.9 292.5h0M733.2 294.1h0M746.0 392.3h0M732.9 297.1h0M732.2 360.4h0M747.7 356.4h0M733.0 330.6h0M740.5 285.9h0M735.2 303.7h0M735.7 334.6h0M718.2 360.3h0M752.5 396.6h0M725.0 378.2h0M717.7 331.0h0M734.5 331.1h0M723.3 399.7h0M730.1 415.9h0M736.4 322.9h0M733.8 203.0h0M769.2 259.6h0M791.0 256.9h0M763.1 294.0h0M780.4 295.8h0M726.4 245.6h0M728.6 251.2h0M733.1 252.4h0M724.1 254.6h0M738.7 258.0h0M719.6 265.9h0M728.6 263.6h0M735.4 263.6h0M744.4 264.7h0M730.9 272.6h0M739.9 272.6h0M737.6 281.6h0M748.9 281.6h0M754.5 285.0h0M733.1 288.4h0M742.1 290.7h0M746.6 297.4h0M728.6 299.7h0M717.3 304.2h0M735.4 306.4h0M751.1 309.8h0M744.4 315.4h0M724.1 313.2h0M706.1 306.4h0M885.6 501.7h0M922.3 502.3h0M932.0 527.1h0M978.9 520.8h0M834.5 472.4h0M792.1 484.3h0M756.8 486.4h0M700.5 491.5h0M697.7 466.1h0M737.6 468.6h0M742.1 471.7h0M821.0 460.0h0M781.5 339.1h0M802.9 357.2h0M775.9 359.4h0M817.6 360.5h0M775.9 386.5h0M756.8 391.0h0M821.4 457.4h0M834.5 472.1h0M715.1 451.8h0M738.7 468.7h0M698.2 466.4h0M694.8 450.7h0"/>
<path class="d" stroke="#B6E880" d="M740.1 347.8h0M747.4 383.5h0M728.4 345.7h0M727.2 349.5h0M713.4 335.6h0M736.3 411.6h0M732.3 360.8h0M709.9 350.9h0M741.6 402.2h0M752.6 365.2h0M725.2 388.2h0M728.7 372.5h0M738.1 389.0h0M743.9 383.8h0M741.8 422.8h0M710.0 408.6h0M709.2 333.5h0M716.1 405.2h0M702.1 371.0h0M722.6 381.5h0M714.0 417.1h0M710.8 408.3h0M742.1 407.8h0M732.2 439.2h0M741.0 411.2h0M723.0 359.6h0M718.5 339.0h0M710.4 403.5h0M730.6 367.3h0M710.3 367.0h0M736.7 356.5h0M741.5 419.3h0M724.9 387.8h0M705.2 371.1h0M736.4 405.3h0M712.7 365.5h0M723.8 414.6h0M708.5 440.3h0M759.1 374.0h0M753.1 373.0h0M710.7 413.1h0M704.9 339.8h0M725.1 346.7h0M737.4 328.7h0M748.8 377.8h0M725.0 387.0h0M703.6 377.1h0M731.4 377.1h0M730.9 405.8h0M697.2 410.6h0M721.3 415.8h0M720.6 373.6h0M708.3 378.5h0M730.1 422.8h0M745.2 390.4h0M744.4 418.1h0M709.9 363.5h0M715.4 376.6h0M738.6 358.4h0M720.0 377.3h0M719.7 390.9h0M714.2 364.3h0M703.4 233.7h0M694.6 245.1h0M753.4 248.8h0M699.6 271.1h0M703.8 283.2h0M714.4 294.5h0M729.7 295.2h0M725.2 298.5h0M697.7 301.9h0M703.8 309.8h0M699.3 313.2h0M738.1 310.5h0M718.5 315.4h0M817.6 306.4h0M814.2 307.5h0M749.3 465.6h0M826.6 335.8h0M843.5 340.3h0M831.1 351.5h0M816.5 353.8h0M812.0 365.1h0M857.0 360.5h0M869.4 363.9h0M913.3 348.2h0M868.3 376.3h0M819.8 379.7h0M823.2 385.3h0M816.5 389.8h0M818.7 396.6h0M840.1 388.7h0M834.5 397.7h0M827.7 404.5h0M824.3 409.0h0M806.3 404.5h0M780.4 405.1h0M830.0 418.4h0M859.3 413.5h0M846.9 428.6h0M817.6 429.9h0M804.1 429.9h0M824.3 438.3h0M789.4 326.8h0M765.8 329.0h0M773.7 343.7h0M793.9 358.3h0M763.5 365.1h0M771.4 371.8h0M757.9 380.8h0M782.7 383.1h0M793.9 384.2h0M766.9 392.1h0M760.1 400.0h0M763.5 409.0h0M757.9 414.6h0M775.9 440.5h0M762.4 441.6h0M756.8 448.4h0M739.9 445.0h0M725.2 450.2h0M748.9 465.3h0"/>
</g>
<text x="632.8" y="213.4" font-size="28" text-anchor="end">−4</text>
<text x="632.8" y="284.4" font-size="28" text-anchor="end">−5</text>
<text x="632.8" y="355.4" font-size="28" text-anchor="end">−6</text>
<text x="632.8" y="426.4" font-size="28" text-anchor="end">−7</text>
<text x="632.8" y="497.4" font-size="28" text-anchor="end">−8</text>
<text x="632.8" y="568.4" font-size="28" text-anchor="end">−9</text>
<text x="636.1" y="650.3" font-size="28" text-anchor="middle" letter-spacing="0.45">−0.02</text>
<text x="776.3" y="650.3" font-size="28" text-anchor="middle" letter-spacing="0.45">0</text>
<text x="917.0" y="650.3" font-size="28" text-anchor="middle" letter-spacing="0.45">0.02</text>
<text x="1057.8" y="650.3" font-size="28" text-anchor="middle" letter-spacing="0.45">0.04</text>
<text x="848" y="702" font-size="24" text-anchor="middle">Frequency</text>
<text x="847.5" y="149.6" font-size="32" text-anchor="middle">Module 1</text>
<clipPath id="c2"><rect x="1184" y="160" width="428" height="460"/></clipPath>
<rect x="1184" y="160" width="428" height="460" fill="#E5ECF6"/>
<rect x="1465.75" y="160" width="2" height="460" fill="#fff"/><rect x="1606.50" y="160" width="2" height="460" fill="#fff"/><rect x="1184" y="218.60" width="428" height="2" fill="#fff"/><rect x="1184" y="355.40" width="428" height="2" fill="#fff"/><rect x="1184" y="423.80" width="428" height="2" fill="#fff"/><rect x="1184" y="492.20" width="428" height="2" fill="#fff"/><rect x="1184" y="560.60" width="428" height="2" fill="#fff"/><rect x="1324.00" y="160" width="4" height="460" fill="#fff"/><rect x="1184" y="286.00" width="428" height="4" fill="#fff"/>
<g clip-path="url(#c2)">
<path class="d" stroke="#636EFA" d="M1339.7 286.3h0M1321.5 318.2h0M1302.7 272.2h0M1349.4 316.7h0M1325.7 272.5h0M1378.3 350.5h0M1294.1 276.9h0M1387.2 364.7h0M1327.4 278.1h0M1367.9 338.8h0M1309.0 247.1h0M1293.5 277.1h0M1289.6 266.4h0M1314.4 281.4h0M1309.0 312.5h0M1356.7 301.8h0M1355.0 362.6h0M1387.8 358.8h0M1355.0 340.9h0M1348.3 328.7h0M1314.4 272.2h0M1287.8 247.6h0M1355.1 349.4h0M1303.2 280.7h0M1398.6 364.1h0M1362.3 327.5h0M1287.8 290.1h0M1334.2 327.0h0M1294.8 233.7h0M1284.0 320.2h0M1329.5 333.5h0M1390.6 367.5h0M1299.0 286.3h0M1397.8 357.6h0M1335.4 333.4h0M1318.9 367.6h0M1391.0 352.9h0M1320.1 267.0h0M1301.4 278.4h0M1389.3 354.4h0M1390.0 369.3h0M1373.7 321.3h0M1372.3 334.7h0M1337.3 304.5h0M1381.8 364.9h0M1330.8 336.3h0M1339.2 319.3h0M1302.3 311.1h0M1345.1 322.0h0M1366.2 340.1h0M1314.0 252.2h0M1299.7 251.0h0M1292.7 236.1h0M1338.3 324.7h0M1296.4 275.7h0M1332.5 279.3h0M1354.1 328.0h0M1290.9 263.4h0M1374.9 351.1h0M1294.9 255.1h0M1297.7 253.4h0M1359.2 357.2h0M1392.2 350.2h0M1297.3 303.6h0M1364.5 318.2h0M1338.1 306.6h0M1307.3 275.4h0M1349.4 299.9h0M1333.3 326.9h0M1327.9 267.1h0M1383.7 353.0h0M1348.3 289.2h0M1377.0 357.1h0M1288.9 265.7h0M1392.5 372.7h0M1310.1 343.7h0M1343.0 299.8h0M1291.7 267.7h0M1308.2 248.8h0M1339.1 301.4h0M1370.3 342.0h0M1372.9 343.1h0M1338.1 332.0h0M1312.5 302.9h0M1353.8 347.8h0M1326.6 283.4h0M1302.8 283.5h0M1371.6 322.2h0M1374.5 340.2h0M1303.6 240.8h0M1288.5 260.5h0M1369.2 340.8h0M1376.6 336.4h0M1292.3 255.7h0M1329.4 267.7h0M1363.8 321.8h0M1322.3 281.3h0M1374.7 347.2h0M1288.6 277.2h0M1348.6 310.8h0M1308.7 281.2h0M1366.1 343.8h0M1285.9 233.9h0M1365.1 356.1h0M1336.4 362.3h0M1364.1 342.7h0M1297.2 258.9h0M1379.9 350.1h0M1359.4 355.3h0M1288.1 300.8h0M1384.0 327.4h0M1303.2 288.6h0M1328.1 283.3h0M1324.4 287.5h0M1372.8 347.0h0M1371.1 351.0h0M1293.7 260.9h0M1382.1 333.8h0M1302.3 272.7h0M1366.4 316.9h0M1298.3 324.3h0M1331.1 269.5h0M1296.6 289.4h0M1360.9 334.4h0M1330.1 304.6h0M1348.7 297.0h0M1398.8 350.1h0M1378.8 339.9h0M1307.0 268.1h0M1333.9 301.4h0M1349.4 324.2h0M1322.7 285.6h0M1291.0 278.7h0M1324.1 318.2h0M1316.0 276.7h0M1306.8 303.6h0M1302.5 279.9h0M1296.4 255.4h0M1381.0 354.6h0M1336.3 338.0h0M1367.8 332.0h0M1373.4 317.6h0M1382.2 360.2h0M1351.5 345.7h0M1381.1 328.5h0M1299.7 271.2h0M1305.7 294.5h0M1358.4 301.0h0M1327.2 322.0h0M1306.0 302.1h0M1326.7 322.4h0M1329.5 342.6h0M1386.3 333.2h0M1333.6 331.5h0M1386.7 386.5h0M1307.5 245.5h0M1384.1 342.6h0M1378.8 357.2h0M1304.5 259.5h0M1372.2 316.6h0M1375.4 348.6h0M1374.8 345.7h0M1387.4 338.9h0M1336.3 315.4h0M1340.5 335.5h0M1313.0 315.8h0M1341.3 323.9h0M1390.3 332.4h0M1356.3 320.6h0M1376.7 320.6h0M1383.8 331.1h0M1354.2 328.8h0M1347.5 331.8h0M1308.3 282.9h0M1351.0 321.9h0M1355.3 297.3h0M1289.6 225.3h0M1284.5 223.1h0M1396.2 346.1h0M1290.0 245.9h0M1377.0 381.7h0M1355.8 348.2h0M1380.0 328.3h0M1346.6 302.3h0M1347.8 306.3h0M1309.4 267.8h0M1352.3 311.4h0M1386.6 328.6h0M1310.3 317.5h0M1390.4 362.8h0M1312.9 305.0h0M1357.9 330.4h0M1389.3 358.6h0M1378.6 338.4h0M1319.7 257.9h0M1348.7 322.5h0M1375.3 342.9h0M1396.7 334.9h0M1369.0 313.4h0M1390.1 369.9h0M1343.5 290.2h0M1355.1 321.0h0M1313.1 268.0h0M1329.3 346.4h0M1324.6 262.8h0M1394.9 371.4h0M1394.8 333.6h0M1391.8 367.4h0M1331.8 291.1h0M1394.1 333.3h0M1358.0 329.3h0M1307.3 279.6h0M1339.1 278.3h0M1296.3 280.1h0M1345.1 315.5h0M1393.4 361.2h0M1331.9 270.2h0M1327.5 280.1h0M1292.6 237.2h0M1340.1 314.6h0M1362.2 320.9h0M1390.4 335.5h0M1323.4 333.6h0M1312.8 271.9h0M1391.7 370.0h0M1295.8 293.4h0M1325.9 279.4h0M1340.2 279.6h0M1392.9 356.4h0M1353.3 338.7h0M1384.6 366.9h0M1387.7 356.2h0M1370.6 347.5h0M1375.0 330.8h0M1307.5 261.4h0M1377.7 396.5h0M1376.0 362.9h0M1320.9 259.2h0M1307.7 290.7h0M1314.7 301.2h0M1381.4 324.7h0M1364.5 328.2h0M1339.1 325.0h0M1294.0 316.2h0M1386.8 375.6h0M1285.4 247.4h0M1308.0 273.6h0M1387.8 342.7h0M1343.8 320.7h0M1323.6 320.0h0M1342.6 288.7h0M1356.4 322.8h0M1362.9 320.7h0M1346.8 299.7h0M1289.4 247.2h0M1302.3 329.2h0M1314.2 336.9h0M1337.6 347.0h0M1350.3 291.6h0M1375.2 347.9h0M1308.1 350.8h0M1296.8 282.8h0M1379.7 333.2h0M1352.5 336.6h0M1327.5 293.6h0M1292.4 253.9h0M1306.1 288.0h0M1376.0 351.4h0M1343.9 311.3h0M1286.3 258.6h0M1341.1 287.5h0M1334.3 305.5h0M1371.5 353.5h0M1294.9 271.3h0M1329.6 297.8h0M1389.4 330.4h0M1367.5 358.9h0M1358.9 304.4h0M1330.3 321.1h0M1312.8 277.1h0M1294.7 292.0h0M1318.9 321.4h0M1325.8 290.6h0M1334.4 272.9h0M1380.7 324.1h0M1333.5 280.3h0M1358.3 308.9h0M1303.1 286.0h0M1326.3 352.7h0M1391.2 363.2h0M1304.1 274.8h0M1296.7 310.2h0M1292.6 260.6h0M1284.5 283.4h0M1301.0 286.1h0M1294.0 229.5h0M1303.4 305.9h0M1331.1 350.6h0M1364.7 327.7h0M1377.9 357.7h0M1349.9 333.0h0M1295.7 261.9h0M1378.5 338.2h0M1360.3 351.4h0M1379.4 334.3h0M1370.9 329.9h0M1307.3 306.4h0M1395.1 370.0h0M1374.0 370.3h0M1321.5 279.5h0M1372.7 317.0h0M1332.6 334.1h0M1408.0 341.8h0M1504.5 396.5h0M1570.8 445.2h0M1510.6 433.8h0M1556.9 442.6h0M1425.2 350.5h0M1481.2 392.1h0M1444.2 399.0h0M1561.5 423.5h0M1416.5 345.4h0M1393.8 370.8h0M1486.8 397.1h0M1465.2 369.5h0M1428.1 367.9h0M1558.2 444.1h0M1442.2 358.2h0M1432.3 363.6h0M1512.9 430.5h0M1566.9 452.2h0M1465.7 404.2h0M1528.0 419.6h0M1399.3 348.6h0M1543.4 437.4h0M1487.6 380.7h0M1507.7 410.6h0M1474.5 384.7h0M1392.2 348.5h0M1459.8 379.4h0M1418.7 352.1h0M1422.0 390.8h0M1541.3 409.6h0M1452.6 384.5h0M1540.0 409.6h0M1529.0 435.7h0M1516.4 406.2h0M1476.5 393.4h0M1401.4 366.5h0M1538.6 434.7h0M1394.2 357.5h0M1459.1 389.4h0M1551.2 443.6h0M1527.0 412.0h0M1495.5 394.4h0M1504.3 399.3h0M1559.9 432.5h0M1530.3 413.6h0M1488.3 417.0h0M1457.0 361.5h0M1409.6 391.0h0M1541.2 422.3h0M1534.3 435.8h0M1507.4 404.6h0M1552.5 436.1h0M1394.5 363.7h0M1407.8 390.2h0M1498.9 398.8h0M1571.8 448.7h0M1559.8 435.4h0M1506.4 436.7h0M1408.8 382.3h0M1489.7 414.5h0M1501.9 402.6h0M1531.8 402.4h0M1568.9 455.7h0M1531.0 401.7h0M1483.1 383.4h0M1526.7 434.6h0M1453.8 372.1h0M1474.2 378.6h0M1486.6 373.8h0M1456.6 394.0h0M1568.5 454.5h0M1441.6 368.8h0M1507.1 410.3h0M1431.5 351.3h0M1571.6 434.2h0M1452.7 384.1h0M1499.8 415.2h0M1559.6 443.4h0M1514.2 388.1h0M1495.5 391.3h0M1403.2 377.9h0M1466.3 376.8h0M1470.3 392.0h0M1516.2 416.5h0M1477.7 382.1h0M1438.7 375.8h0M1486.0 373.6h0M1458.2 373.9h0M1538.6 429.5h0M1474.5 399.8h0M1472.3 409.6h0M1519.2 404.6h0M1487.2 402.8h0M1468.5 385.2h0M1404.1 348.0h0M1473.3 376.6h0M1547.2 434.2h0M1566.7 447.0h0M1545.2 421.6h0M1408.6 407.2h0M1550.7 437.2h0M1479.8 402.4h0M1516.1 405.2h0M1503.4 447.3h0M1479.8 370.7h0M1427.7 365.3h0M1454.9 384.7h0M1453.5 400.2h0M1529.7 420.8h0M1416.5 350.7h0M1401.3 383.9h0M1544.6 443.7h0M1510.1 401.6h0M1492.0 393.4h0M1416.1 362.3h0M1412.1 367.2h0M1511.1 385.1h0M1417.0 368.8h0M1545.4 424.0h0M1420.0 375.6h0M1503.1 407.7h0M1432.4 355.9h0M1446.3 399.8h0M1448.5 391.2h0M1393.5 339.5h0M1465.7 369.1h0M1547.4 424.1h0M1480.3 397.5h0M1424.1 389.5h0M1483.9 379.2h0M1560.1 431.5h0M1474.1 397.5h0M1477.4 389.7h0M1530.1 421.0h0M1401.4 356.8h0M1446.5 373.1h0M1461.3 412.0h0M1445.4 393.4h0M1489.2 390.7h0M1531.7 443.3h0M1463.8 415.2h0M1532.7 431.7h0M1470.0 392.5h0M1552.6 431.0h0M1448.7 381.1h0M1470.2 391.2h0M1514.5 428.6h0M1390.7 337.0h0M1551.1 416.7h0M1470.1 379.6h0M1457.0 388.3h0M1410.3 342.9h0M1406.9 358.8h0M1475.5 376.8h0M1538.7 410.9h0M1499.7 402.9h0M1555.8 459.5h0M1569.0 426.8h0M1483.2 396.8h0M1424.5 366.8h0M1561.5 454.7h0M1429.5 371.5h0M1491.7 387.0h0M1426.0 384.2h0M1550.5 444.0h0M1529.4 404.8h0M1485.0 373.1h0M1548.1 424.1h0M1514.2 410.6h0M1504.2 415.0h0M1512.5 397.4h0M1552.1 432.1h0M1462.0 363.5h0M1517.1 402.6h0M1453.9 382.8h0M1511.0 396.4h0M1486.3 392.7h0M1526.3 402.6h0M1489.6 381.5h0M1479.6 395.7h0M1405.7 340.4h0M1398.2 356.7h0M1546.2 452.7h0M1471.6 378.9h0M1567.5 438.9h0M1470.9 374.4h0M1406.3 340.7h0M1525.2 407.8h0M1447.5 358.0h0M1503.1 398.3h0M1396.2 346.3h0M1552.8 420.4h0M1422.8 368.8h0M1456.6 397.6h0M1465.2 397.7h0M1486.2 389.5h0M1560.2 442.8h0M1548.0 418.2h0M1458.2 378.3h0M1457.5 392.3h0M1524.3 427.9h0M1449.8 400.1h0M1431.3 351.2h0M1561.0 468.2h0M1526.1 423.5h0M1463.9 408.9h0M1426.2 369.4h0M1303.4 210.7h0M1300.0 226.0h0M1302.3 240.0h0M1318.5 246.7h0M1333.1 258.4h0M1349.1 264.7h0M1352.9 271.5h0M1342.8 271.5h0M1383.8 278.7h0M1360.4 283.2h0M1371.0 295.8h0M1380.4 299.7h0M1394.6 306.9h0M1398.0 309.8h0M1417.1 309.8h0M1422.8 309.8h0M1381.1 316.6h0M1425.0 318.8h0M1285.4 214.1h0M1323.7 361.7h0M1337.2 363.9h0M1346.2 368.4h0M1362.0 377.4h0M1387.9 379.7h0M1410.4 384.2h0M1403.6 400.0h0M1447.6 404.5h0M1470.1 425.9h0M1485.9 424.7h0M1470.1 338.0h0M1494.9 360.5h0M1491.5 374.1h0M1545.5 383.1h0"/>
<path class="d" stroke="#EF553B" d="M1256.2 413.7h0M1249.4 405.7h0M1243.7 395.6h0M1251.2 348.8h0M1246.7 393.7h0M1249.3 392.8h0M1252.3 448.1h0M1253.7 366.6h0M1253.0 388.0h0M1254.7 368.8h0M1241.0 396.8h0M1255.8 336.4h0M1244.9 401.6h0M1250.0 392.5h0M1247.2 397.9h0M1243.2 389.3h0M1254.3 407.6h0M1243.9 391.4h0M1246.4 427.0h0M1257.4 446.6h0M1254.7 402.8h0M1247.2 351.1h0M1253.7 406.0h0M1249.4 338.8h0M1246.8 363.7h0M1253.3 373.0h0M1245.6 356.2h0M1246.5 392.0h0M1250.7 380.2h0M1243.5 368.1h0M1241.6 404.0h0M1254.6 368.3h0M1260.0 433.3h0M1255.9 412.3h0M1246.0 377.9h0M1246.7 406.0h0M1244.1 369.9h0M1249.5 371.5h0M1255.1 424.8h0M1249.1 340.3h0M1249.4 406.7h0M1251.2 353.9h0M1242.9 372.3h0M1248.1 384.9h0M1251.5 417.7h0M1250.2 366.2h0M1253.6 395.2h0M1257.9 411.3h0M1241.0 447.5h0M1258.6 388.4h0M1252.2 414.6h0M1245.6 407.9h0M1248.1 393.0h0M1249.6 380.2h0M1255.3 403.0h0M1247.8 413.8h0M1249.6 348.4h0M1242.3 379.1h0M1257.7 402.3h0M1252.1 400.9h0M1247.0 402.0h0M1242.3 444.4h0M1249.5 425.4h0M1254.5 350.3h0M1260.2 442.7h0M1247.6 368.2h0M1247.4 364.1h0M1244.3 426.3h0M1252.2 380.4h0M1245.5 336.0h0M1252.9 411.3h0M1251.5 405.7h0M1252.0 408.6h0M1244.4 345.2h0M1256.1 417.3h0M1248.6 370.8h0M1243.1 420.4h0M1249.5 350.4h0M1250.7 359.6h0M1250.1 365.5h0M1255.0 425.7h0M1256.4 398.6h0M1249.3 372.4h0M1256.5 435.7h0M1260.1 397.7h0M1249.7 416.0h0M1256.8 401.9h0M1248.5 387.5h0M1252.8 395.3h0M1253.3 405.1h0M1246.5 427.8h0M1246.7 410.5h0M1252.9 419.7h0M1249.0 354.5h0M1248.6 401.1h0M1256.6 395.8h0M1251.8 405.1h0M1251.1 357.9h0M1250.7 395.4h0M1248.2 356.0h0M1255.3 393.5h0M1247.1 388.2h0M1243.1 384.9h0M1248.6 400.8h0M1260.0 374.3h0M1245.0 389.9h0M1256.9 413.4h0M1248.9 440.0h0M1253.3 403.9h0M1252.4 417.3h0M1244.0 409.7h0M1248.6 445.1h0M1245.0 369.8h0M1252.9 413.2h0M1254.4 400.5h0M1252.3 442.4h0M1244.2 369.5h0M1246.5 435.7h0M1249.5 399.8h0M1259.4 412.4h0M1246.9 404.1h0M1245.7 399.9h0M1255.2 404.1h0M1246.3 377.1h0M1244.1 401.4h0M1249.1 388.7h0M1254.4 372.2h0M1250.7 370.8h0M1247.8 433.4h0M1257.8 366.4h0M1257.5 356.1h0M1243.4 412.3h0M1244.8 438.5h0M1248.6 348.3h0M1250.8 358.2h0M1249.4 356.2h0M1250.3 403.1h0M1252.3 408.8h0M1242.7 436.7h0M1251.5 388.7h0M1256.7 382.4h0M1250.9 370.9h0M1247.6 427.4h0M1253.0 371.0h0M1248.1 363.4h0M1242.7 383.0h0M1247.8 389.5h0M1254.1 403.5h0M1251.7 369.9h0M1253.7 447.5h0M1247.1 353.7h0M1253.0 395.1h0M1257.8 357.5h0M1248.1 381.2h0M1247.2 350.1h0M1256.7 381.1h0M1250.5 399.2h0M1243.5 395.9h0M1247.6 346.5h0M1257.2 430.2h0M1251.9 384.4h0M1260.2 392.7h0M1253.4 437.8h0M1251.4 357.6h0M1255.8 403.9h0M1246.6 368.3h0M1255.8 396.5h0M1249.5 377.1h0M1248.6 387.9h0M1252.1 393.8h0M1247.4 343.4h0M1243.8 382.2h0M1245.0 419.2h0M1252.8 387.2h0M1251.6 418.2h0M1250.4 411.8h0M1253.9 398.2h0M1245.1 378.2h0M1247.7 392.7h0M1258.9 359.7h0M1244.8 412.0h0M1257.0 400.8h0M1248.5 429.1h0M1252.9 417.9h0M1251.3 408.8h0M1248.6 396.5h0M1250.6 418.1h0M1255.3 435.4h0M1246.2 381.1h0M1244.8 348.8h0M1254.7 345.7h0M1247.8 422.9h0M1249.1 405.5h0M1249.0 407.8h0M1247.7 371.8h0M1249.5 339.3h0M1247.5 352.8h0M1242.6 371.6h0M1246.9 367.8h0M1251.3 442.1h0M1259.5 348.6h0M1247.0 369.9h0M1257.4 365.6h0M1247.5 392.6h0M1252.6 414.1h0M1248.6 363.9h0M1254.1 376.2h0M1250.8 403.2h0M1247.9 354.6h0M1241.6 422.0h0M1255.4 356.8h0M1241.8 369.0h0M1246.7 375.4h0M1259.7 415.8h0M1251.3 401.7h0M1250.5 357.0h0M1250.7 353.6h0M1251.4 367.2h0M1248.2 442.6h0M1251.9 432.8h0M1249.1 394.9h0M1248.2 367.0h0M1252.6 375.2h0M1253.5 407.2h0M1252.0 408.4h0M1255.2 402.9h0M1260.3 367.1h0M1259.5 406.9h0M1250.6 384.9h0M1244.1 418.9h0M1256.3 398.4h0M1250.7 415.4h0M1254.3 401.0h0M1248.1 374.7h0M1254.8 428.7h0M1244.0 356.2h0M1251.0 412.1h0M1242.8 375.7h0M1248.7 378.2h0M1257.1 399.1h0M1255.4 373.1h0M1257.6 356.8h0M1244.0 359.9h0M1252.2 353.4h0M1257.3 391.0h0M1249.2 400.5h0M1252.3 387.4h0M1249.0 339.4h0M1248.5 394.5h0M1257.7 421.1h0M1246.0 353.0h0M1250.4 360.8h0M1253.4 420.0h0M1250.5 384.7h0M1254.8 425.4h0M1256.4 379.2h0M1243.8 343.4h0M1249.1 388.9h0M1248.4 388.4h0M1252.8 399.8h0M1249.2 362.5h0M1247.9 375.2h0M1254.0 372.1h0M1246.9 441.9h0M1246.6 353.5h0M1247.1 397.7h0M1243.6 402.3h0M1243.6 418.6h0M1247.6 390.1h0M1254.1 369.1h0M1247.5 393.7h0M1245.7 342.0h0M1249.6 339.9h0M1245.9 441.4h0M1258.5 417.4h0M1250.4 450.3h0M1241.0 406.3h0M1247.1 342.5h0M1245.2 358.0h0M1245.4 400.4h0M1247.3 363.1h0M1246.9 359.3h0M1246.5 355.0h0M1243.2 365.4h0M1252.1 403.9h0M1245.5 366.8h0M1244.5 431.2h0M1254.4 444.0h0M1256.6 388.0h0M1244.0 424.2h0M1249.2 425.9h0M1253.1 397.0h0M1255.0 384.4h0M1247.6 431.8h0M1251.6 411.6h0M1247.7 384.3h0M1255.0 373.9h0M1249.7 390.3h0M1252.3 420.6h0M1248.9 412.5h0M1245.3 371.0h0M1247.4 385.3h0M1251.9 395.6h0M1243.2 376.9h0M1258.3 387.4h0M1255.0 358.6h0M1247.7 364.1h0M1253.3 399.5h0M1251.0 397.9h0M1249.0 380.4h0M1254.9 384.8h0M1250.6 412.9h0M1258.1 399.3h0M1251.8 375.0h0M1242.3 412.4h0M1249.2 425.7h0M1250.1 390.7h0M1247.0 406.5h0M1243.5 361.8h0M1260.7 383.8h0M1249.7 408.8h0M1249.9 390.4h0M1241.3 364.1h0M1253.1 374.8h0M1249.5 383.0h0M1256.0 381.7h0M1259.2 392.2h0M1246.6 441.5h0M1246.2 397.7h0M1256.4 378.4h0M1255.9 412.7h0M1251.8 411.3h0M1254.0 356.2h0M1248.4 371.0h0M1250.0 355.4h0M1250.1 401.2h0M1254.1 418.2h0M1254.3 383.4h0M1245.2 430.2h0M1247.2 372.2h0M1251.7 380.3h0M1254.0 388.4h0M1250.2 396.5h0M1247.7 443.8h0M1252.4 355.0h0M1250.8 408.7h0M1244.8 393.1h0M1248.4 428.5h0M1248.1 347.9h0M1253.7 353.5h0M1243.1 445.3h0M1245.8 431.0h0M1248.0 425.3h0M1250.3 386.8h0M1249.2 424.7h0M1255.8 391.1h0M1254.3 355.9h0M1257.1 386.3h0M1259.4 382.2h0M1253.2 357.4h0M1244.9 372.3h0M1248.2 368.4h0M1258.2 407.4h0M1257.0 421.8h0M1253.8 426.4h0M1245.7 425.8h0M1250.7 356.5h0M1251.7 409.0h0M1255.1 416.7h0M1254.8 403.9h0M1245.4 360.5h0M1256.5 395.7h0M1247.1 364.0h0M1251.6 419.3h0M1253.7 343.4h0M1253.9 408.1h0M1252.9 376.7h0M1247.2 348.1h0M1249.4 376.1h0M1255.2 385.7h0M1247.7 417.2h0M1243.8 416.1h0M1250.2 430.2h0M1245.3 414.7h0M1250.1 375.9h0M1244.4 376.5h0M1247.7 395.6h0M1248.1 379.4h0M1255.2 337.6h0M1245.4 414.8h0M1243.7 394.1h0M1250.7 374.1h0M1254.5 423.8h0M1245.2 395.2h0M1252.8 406.0h0M1250.1 392.6h0M1252.8 425.8h0M1250.6 406.9h0M1248.7 375.3h0M1251.2 387.1h0M1278.8 432.7h0M1277.1 404.5h0M1296.0 425.6h0M1262.4 354.0h0M1282.4 402.0h0M1293.7 403.5h0M1263.8 355.8h0M1276.4 362.8h0M1289.8 364.2h0M1273.1 413.1h0M1263.0 392.0h0M1283.2 367.0h0M1277.9 404.6h0M1274.3 368.4h0M1279.5 389.4h0M1288.1 384.0h0M1271.3 363.3h0M1291.6 411.3h0M1284.9 387.4h0M1277.2 381.0h0M1295.0 425.9h0M1285.6 410.2h0M1278.7 392.1h0M1296.0 353.4h0M1261.5 385.5h0M1262.6 355.8h0M1261.6 345.3h0M1276.8 396.2h0M1281.2 393.4h0M1266.8 338.1h0M1294.2 371.7h0M1274.1 386.7h0M1260.8 344.1h0M1284.1 414.7h0M1270.6 366.3h0M1276.2 396.5h0M1289.3 403.1h0M1275.8 360.9h0M1289.4 395.1h0M1269.9 389.0h0M1285.4 396.6h0M1276.0 374.3h0M1278.1 411.7h0M1268.8 404.9h0M1285.7 426.8h0M1274.1 414.3h0M1276.9 349.9h0M1278.9 370.9h0M1284.4 397.4h0M1296.0 412.5h0M1285.0 367.4h0M1261.3 386.3h0M1284.7 394.1h0M1279.3 383.1h0M1285.2 412.6h0M1268.7 359.6h0M1288.5 399.4h0M1256.0 364.9h0M1269.3 397.3h0M1278.3 361.4h0M1278.2 378.4h0M1290.7 410.5h0M1269.8 360.5h0M1274.0 387.9h0M1288.0 402.9h0M1278.9 383.0h0M1262.2 378.8h0M1286.0 386.2h0M1264.3 362.4h0M1289.5 406.0h0M1283.5 405.1h0M1292.1 431.9h0M1288.1 393.4h0M1275.4 414.8h0M1280.9 372.7h0M1280.1 398.7h0M1271.1 361.7h0M1279.4 392.4h0M1272.2 377.6h0M1283.5 411.3h0M1279.2 381.5h0M1271.1 378.0h0M1290.7 403.5h0M1275.1 367.1h0M1266.6 374.7h0M1288.6 419.2h0M1279.1 369.4h0M1264.0 375.7h0M1286.5 416.0h0M1277.1 396.6h0M1282.0 395.0h0M1278.0 392.8h0M1271.9 338.9h0M1272.1 348.5h0M1256.0 364.1h0M1274.2 363.4h0M1286.2 403.6h0M1281.8 374.3h0M1295.9 423.4h0M1280.8 385.3h0M1292.3 402.1h0M1281.8 368.5h0M1271.0 370.2h0M1274.5 397.3h0M1293.4 409.0h0M1280.5 368.6h0M1270.2 419.8h0M1268.0 379.6h0M1296.0 427.2h0M1272.9 353.6h0M1261.8 376.8h0M1285.2 403.1h0M1286.0 384.1h0M1280.5 370.8h0M1281.1 403.0h0M1281.4 410.9h0M1271.5 375.4h0M1277.8 406.2h0M1278.1 374.7h0M1295.1 365.2h0M1296.0 419.8h0M1273.7 371.2h0M1263.1 373.1h0M1281.3 406.1h0M1270.6 360.2h0M1271.0 361.2h0M1262.7 379.1h0M1277.9 388.3h0M1277.5 410.5h0M1277.5 381.0h0M1261.7 368.8h0M1271.6 352.2h0M1266.2 377.5h0M1268.6 373.8h0M1278.4 415.0h0M1265.0 343.6h0M1264.1 339.2h0M1263.5 336.8h0M1271.6 379.6h0M1274.4 397.3h0M1281.7 428.3h0M1266.6 343.2h0M1294.6 389.8h0M1282.5 369.5h0M1281.5 428.3h0M1268.3 394.8h0M1295.5 425.7h0M1277.7 385.0h0M1286.6 413.8h0M1289.6 395.1h0M1258.6 368.8h0M1277.8 410.4h0M1277.9 377.5h0M1289.1 382.8h0M1270.8 353.2h0M1281.4 399.5h0M1285.8 426.1h0M1279.2 393.5h0M1282.2 400.2h0M1266.7 353.1h0M1267.8 364.7h0M1271.7 370.0h0M1281.0 374.4h0M1289.2 392.8h0M1269.4 337.0h0M1273.0 372.2h0M1288.9 388.8h0M1281.9 381.8h0M1282.6 377.8h0M1279.2 396.9h0M1277.0 398.3h0M1275.7 353.5h0M1269.6 350.1h0M1290.7 400.1h0M1274.8 406.7h0M1273.5 349.4h0M1281.7 403.2h0M1262.0 348.4h0M1274.1 380.9h0M1275.9 419.1h0M1266.3 342.1h0M1275.7 385.1h0M1296.0 379.5h0M1263.2 355.2h0M1287.4 405.4h0M1269.1 360.3h0M1277.4 367.5h0M1269.2 355.9h0M1273.5 396.7h0M1292.8 399.9h0M1294.5 421.2h0M1262.0 378.6h0M1272.3 363.1h0M1282.8 424.7h0M1261.3 368.6h0M1282.9 403.1h0M1290.7 427.9h0M1282.5 406.0h0M1272.1 336.6h0M1287.1 357.1h0M1269.9 364.0h0M1292.8 407.2h0M1292.0 364.1h0M1257.6 405.3h0M1277.1 390.6h0M1290.1 389.1h0M1280.6 384.2h0M1268.7 364.7h0M1296.0 421.1h0M1286.0 388.0h0M1272.4 424.8h0M1279.9 360.4h0M1267.3 339.5h0M1287.0 421.9h0M1261.8 353.4h0M1283.0 387.5h0M1277.2 374.5h0M1269.1 380.3h0M1273.2 375.5h0M1283.9 355.1h0M1284.3 352.3h0M1266.4 389.9h0M1278.3 365.2h0M1284.5 430.1h0M1273.9 386.3h0M1287.4 421.5h0M1288.0 371.4h0M1286.7 405.4h0M1266.6 368.1h0M1273.2 358.9h0M1280.3 377.5h0M1286.1 378.7h0M1270.1 348.4h0M1275.5 366.4h0M1283.6 402.9h0M1282.4 379.5h0M1262.8 387.7h0M1293.6 404.5h0M1279.8 380.1h0M1274.1 364.7h0M1261.4 347.5h0M1279.7 381.9h0M1296.0 398.3h0M1273.9 389.3h0M1270.4 415.0h0M1279.3 372.6h0M1279.5 391.2h0M1272.9 361.3h0M1268.1 399.2h0M1278.8 371.1h0M1286.6 400.8h0M1256.0 367.1h0M1270.9 342.2h0M1279.3 359.3h0M1268.6 375.5h0M1256.2 365.1h0M1277.0 375.9h0M1296.0 398.2h0M1280.7 383.0h0M1296.0 396.0h0M1279.8 379.3h0M1272.2 365.1h0M1266.0 357.1h0M1292.8 399.1h0M1272.4 412.8h0M1267.3 356.8h0M1269.1 357.8h0M1275.6 360.3h0M1279.9 392.3h0M1265.8 385.8h0M1266.6 377.0h0M1291.9 381.8h0M1269.6 338.6h0M1277.1 379.8h0M1273.8 378.1h0M1282.7 396.1h0M1267.6 364.1h0M1284.3 369.0h0M1286.1 388.8h0M1274.4 367.1h0M1280.5 358.5h0M1276.7 384.7h0M1269.2 358.3h0M1293.4 419.8h0M1277.7 386.9h0M1272.0 388.7h0M1296.0 410.9h0M1283.2 418.3h0M1278.1 365.8h0M1291.9 390.1h0M1264.5 370.3h0M1281.4 414.5h0M1284.8 377.4h0M1276.8 391.1h0M1269.6 361.1h0M1276.8 384.4h0M1276.0 386.9h0M1280.9 412.2h0M1283.4 394.1h0M1284.8 414.5h0M1285.4 348.8h0M1284.6 403.6h0M1296.0 405.3h0M1276.2 369.2h0M1293.4 387.7h0M1274.2 370.9h0M1296.0 425.5h0M1278.0 377.4h0M1295.3 402.5h0M1273.2 393.0h0M1275.1 388.8h0M1274.6 350.5h0M1266.0 364.2h0M1290.8 386.5h0M1276.0 381.5h0M1281.8 380.8h0M1290.7 404.3h0M1283.3 385.0h0M1275.6 402.9h0M1267.3 386.1h0M1265.9 393.8h0M1267.6 369.7h0M1263.6 343.6h0M1275.8 406.4h0M1286.4 406.8h0M1270.0 401.0h0M1260.0 362.1h0M1285.3 413.2h0M1293.5 386.3h0M1271.0 388.2h0M1273.3 365.7h0M1274.8 370.6h0M1283.7 366.8h0M1287.1 393.5h0M1270.5 365.3h0M1285.5 383.0h0M1275.5 369.0h0M1277.8 349.4h0M1293.4 385.1h0M1260.2 387.1h0M1266.3 385.7h0M1272.0 411.3h0M1267.4 383.4h0M1273.6 358.1h0M1279.0 384.4h0M1296.0 403.5h0M1290.4 387.1h0M1286.7 415.7h0M1270.7 353.2h0M1289.2 412.6h0M1280.7 380.2h0M1269.3 360.7h0M1281.1 371.0h0M1268.2 356.7h0M1277.2 384.5h0M1270.6 354.3h0M1276.6 402.8h0M1269.5 369.4h0M1275.9 371.6h0M1280.9 404.6h0M1264.0 366.4h0M1293.7 393.4h0M1283.4 340.5h0M1287.5 363.6h0M1286.6 378.9h0M1272.9 363.7h0M1264.4 356.8h0M1272.6 400.7h0M1259.9 367.5h0M1270.6 361.9h0M1260.0 367.5h0M1275.1 366.0h0M1284.1 404.5h0M1274.7 391.3h0M1265.1 343.5h0M1284.2 419.1h0M1288.1 412.2h0M1273.3 375.9h0M1286.5 357.1h0M1270.3 384.0h0M1269.4 368.2h0M1276.3 397.2h0M1275.7 382.4h0M1286.1 417.2h0M1273.5 340.3h0M1271.6 367.1h0M1292.3 390.9h0M1259.4 370.3h0M1277.5 372.2h0M1271.8 352.8h0M1265.2 378.6h0M1269.2 401.8h0M1274.2 362.7h0M1284.6 371.1h0M1280.4 381.4h0M1285.5 426.9h0M1282.0 419.7h0M1281.3 423.6h0M1281.9 422.8h0M1281.6 377.7h0"/>
<path class="d" stroke="#00CC96" d="M1237.4 280.5h0M1235.7 294.9h0M1231.7 294.0h0M1235.8 295.3h0M1237.3 282.4h0M1235.0 259.4h0M1232.2 306.6h0M1234.3 306.9h0M1229.8 299.7h0M1230.5 297.4h0M1233.6 316.0h0M1232.2 311.6h0M1232.3 305.9h0M1231.1 279.3h0M1235.3 312.3h0M1237.4 274.4h0M1230.8 299.8h0M1234.7 271.9h0M1232.5 288.7h0M1234.7 307.8h0M1237.5 285.7h0M1234.7 311.1h0M1233.5 282.4h0M1230.5 288.8h0M1237.5 306.4h0M1239.2 291.2h0M1235.8 269.4h0M1233.3 283.6h0M1229.8 266.9h0M1239.4 260.5h0M1235.6 298.0h0M1231.4 317.3h0M1232.4 284.4h0M1234.1 274.7h0M1232.9 287.5h0M1237.6 287.7h0M1235.6 314.6h0M1237.0 289.0h0M1234.3 275.4h0M1236.3 267.9h0M1233.5 290.5h0M1229.8 260.6h0M1235.4 306.2h0M1233.7 287.2h0M1231.3 277.8h0M1230.3 310.1h0M1237.8 294.0h0M1231.2 297.1h0M1235.0 291.6h0M1235.8 269.0h0M1234.6 304.0h0M1237.4 315.9h0M1233.5 293.9h0M1237.3 289.4h0M1233.6 285.9h0M1233.4 300.0h0M1231.8 287.8h0M1234.7 283.6h0M1234.4 315.8h0M1231.4 272.3h0M1235.2 283.5h0M1234.6 283.2h0M1230.5 275.5h0M1236.4 281.1h0M1234.5 319.8h0M1233.3 274.8h0M1235.0 259.8h0M1231.3 277.4h0M1231.3 265.9h0M1233.5 316.6h0M1230.9 300.7h0M1238.7 269.8h0M1234.7 287.4h0M1236.2 285.1h0M1239.6 294.3h0M1238.5 296.8h0M1231.2 302.2h0M1239.2 296.0h0M1232.6 291.4h0M1233.3 274.0h0M1234.6 293.2h0M1234.2 295.6h0M1233.9 264.4h0M1235.0 293.0h0M1238.9 266.0h0M1229.8 289.8h0M1234.9 301.8h0M1234.3 310.2h0M1235.2 280.0h0M1240.1 261.7h0M1234.1 273.2h0M1235.4 286.0h0M1239.8 289.0h0M1240.3 300.7h0M1233.8 287.6h0M1234.5 312.6h0M1235.1 278.4h0M1235.9 300.7h0M1233.5 304.2h0M1232.5 299.1h0M1239.0 302.1h0M1238.9 269.3h0M1234.1 309.1h0M1232.1 281.0h0M1232.0 287.7h0M1230.3 270.9h0M1230.1 298.8h0M1233.1 282.4h0M1231.7 277.6h0M1234.9 305.2h0M1232.4 276.0h0M1231.0 298.7h0M1232.8 295.1h0M1235.2 302.2h0M1233.2 292.4h0M1238.4 267.0h0M1232.6 294.4h0M1233.5 298.9h0M1231.1 309.3h0M1234.9 311.4h0M1237.9 280.9h0M1232.9 269.6h0M1235.9 303.8h0M1231.0 302.5h0M1232.0 302.7h0M1233.0 303.5h0M1231.1 299.0h0M1236.3 289.5h0M1236.7 279.9h0M1237.8 306.1h0M1231.0 291.9h0M1232.1 313.2h0M1233.8 282.8h0M1236.1 286.3h0M1229.9 275.9h0M1233.1 305.1h0M1237.2 275.2h0M1234.3 275.4h0M1233.6 277.8h0M1230.3 291.6h0M1232.9 284.6h0M1236.2 317.4h0M1237.2 298.3h0M1235.2 311.4h0M1232.7 313.0h0M1230.9 310.5h0M1239.8 282.3h0M1236.0 300.9h0M1230.4 290.0h0M1230.6 307.6h0M1234.5 280.3h0M1233.2 305.4h0M1235.5 281.9h0M1229.6 307.1h0M1234.4 316.8h0M1235.2 316.9h0M1231.8 283.9h0M1235.0 318.9h0M1236.0 295.6h0M1235.2 263.5h0M1231.7 292.5h0M1236.6 268.2h0M1232.8 291.4h0M1234.5 277.9h0M1234.0 317.9h0M1233.8 309.7h0M1237.2 313.1h0M1235.4 301.8h0M1234.2 290.7h0M1235.8 287.9h0M1232.5 268.9h0M1233.4 276.5h0M1235.4 308.5h0M1231.4 284.2h0M1231.9 300.3h0M1232.8 274.5h0M1232.1 290.8h0M1231.3 303.0h0M1234.6 314.8h0M1236.3 289.6h0M1235.3 283.7h0M1237.1 307.7h0M1235.4 309.5h0M1238.5 313.1h0M1238.9 295.5h0M1232.3 283.7h0M1231.2 300.6h0M1231.9 294.7h0M1232.7 315.6h0M1236.1 288.4h0M1235.5 286.0h0M1234.5 272.1h0M1231.7 304.7h0M1232.5 289.5h0M1233.2 305.4h0M1234.5 280.0h0M1234.6 304.0h0M1235.4 295.2h0M1231.5 298.0h0M1238.4 312.1h0M1236.3 277.5h0M1236.1 289.6h0M1236.4 315.2h0M1234.3 317.5h0M1234.5 307.3h0M1232.8 270.6h0M1229.5 297.0h0M1238.0 284.8h0M1230.2 286.5h0M1236.2 262.0h0M1235.0 312.6h0M1234.0 309.1h0M1238.6 263.7h0M1232.4 285.7h0M1230.2 293.9h0M1235.0 281.1h0M1237.9 302.8h0M1232.1 284.9h0M1237.2 264.9h0M1235.7 284.3h0M1233.9 301.7h0M1234.5 274.2h0M1234.3 307.7h0M1231.9 313.7h0M1234.3 304.8h0M1235.2 303.9h0M1231.5 290.8h0M1235.9 303.5h0M1231.7 278.0h0M1235.7 278.5h0M1231.1 313.2h0M1235.1 271.1h0M1233.1 288.0h0M1232.8 278.0h0M1233.7 268.7h0M1235.0 285.7h0M1237.9 308.1h0M1237.1 293.4h0M1234.9 287.3h0M1236.6 269.0h0M1233.9 292.6h0M1239.2 308.5h0M1232.4 295.8h0M1233.3 308.8h0M1237.0 274.5h0M1232.6 278.5h0M1233.3 265.1h0M1230.8 260.4h0M1234.6 309.5h0M1235.0 266.5h0M1239.2 313.9h0M1236.9 309.9h0M1229.6 285.0h0M1236.4 264.2h0M1235.1 280.1h0M1234.2 277.6h0M1230.2 278.8h0M1239.9 276.4h0M1239.6 292.9h0M1234.9 286.1h0M1231.3 290.8h0M1230.2 291.4h0M1230.3 316.3h0M1236.8 292.2h0M1237.6 290.3h0M1233.3 288.7h0M1235.0 311.1h0M1236.4 305.8h0M1236.3 294.1h0M1233.4 289.1h0M1235.1 303.4h0M1234.4 312.8h0M1234.0 283.3h0M1234.3 300.5h0M1230.7 278.6h0M1234.9 301.5h0M1229.5 260.4h0M1237.6 261.8h0M1232.7 297.0h0M1230.2 285.5h0M1236.0 298.9h0M1236.1 276.9h0M1234.3 288.0h0M1229.7 299.5h0M1235.7 314.0h0M1234.8 307.5h0M1234.9 298.7h0M1235.8 271.0h0M1231.1 313.0h0M1237.5 280.5h0M1231.9 311.8h0M1234.1 318.7h0M1231.3 263.2h0M1230.0 288.3h0M1231.5 313.7h0M1230.9 311.0h0M1232.6 315.8h0M1238.9 309.0h0M1234.9 276.5h0M1232.1 288.5h0M1235.3 306.0h0M1232.1 311.3h0M1237.6 295.2h0M1236.5 277.9h0M1232.8 267.2h0M1233.8 294.0h0M1234.2 289.8h0M1230.7 282.5h0M1230.3 304.4h0M1233.5 306.9h0M1231.1 294.9h0M1233.9 278.7h0M1236.7 279.7h0M1233.3 304.8h0M1235.9 279.7h0M1239.7 287.7h0M1232.6 270.2h0M1238.6 281.2h0M1231.3 308.9h0M1230.3 300.9h0M1234.6 275.5h0M1233.5 267.9h0M1238.2 312.9h0M1236.8 292.2h0M1230.9 304.3h0M1233.4 298.4h0M1233.7 294.9h0M1230.0 310.5h0M1235.0 294.0h0M1229.6 289.0h0M1238.7 296.8h0M1232.0 287.4h0M1231.5 285.3h0M1233.3 292.3h0M1231.7 313.7h0M1235.5 272.9h0M1236.7 286.2h0M1236.9 292.9h0M1236.5 301.9h0M1234.6 305.3h0M1234.3 305.7h0M1237.8 268.6h0M1236.0 258.2h0M1234.8 319.6h0M1233.5 310.1h0M1237.6 294.7h0M1236.1 271.6h0M1234.5 303.4h0M1236.1 283.2h0M1235.3 319.8h0M1236.2 294.4h0M1233.9 294.2h0M1231.4 286.4h0M1237.1 309.5h0M1233.9 269.7h0M1239.4 272.9h0M1237.5 283.5h0M1230.4 295.9h0M1236.5 287.5h0M1234.0 273.0h0M1233.9 288.0h0M1233.5 303.7h0M1237.3 298.6h0M1231.4 282.4h0M1235.4 274.5h0M1235.1 304.4h0M1229.9 298.8h0M1229.9 271.5h0M1233.9 302.9h0M1230.4 297.2h0M1237.6 282.7h0M1230.4 298.5h0M1239.2 288.0h0M1236.7 278.5h0M1234.3 313.0h0M1236.0 260.9h0M1234.7 297.4h0M1235.6 283.9h0M1232.1 300.9h0M1235.3 273.5h0M1232.9 284.2h0M1233.8 301.8h0M1232.1 289.1h0M1232.3 289.3h0M1236.7 310.8h0M1233.9 310.9h0M1236.5 285.8h0M1233.0 316.2h0M1233.7 292.0h0M1232.5 291.5h0M1238.2 307.7h0M1239.3 277.7h0M1233.7 261.2h0M1236.9 289.4h0M1229.9 310.1h0M1236.4 286.4h0M1237.3 310.1h0M1239.7 316.8h0M1233.8 285.5h0M1229.6 292.6h0M1263.4 349.1h0M1239.8 333.2h0M1263.0 326.1h0M1294.4 226.5h0M1294.4 247.9h0M1301.1 282.8h0M1230.2 320.0h0M1240.3 339.1h0M1239.2 344.8h0M1256.1 325.6h0M1262.8 356.0h0"/>
<path class="d" stroke="#AB63FA" d="M1565.6 433.0h0M1548.8 463.5h0M1567.2 425.8h0M1558.8 408.8h0M1554.9 413.4h0M1566.1 429.7h0M1556.4 504.2h0M1565.7 435.5h0M1577.1 467.7h0M1554.2 446.4h0M1552.3 463.4h0M1559.5 418.2h0M1565.1 496.9h0M1557.9 466.6h0M1557.6 444.0h0M1577.6 487.2h0M1554.0 407.0h0M1551.3 435.0h0M1560.8 471.6h0M1570.2 513.6h0M1570.2 442.4h0M1564.0 521.9h0M1555.0 500.4h0M1561.5 429.5h0M1569.4 477.6h0M1572.0 498.8h0M1552.3 426.9h0M1562.1 511.1h0M1555.4 406.9h0M1574.2 507.6h0M1562.1 499.6h0M1563.9 517.5h0M1560.1 489.5h0M1574.0 470.0h0M1550.1 406.1h0M1561.7 521.3h0M1550.8 483.1h0M1559.1 489.7h0M1560.3 441.0h0M1559.8 477.6h0M1571.6 430.3h0M1554.0 459.7h0M1561.5 480.1h0M1561.4 416.2h0M1560.7 476.4h0M1559.3 434.6h0M1580.8 441.1h0M1570.8 486.9h0M1554.9 410.4h0M1566.4 441.0h0M1556.5 452.4h0M1567.8 495.6h0M1552.0 457.7h0M1571.1 483.6h0M1562.6 422.8h0M1559.2 408.9h0M1564.2 455.1h0M1565.1 514.3h0M1556.8 478.3h0M1564.7 445.6h0M1568.8 438.8h0M1566.7 506.7h0M1556.2 482.3h0M1560.5 411.1h0M1559.0 527.0h0M1557.9 466.0h0M1556.8 461.1h0M1559.0 472.9h0M1563.1 457.5h0M1569.9 455.4h0M1573.2 458.3h0M1568.0 449.1h0M1557.8 444.3h0M1569.9 497.3h0M1572.3 494.2h0M1557.6 447.4h0M1553.9 456.0h0M1562.8 463.2h0M1572.3 528.2h0M1561.7 497.3h0M1562.2 437.4h0M1567.8 510.3h0M1554.5 428.3h0M1556.1 499.4h0M1563.1 464.1h0M1563.9 420.1h0M1561.4 445.5h0M1558.5 454.1h0M1551.2 497.5h0M1573.8 505.7h0M1553.3 443.7h0M1574.1 497.7h0M1558.0 478.0h0M1573.9 478.4h0M1578.7 483.1h0M1556.6 486.8h0M1567.7 505.4h0M1570.3 447.2h0M1574.8 477.3h0M1561.3 438.5h0M1561.4 403.3h0M1565.0 462.2h0M1555.6 434.6h0M1572.6 458.2h0M1574.9 478.5h0M1563.9 458.4h0M1563.0 466.7h0M1568.8 435.0h0M1574.2 432.4h0M1553.5 493.1h0M1573.1 482.1h0M1581.4 451.2h0M1556.0 418.7h0M1569.0 477.6h0M1564.6 442.9h0M1567.1 489.1h0M1572.8 436.1h0M1550.4 466.2h0M1559.7 472.4h0M1552.3 441.2h0M1561.4 478.5h0M1565.8 413.1h0M1557.5 505.0h0M1560.0 445.7h0M1558.8 445.5h0M1567.5 453.8h0M1561.3 447.7h0M1557.3 435.9h0M1557.5 466.5h0M1562.5 438.7h0M1553.5 449.7h0M1574.0 465.7h0M1565.1 452.9h0M1558.4 432.5h0M1562.6 487.1h0M1567.1 526.8h0M1556.8 439.5h0M1564.3 489.8h0M1559.1 435.7h0M1574.5 450.7h0M1553.4 422.9h0M1575.8 440.2h0M1554.2 434.2h0M1557.2 456.5h0M1553.6 448.7h0M1561.4 430.3h0M1569.8 481.2h0M1566.6 488.4h0M1551.6 402.0h0M1559.4 489.8h0M1567.6 420.3h0M1562.3 449.6h0M1555.8 423.6h0M1571.5 452.0h0M1561.8 498.9h0M1556.0 530.1h0M1556.8 439.6h0M1568.8 510.4h0M1562.5 460.9h0M1563.1 453.1h0M1569.4 453.6h0M1557.3 453.0h0M1552.0 409.3h0M1563.8 458.6h0M1557.3 422.7h0M1563.8 472.9h0M1556.4 416.8h0M1560.7 517.8h0M1553.3 423.1h0M1566.3 450.0h0M1579.2 496.5h0M1553.4 478.8h0M1571.8 502.2h0M1567.9 507.5h0M1558.4 452.0h0M1555.2 443.5h0M1568.5 483.0h0M1560.9 478.9h0M1562.8 519.9h0M1560.4 496.6h0M1580.3 478.7h0M1550.2 451.6h0M1565.9 434.0h0M1576.9 434.7h0M1564.2 435.0h0M1564.0 516.8h0M1565.5 462.7h0M1570.7 452.7h0M1557.9 463.7h0M1564.3 481.1h0M1569.0 487.6h0M1558.4 461.5h0M1568.1 455.0h0M1571.4 435.5h0M1554.1 460.5h0M1563.1 457.3h0M1567.5 440.9h0M1557.9 451.4h0M1570.5 504.7h0M1574.7 489.1h0M1559.3 471.7h0M1565.8 503.0h0M1558.8 466.3h0M1563.3 501.7h0M1568.2 461.7h0M1563.3 511.6h0M1565.7 480.7h0M1560.4 451.7h0M1566.2 421.6h0M1572.2 466.8h0M1558.9 467.1h0M1564.2 425.0h0M1560.3 454.9h0M1576.1 441.8h0M1562.5 471.6h0M1563.3 418.4h0M1576.1 461.6h0M1566.9 527.6h0M1571.1 495.4h0M1566.0 461.4h0M1568.5 514.6h0M1573.9 449.4h0M1570.5 490.7h0M1562.0 472.7h0M1563.0 447.6h0M1564.7 479.3h0M1561.4 433.0h0M1557.0 432.1h0M1558.8 520.5h0M1563.5 440.3h0M1556.5 458.5h0M1561.3 446.8h0M1553.8 436.9h0M1552.7 478.9h0M1559.3 428.0h0M1560.3 427.0h0M1563.7 453.8h0M1573.3 481.1h0M1566.7 511.5h0M1567.0 461.4h0M1561.9 493.9h0M1567.7 509.4h0M1568.9 478.5h0M1552.4 491.3h0M1570.1 455.5h0M1556.9 407.4h0M1550.8 489.2h0M1556.9 423.6h0M1570.4 481.7h0M1570.0 434.2h0M1560.1 422.1h0M1574.8 458.3h0M1563.4 418.9h0M1551.2 465.1h0M1555.0 455.8h0M1567.3 454.9h0M1560.2 514.6h0M1559.0 490.3h0M1566.9 454.2h0M1561.9 490.4h0M1558.4 476.1h0M1552.3 451.1h0M1554.0 416.4h0M1560.4 437.6h0M1568.8 529.5h0M1563.5 464.2h0M1556.2 481.7h0M1559.3 521.1h0M1572.9 437.6h0M1569.9 499.7h0M1550.0 427.1h0M1552.4 462.0h0M1569.7 463.0h0M1576.4 437.1h0M1559.7 440.1h0M1572.5 476.4h0M1550.5 480.6h0M1551.1 431.7h0M1553.9 435.3h0M1568.5 469.2h0M1566.0 451.3h0M1570.4 456.5h0M1549.0 452.3h0M1563.1 402.7h0M1560.7 475.2h0M1566.5 469.9h0M1548.7 481.5h0M1563.9 486.5h0M1560.5 525.1h0M1577.5 448.8h0M1566.1 469.5h0M1571.0 509.4h0M1557.3 449.7h0M1558.9 502.2h0M1565.5 445.7h0M1564.9 447.1h0M1556.0 425.3h0M1568.7 457.8h0M1569.2 525.8h0M1561.1 465.8h0M1559.9 480.5h0M1560.8 502.4h0M1564.4 426.0h0M1563.1 448.4h0M1568.0 456.2h0M1571.7 435.4h0M1561.5 441.1h0M1561.8 451.1h0M1561.6 455.0h0M1577.0 477.5h0M1563.1 444.9h0M1564.7 478.2h0M1561.5 482.5h0M1571.8 455.8h0M1565.8 523.5h0M1552.2 403.0h0M1572.3 460.1h0M1567.6 464.3h0M1570.3 511.1h0M1568.7 458.2h0M1563.6 480.4h0M1555.4 468.1h0M1572.6 450.1h0M1570.5 430.7h0M1556.5 444.5h0M1563.5 476.1h0M1566.5 510.9h0M1558.9 417.0h0M1566.1 510.6h0M1560.8 447.0h0M1558.3 436.1h0M1574.6 445.6h0M1550.8 430.9h0M1564.4 424.5h0M1557.2 464.5h0M1563.3 435.0h0M1561.1 521.1h0M1565.4 480.2h0M1558.6 437.1h0M1565.2 519.8h0M1552.9 427.3h0M1554.7 478.9h0M1563.4 518.1h0M1569.4 481.0h0M1556.9 439.7h0M1580.8 455.2h0M1560.7 468.4h0M1567.8 512.6h0M1548.2 466.5h0M1555.4 483.2h0M1555.4 423.2h0M1553.9 463.8h0M1553.9 505.0h0M1560.2 451.8h0M1556.6 444.7h0M1578.0 448.4h0M1563.5 501.8h0M1566.4 479.4h0M1576.9 475.5h0M1575.2 436.3h0M1555.5 498.3h0M1554.7 446.4h0M1557.3 491.1h0M1576.2 479.5h0M1552.4 441.2h0M1555.2 423.3h0M1550.4 493.7h0M1565.2 515.8h0M1568.4 432.6h0M1555.5 467.7h0M1572.6 498.4h0M1562.1 426.1h0M1556.7 455.0h0M1568.8 492.8h0M1575.0 460.9h0M1571.9 433.6h0M1568.4 494.1h0M1561.5 401.9h0M1564.0 495.4h0M1566.7 459.5h0M1579.5 461.0h0M1562.5 437.0h0M1557.0 452.4h0M1554.5 497.5h0M1559.5 469.7h0M1550.3 500.1h0M1555.9 481.3h0M1554.1 447.7h0M1562.4 451.5h0M1552.1 462.6h0M1563.0 445.3h0M1564.0 509.6h0M1564.0 420.8h0M1568.5 520.6h0M1575.7 436.7h0M1560.4 430.0h0M1552.1 459.9h0M1562.3 416.0h0M1565.8 518.7h0M1562.1 517.9h0M1568.4 510.7h0M1572.6 522.3h0M1566.5 504.5h0M1560.5 484.2h0M1564.9 436.0h0M1556.2 490.9h0M1581.4 451.2h0M1553.7 445.4h0M1555.4 428.9h0M1573.0 481.0h0M1562.7 499.1h0M1554.3 423.2h0M1572.3 474.0h0M1574.2 476.7h0M1550.1 457.1h0M1569.8 454.0h0M1571.0 502.2h0M1575.3 506.8h0M1568.3 486.6h0M1570.7 485.5h0M1565.1 487.5h0M1570.4 440.8h0M1579.2 458.7h0M1570.4 462.4h0M1558.1 428.9h0M1563.6 488.7h0M1572.6 526.6h0M1553.4 453.3h0M1559.0 444.7h0M1558.1 433.1h0M1575.6 484.8h0M1556.6 458.5h0M1561.2 501.4h0M1560.4 423.1h0M1569.1 466.6h0M1569.5 440.2h0M1554.3 470.1h0M1554.3 453.6h0M1551.8 489.7h0M1574.1 463.0h0M1562.0 466.9h0M1565.8 458.2h0M1561.8 428.2h0M1551.4 462.2h0M1550.0 488.2h0M1559.2 519.0h0M1581.0 468.6h0M1560.8 442.6h0M1567.6 501.9h0M1555.4 454.1h0M1565.0 453.1h0M1550.6 460.9h0M1560.0 482.5h0M1561.4 419.3h0M1572.8 465.2h0M1561.1 459.5h0M1569.9 446.3h0M1565.3 519.4h0M1558.3 406.9h0M1560.6 460.2h0M1567.5 468.2h0M1573.7 468.5h0M1564.1 512.6h0M1561.2 449.7h0M1567.0 431.1h0M1561.1 412.5h0M1551.7 440.6h0M1573.6 475.4h0M1550.3 451.5h0M1569.2 528.2h0M1559.1 408.8h0M1560.0 473.0h0M1558.2 471.9h0M1565.6 465.7h0M1560.7 483.7h0M1549.3 453.2h0M1573.3 479.3h0M1551.0 453.5h0M1562.6 445.3h0M1559.0 430.4h0M1549.7 480.3h0M1554.8 509.9h0M1556.9 465.7h0M1548.1 450.7h0M1557.6 461.5h0M1558.9 455.9h0M1545.0 445.8h0M1561.5 464.9h0M1543.4 427.6h0M1545.1 435.4h0M1541.6 465.0h0M1545.1 484.2h0M1549.7 472.5h0M1549.0 450.8h0M1542.3 489.0h0M1551.1 467.1h0M1558.2 505.7h0M1555.2 472.3h0M1552.8 458.2h0M1543.0 425.4h0M1543.3 493.2h0M1562.7 485.4h0M1546.7 496.0h0M1538.8 443.4h0M1555.2 428.8h0M1562.6 495.9h0M1531.4 458.3h0M1562.6 476.2h0M1536.6 423.5h0M1554.8 496.9h0M1547.0 488.2h0M1540.2 467.6h0M1536.9 457.9h0M1536.2 475.1h0M1533.9 425.1h0M1542.6 419.2h0M1556.2 483.0h0M1543.7 455.5h0M1543.8 470.2h0M1539.4 478.5h0M1546.1 467.7h0M1562.5 491.3h0M1538.9 454.0h0M1546.1 454.4h0M1556.2 438.1h0M1541.3 463.6h0M1551.3 516.4h0M1544.5 477.7h0M1544.2 455.7h0M1544.9 425.5h0M1543.7 456.1h0M1553.6 437.1h0M1530.6 468.5h0M1533.5 427.5h0M1541.4 478.7h0M1531.0 451.8h0M1536.7 441.2h0M1534.1 466.6h0M1544.8 445.1h0M1529.3 457.0h0M1543.0 437.7h0M1539.5 470.9h0M1556.0 411.7h0M1530.1 455.3h0M1529.5 473.6h0M1530.2 482.0h0M1534.6 473.1h0M1536.7 493.9h0M1551.5 464.9h0M1537.5 443.8h0M1543.4 405.9h0M1544.1 457.1h0M1550.9 410.7h0M1531.6 417.2h0M1537.3 476.8h0M1545.1 408.3h0M1558.7 459.5h0M1538.7 481.6h0M1538.0 490.1h0M1552.5 464.1h0M1546.2 419.1h0M1545.3 430.3h0M1563.2 497.2h0M1538.1 501.4h0M1552.8 445.8h0M1541.0 481.7h0M1552.7 478.4h0M1548.8 448.1h0M1559.9 486.5h0M1547.8 433.0h0M1437.2 418.8h0M1526.5 480.9h0M1502.0 447.8h0M1508.0 506.4h0M1532.6 507.7h0M1468.4 467.2h0M1484.7 449.0h0M1513.3 470.4h0M1537.2 471.4h0M1511.3 495.1h0M1523.8 431.8h0M1454.5 452.2h0M1420.6 448.9h0M1521.9 481.8h0M1519.6 487.7h0M1524.6 465.0h0M1511.5 483.8h0M1492.0 439.4h0M1494.8 490.6h0M1484.8 471.7h0M1429.3 446.6h0M1537.1 501.3h0M1485.7 448.0h0M1351.6 392.4h0M1360.4 442.7h0M1418.0 448.4h0M1387.0 431.1h0M1387.0 423.5h0M1355.2 400.0h0M1364.2 402.2h0M1332.7 414.6h0M1357.5 416.9h0M1373.2 415.7h0M1369.8 427.0h0M1394.6 418.0h0M1413.8 420.2h0M1339.4 432.6h0M1330.4 443.9h0M1337.2 446.1h0M1342.8 455.2h0M1355.2 443.9h0M1374.3 451.8h0M1391.2 431.5h0M1384.5 438.3h0M1387.9 442.8h0M1398.0 455.2h0M1402.5 464.2h0M1405.9 447.3h0M1410.4 446.1h0M1423.9 434.9h0M1426.2 449.5h0M1431.8 448.4h0M1438.5 437.1h0M1440.8 441.6h0M1446.4 423.6h0M1440.8 423.6h0M1452.1 442.8h0M1440.8 455.2h0M1431.8 457.4h0M1438.5 464.2h0M1445.3 470.9h0M1448.7 475.4h0M1457.7 467.5h0M1462.2 470.9h0M1466.7 459.7h0M1469.0 447.3h0M1473.5 437.1h0M1483.6 442.8h0M1476.8 456.3h0M1483.6 459.7h0M1488.1 461.9h0M1494.9 468.7h0M1497.1 441.6h0M1503.9 455.2h0M1515.1 442.8h0M1508.4 459.7h0M1521.9 455.2h0M1517.4 468.7h0M1483.6 383.1h0M1543.3 377.4h0M1498.2 396.6h0M1508.4 392.1h0M1526.4 393.2h0M1546.7 397.7h0M1526.4 409.0h0M1564.7 411.2h0M1544.4 475.4h0M1476.8 468.7h0M1481.3 475.4h0M1521.9 475.4h0M1564.7 590.7h0M1573.0 590.7h0M1556.8 569.7h0M1564.7 568.1h0M1570.3 570.4h0M1546.0 562.5h0M1550.1 565.9h0M1539.9 553.0h0M1550.1 551.2h0M1546.7 545.1h0M1566.9 555.1h0M1574.8 550.1h0M1574.8 542.2h0M1564.7 540.0h0M1564.7 545.6h0M1556.8 540.0h0M1546.0 536.6h0M1553.4 532.1h0M1510.6 532.1h0M1495.3 514.1h0M1542.2 520.8h0M1535.4 512.9h0M1428.4 493.8h0M1396.2 484.1h0M1402.5 465.0h0M1368.3 502.8h0M1436.3 481.9h0M1452.1 488.2h0M1458.8 488.8h0M1465.6 494.2h0M1481.3 498.7h0M1482.5 503.9h0M1505.0 506.2h0M1510.6 503.9h0M1514.7 508.4h0M1524.1 506.2h0M1470.1 484.8h0M1439.7 466.8h0M1443.1 473.5h0M1448.7 474.6h0M1457.7 466.8h0M1459.9 471.3h0M1476.8 467.9h0M1479.1 481.4h0M1485.9 476.9h0M1491.5 482.5h0M1494.9 470.1h0M1492.6 489.3h0M1502.7 484.8h0M1503.9 492.7h0M1510.6 483.7h0M1516.3 482.5h0M1519.6 469.0h0M1524.1 467.9h0M1526.4 482.5h0M1533.2 481.4h0M1537.7 476.9h0M1528.7 491.5h0M1535.4 493.8h0M1521.9 496.0h0M1517.4 499.4h0M1539.9 498.3h0M1544.4 505.1h0M1548.9 516.3h0M1555.7 525.3h0M1566.9 527.6h0M1574.8 525.3h0M1571.5 532.1h0"/>
<path class="d" stroke="#FFA15A" d="M1275.2 304.7h0M1271.7 305.6h0M1278.7 305.5h0M1278.4 308.2h0M1273.4 310.2h0M1276.8 307.8h0M1275.5 302.5h0M1270.7 304.4h0M1269.9 298.3h0M1274.8 300.9h0M1277.5 304.2h0M1274.1 309.8h0M1278.6 300.8h0"/>
<path class="d" stroke="#19D3F3" d="M1222.7 241.2h0M1225.3 229.1h0M1226.3 247.6h0M1227.8 238.1h0M1231.1 212.7h0M1220.7 261.6h0M1231.9 227.8h0M1220.0 234.4h0M1217.9 244.9h0M1219.1 258.5h0M1219.4 212.5h0M1240.1 225.2h0M1233.4 206.0h0M1231.2 232.3h0M1225.1 227.0h0M1231.3 208.9h0M1234.1 222.7h0M1216.7 237.2h0M1225.7 257.6h0M1228.0 235.4h0M1224.9 231.7h0M1225.7 202.6h0M1229.8 213.6h0M1235.8 228.7h0M1238.8 216.1h0M1237.5 229.2h0M1227.1 247.2h0M1216.5 233.3h0M1221.8 250.0h0M1231.3 242.5h0M1235.9 242.6h0M1222.7 205.5h0M1220.3 223.2h0M1226.7 228.5h0M1227.7 233.5h0M1231.8 247.2h0M1232.4 229.3h0M1224.2 255.3h0M1222.4 235.8h0M1224.5 215.2h0M1236.4 239.1h0M1229.0 218.1h0M1217.1 247.7h0M1229.4 219.4h0M1230.5 220.3h0M1220.1 251.7h0M1221.1 239.4h0M1231.9 216.5h0M1228.1 245.1h0M1221.2 243.3h0M1224.9 205.9h0M1231.7 239.4h0M1224.3 219.1h0M1219.8 246.6h0M1229.3 223.2h0M1224.9 224.7h0M1227.1 225.1h0M1216.0 203.7h0M1225.6 246.4h0M1222.9 243.7h0M1213.7 258.9h0M1239.1 242.1h0M1227.2 204.3h0M1228.1 234.3h0M1233.4 238.1h0M1237.9 241.1h0M1234.7 216.3h0M1220.3 224.1h0M1228.0 250.9h0M1221.0 218.3h0M1224.1 210.7h0M1229.4 218.2h0M1236.2 244.0h0M1217.0 210.0h0M1232.6 220.0h0M1229.3 235.2h0M1217.3 207.6h0M1225.2 215.0h0M1236.3 232.9h0M1225.7 233.9h0M1229.3 209.7h0M1233.7 214.9h0M1226.6 249.9h0M1226.2 217.0h0M1236.8 227.5h0M1235.6 224.9h0M1228.8 212.4h0M1214.0 244.9h0M1230.7 221.3h0M1217.6 222.1h0M1214.0 231.4h0M1236.0 235.3h0M1227.6 217.7h0M1236.4 202.1h0M1233.1 205.7h0M1216.4 213.7h0M1232.7 243.9h0M1217.5 220.1h0M1228.7 239.0h0M1215.3 204.1h0M1229.2 230.2h0M1224.8 201.1h0M1229.5 245.0h0M1238.0 222.6h0M1233.5 220.6h0M1221.4 203.8h0M1234.1 223.1h0M1231.3 249.1h0M1224.4 234.8h0M1230.5 220.2h0M1227.0 201.8h0M1232.0 237.7h0M1224.6 207.5h0M1226.9 251.5h0M1219.7 243.4h0M1222.6 210.6h0M1228.0 222.5h0M1228.9 242.2h0M1229.5 250.5h0M1233.9 215.1h0M1219.9 245.5h0M1219.7 196.9h0M1237.3 242.8h0M1229.4 250.0h0M1231.7 222.2h0M1219.7 237.9h0M1227.4 218.7h0M1238.4 221.0h0M1229.0 233.2h0M1214.1 237.8h0M1228.8 231.1h0M1226.3 238.5h0M1233.8 203.7h0M1240.5 237.9h0M1226.8 244.9h0M1230.6 242.8h0M1234.8 220.4h0M1218.9 219.5h0M1224.5 224.5h0M1228.6 250.8h0M1232.6 206.0h0M1229.4 208.8h0M1230.3 231.8h0M1219.9 215.4h0M1219.3 239.1h0M1237.4 244.6h0M1232.1 245.6h0M1223.4 226.8h0M1231.6 207.2h0M1219.9 227.0h0M1218.0 201.6h0M1229.4 250.7h0M1225.7 254.2h0M1229.0 225.7h0M1230.0 219.0h0M1227.9 228.6h0M1219.7 237.8h0M1225.2 216.1h0M1222.4 202.5h0M1225.7 204.5h0M1237.4 204.5h0M1215.1 227.7h0M1212.8 247.5h0M1225.1 236.8h0M1225.6 221.2h0M1223.8 212.9h0M1216.9 228.4h0M1232.2 219.6h0M1215.4 243.1h0M1231.8 238.7h0M1215.2 227.2h0M1228.8 242.0h0M1227.5 234.4h0M1213.3 212.3h0M1226.6 250.0h0M1235.0 216.1h0M1234.6 213.0h0M1232.5 244.8h0M1221.6 216.5h0M1225.6 228.7h0M1219.0 248.4h0M1236.7 216.0h0M1220.2 215.7h0M1217.3 251.2h0M1221.6 236.6h0M1241.2 206.9h0M1234.3 243.7h0M1233.2 258.6h0M1221.9 257.9h0M1228.4 198.2h0M1213.8 242.9h0M1230.0 238.7h0M1230.7 224.6h0M1220.1 259.6h0M1228.2 226.6h0M1226.9 238.9h0M1231.6 218.0h0M1232.7 230.1h0M1236.0 250.1h0M1225.8 248.0h0M1231.8 227.5h0M1234.4 200.8h0M1241.1 207.4h0M1227.7 216.4h0M1222.7 210.9h0M1221.1 224.0h0M1225.9 225.5h0M1217.5 243.4h0M1232.6 198.3h0M1238.6 215.1h0M1221.5 242.4h0M1237.3 212.0h0M1229.8 252.0h0M1222.4 213.8h0M1238.3 234.0h0M1234.7 254.2h0M1234.6 232.0h0M1231.9 232.0h0M1235.4 245.8h0M1224.4 219.3h0M1224.3 203.5h0M1221.8 251.8h0M1234.7 255.2h0M1231.1 235.4h0M1235.4 223.5h0M1224.1 202.7h0M1224.6 214.5h0M1226.9 220.8h0M1227.1 235.0h0M1225.0 248.4h0M1239.3 230.2h0M1228.6 238.1h0M1221.7 199.1h0M1229.2 231.7h0M1228.4 255.8h0M1227.5 213.3h0M1225.2 244.6h0M1240.1 245.7h0M1220.1 217.6h0M1233.6 242.7h0M1235.1 230.5h0M1235.5 211.6h0M1219.5 254.8h0M1221.6 205.9h0M1230.4 251.7h0M1231.7 211.9h0M1232.1 222.1h0M1221.4 251.4h0M1223.9 237.8h0M1240.7 214.3h0M1233.0 223.6h0M1233.0 210.0h0M1234.5 237.9h0M1226.0 227.3h0M1230.0 258.5h0M1213.7 245.5h0M1224.3 220.6h0M1230.0 260.8h0M1232.7 215.1h0M1221.0 241.1h0M1215.6 247.2h0M1220.0 235.6h0M1218.0 228.6h0M1225.9 215.1h0M1231.2 253.7h0M1239.7 236.3h0M1228.5 215.2h0M1220.5 228.1h0M1228.8 213.7h0M1223.9 223.6h0M1236.0 214.0h0M1236.2 200.1h0M1224.7 224.1h0M1237.4 221.4h0M1225.2 232.3h0M1232.9 229.1h0M1230.3 232.7h0M1225.6 223.2h0M1233.9 211.4h0M1229.3 226.1h0M1231.9 228.3h0M1224.8 250.6h0M1225.4 229.5h0M1230.2 212.6h0M1224.0 247.2h0M1216.6 227.7h0M1216.1 247.4h0M1229.1 247.0h0M1219.6 199.1h0M1219.2 207.1h0M1220.8 240.3h0M1232.5 217.5h0M1228.2 233.3h0M1224.7 216.8h0M1239.2 208.5h0M1223.8 227.0h0M1213.8 219.4h0M1228.8 216.2h0M1229.1 240.1h0M1229.3 213.0h0M1229.4 222.7h0M1223.3 256.8h0M1229.7 248.2h0M1225.9 228.8h0M1215.9 223.8h0M1218.4 234.3h0M1223.5 233.5h0M1215.8 198.6h0M1238.2 210.5h0M1225.3 253.8h0M1217.8 206.2h0M1219.8 244.3h0M1226.5 227.8h0M1220.7 217.6h0M1216.8 231.3h0M1215.4 247.0h0M1225.8 239.3h0M1240.8 259.4h0M1222.6 239.7h0M1226.2 213.9h0M1218.8 241.8h0M1227.3 246.2h0M1228.0 226.7h0M1215.6 208.1h0M1232.5 211.2h0M1225.9 242.0h0M1235.9 208.6h0M1217.6 246.3h0M1229.0 204.1h0M1239.7 230.6h0M1223.6 200.1h0M1217.0 225.5h0M1222.7 249.6h0M1227.6 243.6h0M1222.5 203.9h0M1229.5 246.3h0M1235.4 251.9h0M1218.6 212.5h0M1218.0 243.4h0M1219.0 214.7h0M1223.4 198.4h0M1225.8 256.2h0M1224.9 255.2h0M1221.6 207.4h0M1230.1 252.2h0M1222.5 214.8h0M1228.9 237.3h0M1236.7 198.4h0M1230.5 240.2h0M1224.7 253.7h0M1227.3 232.0h0M1220.8 247.3h0M1224.4 236.0h0M1239.5 251.1h0M1219.8 216.3h0M1223.7 215.6h0M1226.6 218.4h0M1227.7 221.6h0M1230.9 202.2h0M1214.9 252.0h0M1220.3 222.3h0M1223.8 242.3h0M1241.7 209.8h0M1243.9 228.4h0M1259.0 257.5h0M1253.0 265.5h0M1261.2 230.2h0M1253.6 251.7h0M1262.4 227.6h0M1245.1 250.6h0M1250.5 225.9h0M1242.8 227.7h0M1271.6 248.5h0M1245.5 213.9h0M1253.6 240.7h0M1254.3 237.7h0M1266.1 216.7h0M1249.5 217.8h0M1248.7 264.0h0M1263.6 232.1h0M1265.7 240.4h0M1247.1 211.9h0M1248.6 238.8h0M1241.6 221.8h0M1255.7 251.1h0M1261.1 234.4h0M1261.0 227.7h0M1243.0 242.6h0M1254.1 239.4h0M1241.5 233.4h0M1273.7 239.5h0M1242.8 212.6h0M1247.0 250.6h0M1240.2 236.7h0M1247.4 217.9h0M1259.9 262.3h0M1256.7 272.5h0M1245.0 215.6h0M1251.2 231.5h0M1240.7 217.0h0M1256.1 235.6h0M1247.7 234.9h0M1272.2 252.4h0M1247.1 259.3h0M1240.9 220.9h0M1261.9 224.6h0M1266.7 240.9h0M1253.2 228.2h0M1248.6 264.7h0M1251.3 228.1h0M1255.6 209.7h0M1241.2 234.2h0M1244.3 240.0h0M1242.9 234.5h0M1259.4 270.4h0M1248.5 245.6h0M1254.7 243.3h0M1247.4 208.0h0M1261.1 254.9h0M1266.8 204.5h0M1240.4 225.7h0M1265.3 199.1h0M1244.8 250.1h0M1264.3 261.6h0M1246.2 197.3h0M1257.8 208.1h0M1244.1 212.3h0M1260.0 225.5h0M1275.8 221.9h0M1245.7 245.3h0M1250.9 227.3h0M1254.4 232.5h0M1273.9 243.3h0M1244.3 225.4h0M1257.9 232.3h0M1250.8 261.2h0M1243.5 225.5h0M1242.2 239.7h0M1240.5 256.5h0M1258.4 200.3h0M1257.3 241.8h0M1251.8 222.7h0M1271.2 226.9h0M1247.6 256.8h0M1264.2 235.1h0M1246.7 250.8h0M1242.6 223.7h0M1240.5 214.9h0M1244.8 210.3h0M1259.7 246.9h0M1252.0 215.9h0M1246.9 229.3h0M1263.2 220.4h0M1257.0 254.2h0M1240.7 237.3h0M1257.7 217.8h0M1245.0 218.6h0M1250.3 266.6h0M1255.3 216.3h0M1264.7 243.9h0M1267.1 230.5h0M1263.4 219.8h0M1260.2 212.1h0M1257.0 214.5h0M1246.4 238.0h0M1241.0 212.5h0M1246.0 242.8h0M1249.4 243.8h0M1247.4 250.5h0M1266.2 196.0h0M1243.0 228.2h0M1260.9 205.7h0M1240.9 233.4h0M1246.5 205.4h0M1242.6 219.1h0M1258.7 219.2h0M1266.3 216.8h0M1256.6 269.3h0M1245.9 229.2h0M1274.1 259.1h0M1258.1 236.9h0M1240.1 225.7h0M1253.3 258.9h0M1262.8 258.0h0M1245.6 219.5h0M1257.8 246.5h0M1240.4 219.7h0M1251.4 216.5h0M1252.5 238.0h0M1244.3 241.6h0M1246.1 237.0h0M1241.4 208.1h0M1273.2 230.0h0M1251.7 243.7h0M1263.0 254.8h0M1256.2 214.9h0M1272.7 250.5h0M1256.4 198.9h0M1272.0 237.9h0M1244.8 234.3h0M1265.0 216.0h0M1259.6 251.9h0M1258.0 224.8h0M1269.0 239.8h0M1250.3 240.2h0M1263.1 220.1h0M1254.1 244.2h0M1248.3 223.2h0M1256.8 210.2h0M1241.5 234.3h0M1247.4 249.8h0M1241.6 232.8h0M1265.9 255.0h0M1254.7 226.4h0M1253.7 212.7h0M1252.6 250.5h0M1254.7 239.7h0M1245.6 261.8h0M1263.9 252.6h0M1259.4 254.0h0M1243.8 222.2h0M1271.0 234.2h0M1242.1 228.8h0M1259.6 216.4h0M1258.2 232.6h0M1262.7 250.4h0M1257.5 239.0h0M1241.6 238.8h0M1261.5 243.2h0M1249.3 217.2h0M1248.1 242.3h0M1255.4 211.4h0M1242.1 227.9h0M1249.3 252.2h0M1258.6 232.2h0M1249.8 211.0h0M1243.7 219.7h0M1261.2 214.0h0M1269.0 242.7h0M1253.7 254.7h0M1246.5 238.9h0M1243.4 227.0h0M1251.5 234.4h0M1261.5 246.8h0M1253.4 211.3h0M1261.6 209.2h0M1240.1 226.5h0M1249.1 224.0h0M1247.3 216.7h0M1248.2 247.4h0M1246.9 199.1h0M1242.4 257.6h0M1250.1 260.2h0M1287.5 257.4h0M1290.0 257.8h0M1277.8 227.5h0M1290.0 266.4h0M1290.0 251.9h0M1290.0 232.3h0M1290.0 242.1h0M1290.0 244.2h0M1280.6 248.9h0M1285.5 217.5h0M1277.3 224.5h0M1284.8 254.5h0M1282.1 253.2h0M1290.0 232.4h0M1289.3 244.6h0M1289.8 258.5h0M1290.0 246.4h0M1284.1 241.5h0M1290.0 221.6h0M1290.0 230.1h0M1290.0 252.0h0M1284.4 246.2h0M1277.6 251.3h0M1290.0 230.5h0M1285.9 236.7h0M1282.9 239.2h0M1279.7 241.3h0M1290.0 265.2h0M1278.7 264.2h0M1284.6 250.2h0M1281.6 246.6h0M1290.0 250.0h0M1220.0 188.2h0M1248.7 193.8h0M1257.7 191.1h0M1274.8 197.2h0M1292.1 217.4h0M1283.1 214.1h0M1218.5 278.3h0M1221.2 270.4h0M1310.1 254.6h0M1320.7 262.5h0M1352.9 291.8h0M1331.5 316.6h0M1285.4 288.4h0M1241.4 306.4h0M1215.5 193.8h0M1229.1 196.0h0M1240.3 199.4h0M1311.3 327.9h0M1250.5 336.9h0M1359.7 347.0h0M1331.5 320.0h0"/>
<path class="d" stroke="#FF6692" d="M1280.2 375.0h0M1274.8 403.5h0M1286.2 365.6h0M1266.8 359.8h0M1292.7 372.0h0M1288.2 365.7h0M1274.8 389.6h0M1272.4 384.9h0M1293.2 407.4h0M1291.7 372.3h0M1284.4 376.9h0M1281.9 365.1h0M1281.4 367.2h0M1302.1 402.3h0M1292.4 400.5h0M1268.9 361.6h0M1300.7 406.5h0M1295.8 397.8h0M1280.3 368.2h0M1274.4 348.6h0M1294.3 377.0h0M1286.8 374.0h0M1277.1 361.3h0M1289.5 364.5h0M1285.0 398.4h0M1278.6 367.1h0M1264.4 359.7h0M1282.7 389.9h0M1306.9 420.4h0M1265.6 360.4h0M1267.2 357.5h0M1300.9 420.4h0M1276.7 378.8h0M1300.1 419.0h0M1297.8 383.6h0M1278.4 371.3h0M1280.4 387.3h0M1297.7 403.4h0M1285.3 368.7h0M1296.9 385.8h0M1280.4 374.1h0M1291.4 397.9h0M1281.5 393.8h0M1271.8 369.8h0M1276.0 384.3h0M1278.2 391.5h0M1305.4 417.9h0M1292.1 386.1h0M1281.0 366.8h0M1284.6 389.4h0M1291.6 419.6h0M1303.4 422.0h0M1276.7 353.1h0M1274.4 400.1h0M1285.8 395.3h0M1271.5 389.6h0M1284.3 401.0h0M1284.3 412.5h0M1262.7 353.1h0M1281.2 430.0h0M1286.6 395.2h0M1285.0 371.0h0M1282.6 362.4h0M1276.2 381.2h0M1286.5 425.9h0M1285.9 387.2h0M1293.3 390.3h0M1287.8 367.1h0M1294.8 426.5h0M1275.4 380.4h0M1286.2 370.8h0M1289.5 396.2h0M1276.7 372.0h0M1274.8 381.4h0M1270.8 346.7h0M1297.3 400.6h0M1290.4 366.9h0M1285.2 400.2h0M1289.0 398.1h0M1301.7 404.5h0M1277.6 403.6h0M1287.2 414.2h0M1282.0 383.4h0M1285.5 378.5h0M1277.7 413.8h0M1281.4 358.8h0M1267.1 363.8h0M1284.3 355.3h0M1279.2 367.2h0M1288.2 418.1h0M1299.8 421.1h0M1282.3 375.9h0M1268.4 350.7h0M1287.4 368.0h0M1283.6 392.0h0M1296.5 426.4h0M1294.0 381.8h0M1278.8 410.9h0M1295.2 407.1h0M1283.2 351.1h0M1305.8 416.2h0M1278.8 420.0h0M1294.7 401.7h0M1298.4 385.3h0M1295.2 417.9h0M1288.6 401.9h0M1283.1 392.1h0M1273.9 399.0h0M1304.4 424.5h0M1268.9 363.6h0M1269.8 382.7h0M1288.3 375.8h0M1294.7 394.3h0M1292.8 391.8h0M1289.3 378.4h0M1278.6 394.3h0M1283.5 384.8h0M1289.6 419.8h0M1284.4 415.6h0M1287.5 386.8h0M1276.9 390.3h0M1281.5 380.0h0M1291.4 366.7h0M1286.6 398.8h0M1289.4 412.5h0M1285.2 363.0h0M1281.3 415.1h0M1295.8 422.9h0M1288.6 364.7h0M1282.8 359.7h0M1270.0 351.8h0M1297.9 413.9h0M1282.3 391.7h0M1290.4 384.6h0M1271.7 366.9h0M1280.1 405.9h0M1294.5 376.2h0M1291.3 421.9h0M1281.9 382.4h0M1279.2 408.3h0M1283.7 400.8h0M1297.3 391.0h0M1286.9 380.0h0M1294.8 430.7h0M1278.7 419.5h0M1285.4 363.2h0M1298.2 429.7h0M1286.3 355.4h0M1284.5 401.9h0M1293.2 405.2h0M1279.9 388.0h0M1266.8 362.8h0M1265.5 364.8h0M1295.8 410.0h0M1277.1 368.7h0M1283.9 388.1h0M1272.7 393.2h0M1294.2 371.6h0M1273.4 361.1h0M1263.5 356.3h0M1242.8 411.8h0M1246.5 413.0h0M1254.5 433.7h0M1251.9 421.8h0M1252.1 401.2h0M1246.1 404.8h0M1253.8 429.0h0M1249.4 407.2h0M1254.9 443.3h0M1245.6 407.7h0M1246.4 429.9h0M1245.2 416.8h0M1246.3 413.3h0M1245.3 425.8h0M1252.2 408.7h0M1247.3 401.1h0M1247.2 401.7h0M1246.1 420.0h0M1250.3 419.5h0M1250.3 441.3h0M1249.4 422.9h0M1257.0 433.9h0M1252.8 435.6h0M1250.9 412.1h0M1244.6 439.3h0M1256.1 403.3h0M1243.6 411.1h0M1250.4 439.3h0M1252.6 405.6h0M1247.8 445.5h0M1246.1 445.0h0M1254.1 397.2h0M1255.4 424.0h0M1247.0 445.3h0M1256.2 399.7h0M1251.3 399.6h0M1243.7 421.6h0M1253.6 433.2h0M1249.1 413.8h0M1247.4 424.1h0M1251.6 422.8h0M1251.5 425.0h0M1245.8 424.3h0M1246.9 395.2h0M1252.9 404.4h0M1253.5 397.5h0M1258.6 445.0h0M1249.5 399.1h0M1250.6 435.0h0M1245.8 397.4h0M1259.8 421.0h0M1251.1 421.6h0M1252.2 422.2h0M1256.3 410.8h0M1253.5 408.9h0M1246.0 413.5h0M1248.2 444.7h0M1255.7 398.1h0M1251.5 411.1h0M1247.4 388.6h0M1248.7 432.9h0M1255.3 410.6h0M1243.8 390.0h0M1249.1 392.8h0M1255.5 405.7h0M1255.1 404.6h0M1244.6 407.2h0M1249.3 410.1h0M1251.7 388.3h0M1251.2 419.2h0M1248.7 413.2h0M1247.0 428.8h0M1248.5 385.1h0M1250.6 431.1h0M1250.0 437.8h0M1258.3 422.4h0M1251.8 396.5h0M1253.6 396.3h0M1253.0 412.3h0M1248.3 421.5h0M1254.2 425.3h0M1247.1 415.9h0M1255.2 378.0h0M1253.2 407.9h0M1247.4 413.7h0M1254.1 402.6h0M1247.7 423.2h0M1254.0 438.7h0M1244.8 388.5h0M1251.0 425.4h0M1256.6 396.1h0M1247.1 394.0h0M1245.9 408.1h0M1252.4 427.2h0M1249.4 409.6h0M1262.0 418.1h0M1263.1 400.3h0M1267.8 406.5h0M1263.4 396.9h0M1262.8 413.1h0M1264.3 388.0h0M1267.0 415.4h0M1264.9 402.6h0M1262.1 400.1h0M1261.4 402.4h0M1269.3 398.2h0M1264.6 410.7h0M1260.8 417.8h0M1266.4 402.0h0M1269.5 407.0h0M1312.9 385.8h0M1318.5 405.1h0M1341.0 411.2h0M1354.1 426.3h0M1367.1 422.9h0M1325.9 416.9h0M1331.5 423.6h0M1313.5 419.1h0M1319.2 419.1h0M1312.4 431.5h0M1324.8 436.0h0M1318.5 449.5h0M1292.1 448.4h0M1300.0 434.9h0M1332.7 465.3h0M1291.0 465.3h0M1286.5 469.8h0M1262.8 468.2h0M1252.7 462.4h0M1243.7 461.9h0M1306.8 477.7h0M1306.8 393.2h0M1265.1 450.7h0M1260.6 441.6h0M1243.7 462.7h0M1252.7 463.4h0M1262.8 468.3h0M1287.6 470.1h0M1291.7 466.8h0M1306.8 479.1h0M1297.8 485.2h0M1310.4 490.2h0M1332.7 465.0h0M1342.1 501.2h0M1371.4 492.7h0M1367.6 498.7h0M1384.5 512.5h0M1435.6 517.2h0M1472.3 545.1h0M1482.0 566.1h0M1528.9 558.2h0"/>
<path class="d" stroke="#B6E880" d="M1275.8 313.9h0M1256.6 306.1h0M1247.9 284.8h0M1253.5 292.5h0M1254.0 297.0h0M1244.5 306.8h0M1266.2 301.5h0M1258.4 273.1h0M1260.5 305.5h0M1273.8 272.5h0M1259.6 282.4h0M1255.9 267.8h0M1274.1 283.7h0M1279.3 299.1h0M1263.3 289.6h0M1247.8 303.7h0M1266.8 302.9h0M1243.7 286.0h0M1277.9 281.4h0M1263.5 307.1h0M1247.1 298.7h0M1285.9 303.2h0M1240.1 306.2h0M1274.4 284.9h0M1255.1 279.5h0M1252.8 291.8h0M1238.4 281.9h0M1263.1 279.7h0M1246.0 276.5h0M1274.4 287.2h0M1259.3 284.4h0M1264.6 294.9h0M1286.6 297.1h0M1261.6 306.2h0M1253.8 293.3h0M1269.3 292.1h0M1257.5 295.7h0M1252.4 291.2h0M1248.5 294.1h0M1256.7 281.1h0M1239.7 290.8h0M1268.7 270.9h0M1267.0 303.9h0M1266.8 291.7h0M1260.7 295.6h0M1255.2 269.7h0M1272.8 275.5h0M1270.3 280.3h0M1270.9 260.7h0M1253.9 302.9h0M1265.9 297.3h0M1258.3 289.1h0M1252.8 303.6h0M1274.8 263.5h0M1240.9 274.3h0M1256.0 303.6h0M1241.7 298.9h0M1277.0 287.1h0M1269.2 294.8h0M1263.8 290.4h0M1243.2 282.3h0M1259.4 281.4h0M1269.7 275.2h0M1269.3 288.1h0M1265.3 285.7h0M1285.0 300.9h0M1246.6 266.0h0M1285.5 288.0h0M1260.9 282.4h0M1264.9 278.4h0M1271.8 284.0h0M1273.9 309.5h0M1285.9 313.2h0M1260.8 258.7h0M1269.8 302.3h0M1272.3 265.9h0M1241.4 272.8h0M1263.3 275.2h0M1263.0 269.9h0M1268.1 304.0h0M1282.7 310.8h0M1269.5 263.7h0M1264.1 296.8h0M1261.6 294.0h0M1261.1 281.8h0M1240.9 282.7h0M1257.0 285.0h0M1247.7 283.4h0M1241.0 274.6h0M1274.1 285.7h0M1246.9 289.8h0M1245.6 290.1h0M1276.0 272.6h0M1279.7 297.9h0M1265.4 269.3h0M1255.5 278.5h0M1267.2 271.4h0M1267.2 261.7h0M1261.2 289.9h0M1263.6 276.6h0M1294.7 306.5h0M1305.7 317.3h0M1295.8 303.4h0M1303.5 303.7h0M1318.4 304.1h0M1308.5 307.4h0M1308.7 307.1h0M1312.9 301.3h0M1301.3 308.3h0M1294.7 299.7h0M1295.8 303.3h0M1301.4 306.3h0M1316.6 310.9h0M1305.9 302.9h0M1301.5 306.6h0M1306.6 296.9h0M1299.4 303.5h0M1313.6 306.6h0M1266.2 245.6h0M1273.0 243.3h0M1279.7 240.0h0M1296.6 238.2h0M1305.6 249.0h0M1253.2 252.8h0M1283.1 250.1h0M1280.9 257.3h0M1268.5 262.5h0M1256.1 259.1h0M1289.9 256.9h0M1298.9 260.2h0M1310.1 263.6h0M1325.5 268.1h0M1276.4 270.4h0M1287.6 267.0h0M1301.1 272.6h0M1313.5 273.8h0M1316.9 279.4h0M1304.5 286.1h0M1321.4 289.5h0M1339.4 289.5h0M1345.1 294.0h0M1292.1 297.4h0M1300.0 301.9h0M1307.9 304.2h0M1315.8 301.9h0M1323.7 304.2h0M1296.6 313.2h0M1303.4 314.3h0M1312.4 313.2h0M1319.2 308.7h0M1368.7 300.8h0M1374.3 305.3h0M1361.5 309.8h0M1369.8 315.4h0M1396.9 317.7h0M1343.9 318.8h0M1330.4 327.9h0M1332.7 323.4h0M1343.9 322.3h0M1355.2 335.8h0M1371.0 331.3h0M1377.7 330.1h0M1366.5 324.5h0M1380.0 335.8h0M1364.2 342.5h0M1375.5 349.3h0M1366.5 354.9h0M1381.1 350.4h0M1391.2 357.2h0M1393.5 360.5h0M1385.6 365.1h0M1407.0 336.9h0M1408.1 342.5h0M1354.1 377.4h0M1419.4 374.1h0M1418.3 389.8h0M1463.3 404.5h0M1396.9 320.0h0M1258.3 334.6h0M1268.5 330.1h0M1275.2 329.0h0M1276.4 339.1h0M1288.7 324.5h0M1265.1 322.3h0"/>
</g>
<text x="1182.8" y="230.0" font-size="28" text-anchor="end">2</text>
<text x="1182.8" y="298.4" font-size="28" text-anchor="end">0</text>
<text x="1182.8" y="366.8" font-size="28" text-anchor="end">−2</text>
<text x="1182.8" y="435.2" font-size="28" text-anchor="end">−4</text>
<text x="1182.8" y="503.6" font-size="28" text-anchor="end">−6</text>
<text x="1182.8" y="572.0" font-size="28" text-anchor="end">−8</text>
<text x="1186.1" y="650.3" font-size="28" text-anchor="middle" letter-spacing="0.45">−0.02</text>
<text x="1326.3" y="650.3" font-size="28" text-anchor="middle" letter-spacing="0.45">0</text>
<text x="1467.0" y="650.3" font-size="28" text-anchor="middle" letter-spacing="0.45">0.02</text>
<text x="1607.8" y="650.3" font-size="28" text-anchor="middle" letter-spacing="0.45">0.04</text>
<text x="1398" y="702" font-size="24" text-anchor="middle">Frequency</text>
<text x="1397.5" y="149.6" font-size="32" text-anchor="middle">Module 2</text>
<text transform="translate(24.3,390) rotate(-90)" font-size="24" text-anchor="middle">Module Value</text>
<text x="95.6" y="79.5" font-size="36" letter-spacing="0.26">Frequency 1 (λ=0.1627) vs Gene Modules</text>
<circle cx="1682" cy="189" r="5" fill="#636EFA"/>
<text x="1721.8" y="197.5" font-size="24" letter-spacing="0.18">Pre-endocrine</text>
<circle cx="1682" cy="247" r="5" fill="#EF553B"/>
<text x="1721.8" y="255.5" font-size="24" letter-spacing="0.18">Ductal</text>
<circle cx="1682" cy="305" r="5" fill="#00CC96"/>
<text x="1721.8" y="313.5" font-size="24" letter-spacing="0.18">Alpha</text>
<circle cx="1682" cy="363" r="5" fill="#AB63FA"/>
<text x="1721.8" y="371.5" font-size="24" letter-spacing="0.18">Ngn3 high EP</text>
<circle cx="1682" cy="421" r="5" fill="#FFA15A"/>
<text x="1721.8" y="429.5" font-size="24" letter-spacing="0.18">Delta</text>
<circle cx="1682" cy="479" r="5" fill="#19D3F3"/>
<text x="1721.8" y="487.5" font-size="24" letter-spacing="0.18">Beta</text>
<circle cx="1682" cy="537" r="5" fill="#FF6692"/>
<text x="1721.8" y="545.5" font-size="24" letter-spacing="0.18">Ngn3 low EP</text>
<circle cx="1682" cy="595" r="5" fill="#B6E880"/>
<text x="1721.8" y="603.5" font-size="24" letter-spacing="0.18">Epsilon</text>
</svg></body></html>
